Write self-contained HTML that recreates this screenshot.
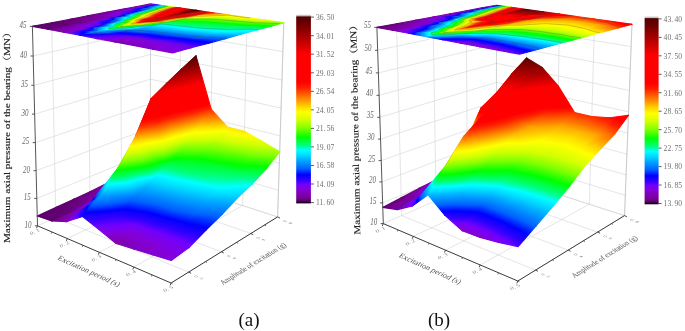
<!DOCTYPE html>
<html><head><meta charset="utf-8"><style>
html,body{margin:0;padding:0;background:#fff;}
svg{display:block;}
.t{stroke-width:1.1px;stroke-linejoin:round}
.zt{font:italic 10px "Liberation Serif",serif;fill:#666;text-anchor:end;}
.cb{font:7.6px "Liberation Serif",serif;fill:#707070;}
.cap{font:19px "Liberation Serif",serif;fill:#111;}
.ttl{font:9px "Liberation Serif","Noto Serif CJK SC",serif;fill:#222;stroke:#222;stroke-width:0.15px;}
.tl{font:6.3px "Liberation Serif",serif;fill:#808080;text-anchor:middle;}
.axt{font:7.5px "Liberation Serif",serif;fill:#505050;}
</style></head><body>
<svg width="685" height="331" viewBox="0 0 685 331">
<defs><linearGradient id="g1" gradientUnits="userSpaceOnUse" x1="136.2" y1="169.9" x2="127.7" y2="151"><stop offset="0" stop-color="#7a009d"/><stop offset="0.056" stop-color="#8000b4"/><stop offset="0.152" stop-color="#8400dc"/><stop offset="0.234" stop-color="#7000ff"/><stop offset="0.316" stop-color="#3000ff"/><stop offset="0.419" stop-color="#0000ff"/><stop offset="0.529" stop-color="#0060ff"/><stop offset="0.69" stop-color="#00a8ff"/><stop offset="0.786" stop-color="#00d8ff"/><stop offset="0.882" stop-color="#00ffff"/><stop offset="0.974" stop-color="#00ff80"/><stop offset="1" stop-color="#00ff6b"/></linearGradient>
<linearGradient id="g2" gradientUnits="userSpaceOnUse" x1="136.2" y1="169.9" x2="131.1" y2="164.2"><stop offset="0" stop-color="#7a009d"/><stop offset="0.056" stop-color="#8000b4"/><stop offset="0.152" stop-color="#8400dc"/><stop offset="0.234" stop-color="#7000ff"/><stop offset="0.316" stop-color="#3000ff"/><stop offset="0.419" stop-color="#0000ff"/><stop offset="0.529" stop-color="#0060ff"/><stop offset="0.69" stop-color="#00a8ff"/><stop offset="0.786" stop-color="#00d8ff"/><stop offset="0.882" stop-color="#00ffff"/><stop offset="0.974" stop-color="#00ff80"/><stop offset="1" stop-color="#00ff6b"/></linearGradient>
<linearGradient id="g3" gradientUnits="userSpaceOnUse" x1="121.4" y1="176.7" x2="116.3" y2="165"><stop offset="0" stop-color="#780097"/><stop offset="0.097" stop-color="#8000b4"/><stop offset="0.229" stop-color="#8400dc"/><stop offset="0.341" stop-color="#7000ff"/><stop offset="0.453" stop-color="#3000ff"/><stop offset="0.595" stop-color="#0000ff"/><stop offset="0.746" stop-color="#0060ff"/><stop offset="0.966" stop-color="#00a8ff"/><stop offset="1" stop-color="#00b4ff"/></linearGradient>
<linearGradient id="g4" gradientUnits="userSpaceOnUse" x1="121.4" y1="176.7" x2="131.2" y2="182.5"><stop offset="0" stop-color="#780097"/><stop offset="0.097" stop-color="#8000b4"/><stop offset="0.229" stop-color="#8400dc"/><stop offset="0.341" stop-color="#7000ff"/><stop offset="0.453" stop-color="#3000ff"/><stop offset="0.595" stop-color="#0000ff"/><stop offset="0.746" stop-color="#0060ff"/><stop offset="0.966" stop-color="#00a8ff"/><stop offset="1" stop-color="#00b4ff"/></linearGradient>
<linearGradient id="g5" gradientUnits="userSpaceOnUse" x1="106" y1="183.8" x2="104.4" y2="180.1"><stop offset="0" stop-color="#760091"/><stop offset="0.186" stop-color="#8000b4"/><stop offset="0.396" stop-color="#8400dc"/><stop offset="0.575" stop-color="#7000ff"/><stop offset="0.754" stop-color="#3000ff"/><stop offset="0.98" stop-color="#0000ff"/><stop offset="1" stop-color="#0008ff"/></linearGradient>
<linearGradient id="g6" gradientUnits="userSpaceOnUse" x1="106" y1="183.8" x2="137.1" y2="181.1"><stop offset="0" stop-color="#760091"/><stop offset="0.186" stop-color="#8000b4"/><stop offset="0.396" stop-color="#8400dc"/><stop offset="0.575" stop-color="#7000ff"/><stop offset="0.754" stop-color="#3000ff"/><stop offset="0.98" stop-color="#0000ff"/><stop offset="1" stop-color="#0008ff"/></linearGradient>
<linearGradient id="g7" gradientUnits="userSpaceOnUse" x1="90" y1="191.7" x2="92.4" y2="196.2"><stop offset="0" stop-color="#67007b"/><stop offset="0.109" stop-color="#760090"/><stop offset="0.468" stop-color="#8000b4"/><stop offset="0.863" stop-color="#8400dc"/><stop offset="1" stop-color="#7c00ea"/></linearGradient>
<linearGradient id="g8" gradientUnits="userSpaceOnUse" x1="90" y1="191.7" x2="120.7" y2="181.7"><stop offset="0" stop-color="#67007b"/><stop offset="0.109" stop-color="#760090"/><stop offset="0.468" stop-color="#8000b4"/><stop offset="0.863" stop-color="#8400dc"/><stop offset="1" stop-color="#7c00ea"/></linearGradient>
<linearGradient id="g9" gradientUnits="userSpaceOnUse" x1="73.2" y1="199.4" x2="77.7" y2="207.8"><stop offset="0" stop-color="#5f0070"/><stop offset="0.356" stop-color="#760090"/><stop offset="1" stop-color="#7e00ae"/></linearGradient>
<linearGradient id="g10" gradientUnits="userSpaceOnUse" x1="73.2" y1="199.4" x2="101.4" y2="186.6"><stop offset="0" stop-color="#5f0070"/><stop offset="0.356" stop-color="#760090"/><stop offset="1" stop-color="#7e00ae"/></linearGradient>
<linearGradient id="g11" gradientUnits="userSpaceOnUse" x1="55.6" y1="207.5" x2="61.9" y2="218.4"><stop offset="0" stop-color="#5b006a"/><stop offset="0.957" stop-color="#760090"/><stop offset="1" stop-color="#760091"/></linearGradient>
<linearGradient id="g12" gradientUnits="userSpaceOnUse" x1="55.6" y1="207.5" x2="87.8" y2="203.7"><stop offset="0" stop-color="#5b006a"/><stop offset="0.957" stop-color="#760090"/><stop offset="1" stop-color="#760091"/></linearGradient>
<linearGradient id="g13" gradientUnits="userSpaceOnUse" x1="37.2" y1="216" x2="41.6" y2="225.4"><stop offset="0" stop-color="#5b006a"/><stop offset="1" stop-color="#67007b"/></linearGradient>
<linearGradient id="g14" gradientUnits="userSpaceOnUse" x1="37.2" y1="216" x2="64.2" y2="201.2"><stop offset="0" stop-color="#5b006a"/><stop offset="1" stop-color="#67007b"/></linearGradient>
<linearGradient id="g15" gradientUnits="userSpaceOnUse" x1="150.6" y1="149.9" x2="128.4" y2="108.2"><stop offset="0" stop-color="#00b4ff"/><stop offset="0.037" stop-color="#00d8ff"/><stop offset="0.087" stop-color="#00ffff"/><stop offset="0.135" stop-color="#00ff80"/><stop offset="0.216" stop-color="#00ff00"/><stop offset="0.304" stop-color="#80ff00"/><stop offset="0.384" stop-color="#d0ff00"/><stop offset="0.463" stop-color="#ffff00"/><stop offset="0.504" stop-color="#ffe000"/><stop offset="0.553" stop-color="#ffb000"/><stop offset="0.603" stop-color="#ff8000"/><stop offset="0.653" stop-color="#ff5000"/><stop offset="0.703" stop-color="#ff2000"/><stop offset="0.762" stop-color="#ff0000"/><stop offset="1" stop-color="#ff0000"/></linearGradient>
<linearGradient id="g16" gradientUnits="userSpaceOnUse" x1="150.6" y1="149.9" x2="127.8" y2="112.2"><stop offset="0" stop-color="#00b4ff"/><stop offset="0.037" stop-color="#00d8ff"/><stop offset="0.087" stop-color="#00ffff"/><stop offset="0.135" stop-color="#00ff80"/><stop offset="0.216" stop-color="#00ff00"/><stop offset="0.304" stop-color="#80ff00"/><stop offset="0.384" stop-color="#d0ff00"/><stop offset="0.463" stop-color="#ffff00"/><stop offset="0.504" stop-color="#ffe000"/><stop offset="0.553" stop-color="#ffb000"/><stop offset="0.603" stop-color="#ff8000"/><stop offset="0.653" stop-color="#ff5000"/><stop offset="0.703" stop-color="#ff2000"/><stop offset="0.762" stop-color="#ff0000"/><stop offset="1" stop-color="#ff0000"/></linearGradient>
<linearGradient id="g17" gradientUnits="userSpaceOnUse" x1="135.8" y1="166" x2="115.1" y2="129.5"><stop offset="0" stop-color="#0008ff"/><stop offset="0.057" stop-color="#0060ff"/><stop offset="0.146" stop-color="#00a8ff"/><stop offset="0.2" stop-color="#00d8ff"/><stop offset="0.254" stop-color="#00ffff"/><stop offset="0.306" stop-color="#00ff80"/><stop offset="0.393" stop-color="#00ff00"/><stop offset="0.489" stop-color="#80ff00"/><stop offset="0.574" stop-color="#d0ff00"/><stop offset="0.66" stop-color="#ffff00"/><stop offset="0.704" stop-color="#ffe000"/><stop offset="0.758" stop-color="#ffb000"/><stop offset="0.811" stop-color="#ff8000"/><stop offset="0.865" stop-color="#ff5000"/><stop offset="0.919" stop-color="#ff2000"/><stop offset="0.983" stop-color="#ff0000"/><stop offset="1" stop-color="#ff0000"/></linearGradient>
<linearGradient id="g18" gradientUnits="userSpaceOnUse" x1="135.8" y1="166" x2="114.9" y2="134.8"><stop offset="0" stop-color="#0008ff"/><stop offset="0.057" stop-color="#0060ff"/><stop offset="0.146" stop-color="#00a8ff"/><stop offset="0.2" stop-color="#00d8ff"/><stop offset="0.254" stop-color="#00ffff"/><stop offset="0.306" stop-color="#00ff80"/><stop offset="0.393" stop-color="#00ff00"/><stop offset="0.489" stop-color="#80ff00"/><stop offset="0.574" stop-color="#d0ff00"/><stop offset="0.66" stop-color="#ffff00"/><stop offset="0.704" stop-color="#ffe000"/><stop offset="0.758" stop-color="#ffb000"/><stop offset="0.811" stop-color="#ff8000"/><stop offset="0.865" stop-color="#ff5000"/><stop offset="0.919" stop-color="#ff2000"/><stop offset="0.983" stop-color="#ff0000"/><stop offset="1" stop-color="#ff0000"/></linearGradient>
<linearGradient id="g19" gradientUnits="userSpaceOnUse" x1="120.5" y1="181.2" x2="102.3" y2="149.4"><stop offset="0" stop-color="#7c00ea"/><stop offset="0.03" stop-color="#7000ff"/><stop offset="0.081" stop-color="#3000ff"/><stop offset="0.146" stop-color="#0000ff"/><stop offset="0.215" stop-color="#0060ff"/><stop offset="0.315" stop-color="#00a8ff"/><stop offset="0.375" stop-color="#00d8ff"/><stop offset="0.435" stop-color="#00ffff"/><stop offset="0.493" stop-color="#00ff80"/><stop offset="0.591" stop-color="#00ff00"/><stop offset="0.697" stop-color="#80ff00"/><stop offset="0.793" stop-color="#d0ff00"/><stop offset="0.888" stop-color="#ffff00"/><stop offset="0.937" stop-color="#ffe000"/><stop offset="0.997" stop-color="#ffb000"/><stop offset="1" stop-color="#ffae00"/></linearGradient>
<linearGradient id="g20" gradientUnits="userSpaceOnUse" x1="120.5" y1="181.2" x2="109.5" y2="172.2"><stop offset="0" stop-color="#7c00ea"/><stop offset="0.03" stop-color="#7000ff"/><stop offset="0.081" stop-color="#3000ff"/><stop offset="0.146" stop-color="#0000ff"/><stop offset="0.215" stop-color="#0060ff"/><stop offset="0.315" stop-color="#00a8ff"/><stop offset="0.375" stop-color="#00d8ff"/><stop offset="0.435" stop-color="#00ffff"/><stop offset="0.493" stop-color="#00ff80"/><stop offset="0.591" stop-color="#00ff00"/><stop offset="0.697" stop-color="#80ff00"/><stop offset="0.793" stop-color="#d0ff00"/><stop offset="0.888" stop-color="#ffff00"/><stop offset="0.937" stop-color="#ffe000"/><stop offset="0.997" stop-color="#ffb000"/><stop offset="1" stop-color="#ffae00"/></linearGradient>
<linearGradient id="g21" gradientUnits="userSpaceOnUse" x1="104.5" y1="193.3" x2="92.7" y2="171.9"><stop offset="0" stop-color="#7e00ae"/><stop offset="0.012" stop-color="#8000b4"/><stop offset="0.094" stop-color="#8400dc"/><stop offset="0.163" stop-color="#7000ff"/><stop offset="0.233" stop-color="#3000ff"/><stop offset="0.321" stop-color="#0000ff"/><stop offset="0.415" stop-color="#0060ff"/><stop offset="0.552" stop-color="#00a8ff"/><stop offset="0.634" stop-color="#00d8ff"/><stop offset="0.716" stop-color="#00ffff"/><stop offset="0.795" stop-color="#00ff80"/><stop offset="0.929" stop-color="#00ff00"/><stop offset="1" stop-color="#3fff00"/></linearGradient>
<linearGradient id="g22" gradientUnits="userSpaceOnUse" x1="104.5" y1="193.3" x2="128.1" y2="196.9"><stop offset="0" stop-color="#7e00ae"/><stop offset="0.012" stop-color="#8000b4"/><stop offset="0.094" stop-color="#8400dc"/><stop offset="0.163" stop-color="#7000ff"/><stop offset="0.233" stop-color="#3000ff"/><stop offset="0.321" stop-color="#0000ff"/><stop offset="0.415" stop-color="#0060ff"/><stop offset="0.552" stop-color="#00a8ff"/><stop offset="0.634" stop-color="#00d8ff"/><stop offset="0.716" stop-color="#00ffff"/><stop offset="0.795" stop-color="#00ff80"/><stop offset="0.929" stop-color="#00ff00"/><stop offset="1" stop-color="#3fff00"/></linearGradient>
<linearGradient id="g23" gradientUnits="userSpaceOnUse" x1="87.8" y1="203.4" x2="83.6" y2="195.6"><stop offset="0" stop-color="#760091"/><stop offset="0.127" stop-color="#8000b4"/><stop offset="0.27" stop-color="#8400dc"/><stop offset="0.391" stop-color="#7000ff"/><stop offset="0.513" stop-color="#3000ff"/><stop offset="0.667" stop-color="#0000ff"/><stop offset="0.831" stop-color="#0060ff"/><stop offset="1" stop-color="#0093ff"/></linearGradient>
<linearGradient id="g24" gradientUnits="userSpaceOnUse" x1="87.8" y1="203.4" x2="109.9" y2="209.7"><stop offset="0" stop-color="#760091"/><stop offset="0.127" stop-color="#8000b4"/><stop offset="0.27" stop-color="#8400dc"/><stop offset="0.391" stop-color="#7000ff"/><stop offset="0.513" stop-color="#3000ff"/><stop offset="0.667" stop-color="#0000ff"/><stop offset="0.831" stop-color="#0060ff"/><stop offset="1" stop-color="#0093ff"/></linearGradient>
<linearGradient id="g25" gradientUnits="userSpaceOnUse" x1="70.2" y1="212.2" x2="70.1" y2="212"><stop offset="0" stop-color="#67007b"/><stop offset="0.068" stop-color="#760090"/><stop offset="0.294" stop-color="#8000b4"/><stop offset="0.543" stop-color="#8400dc"/><stop offset="0.755" stop-color="#7000ff"/><stop offset="0.968" stop-color="#3000ff"/><stop offset="1" stop-color="#2a00ff"/></linearGradient>
<linearGradient id="g26" gradientUnits="userSpaceOnUse" x1="70.2" y1="212.2" x2="91.6" y2="221.4"><stop offset="0" stop-color="#67007b"/><stop offset="0.068" stop-color="#760090"/><stop offset="0.294" stop-color="#8000b4"/><stop offset="0.543" stop-color="#8400dc"/><stop offset="0.755" stop-color="#7000ff"/><stop offset="0.968" stop-color="#3000ff"/><stop offset="1" stop-color="#2a00ff"/></linearGradient>
<linearGradient id="g27" gradientUnits="userSpaceOnUse" x1="51.8" y1="221" x2="54" y2="225.4"><stop offset="0" stop-color="#5f0070"/><stop offset="0.178" stop-color="#760090"/><stop offset="0.559" stop-color="#8000b4"/><stop offset="0.979" stop-color="#8400dc"/><stop offset="1" stop-color="#8300de"/></linearGradient>
<linearGradient id="g28" gradientUnits="userSpaceOnUse" x1="51.8" y1="221" x2="67.6" y2="233"><stop offset="0" stop-color="#5f0070"/><stop offset="0.178" stop-color="#760090"/><stop offset="0.559" stop-color="#8000b4"/><stop offset="0.979" stop-color="#8400dc"/><stop offset="1" stop-color="#8300de"/></linearGradient>
<linearGradient id="g29" gradientUnits="userSpaceOnUse" x1="165.7" y1="100.7" x2="160.6" y2="96.2"><stop offset="0" stop-color="#ff0000"/><stop offset="0.419" stop-color="#ff0000"/><stop offset="0.567" stop-color="#d00000"/><stop offset="0.724" stop-color="#a00000"/><stop offset="0.884" stop-color="#700000"/><stop offset="1" stop-color="#530000"/></linearGradient>
<linearGradient id="g30" gradientUnits="userSpaceOnUse" x1="165.7" y1="100.7" x2="153.9" y2="76.8"><stop offset="0" stop-color="#ff0000"/><stop offset="0.419" stop-color="#ff0000"/><stop offset="0.567" stop-color="#d00000"/><stop offset="0.724" stop-color="#a00000"/><stop offset="0.884" stop-color="#700000"/><stop offset="1" stop-color="#530000"/></linearGradient>
<linearGradient id="g31" gradientUnits="userSpaceOnUse" x1="150.9" y1="121.6" x2="137.9" y2="106.4"><stop offset="0" stop-color="#ffae00"/><stop offset="0.066" stop-color="#ff8000"/><stop offset="0.136" stop-color="#ff5000"/><stop offset="0.205" stop-color="#ff2000"/><stop offset="0.287" stop-color="#ff0000"/><stop offset="0.672" stop-color="#ff0000"/><stop offset="0.801" stop-color="#d00000"/><stop offset="0.937" stop-color="#a00000"/><stop offset="1" stop-color="#8a0000"/></linearGradient>
<linearGradient id="g32" gradientUnits="userSpaceOnUse" x1="150.9" y1="121.6" x2="136.1" y2="91.3"><stop offset="0" stop-color="#ffae00"/><stop offset="0.066" stop-color="#ff8000"/><stop offset="0.136" stop-color="#ff5000"/><stop offset="0.205" stop-color="#ff2000"/><stop offset="0.287" stop-color="#ff0000"/><stop offset="0.672" stop-color="#ff0000"/><stop offset="0.801" stop-color="#d00000"/><stop offset="0.937" stop-color="#a00000"/><stop offset="1" stop-color="#8a0000"/></linearGradient>
<linearGradient id="g33" gradientUnits="userSpaceOnUse" x1="135.4" y1="148.5" x2="118.7" y2="132.1"><stop offset="0" stop-color="#3fff00"/><stop offset="0.051" stop-color="#80ff00"/><stop offset="0.141" stop-color="#d0ff00"/><stop offset="0.231" stop-color="#ffff00"/><stop offset="0.277" stop-color="#ffe000"/><stop offset="0.334" stop-color="#ffb000"/><stop offset="0.39" stop-color="#ff8000"/><stop offset="0.447" stop-color="#ff5000"/><stop offset="0.503" stop-color="#ff2000"/><stop offset="0.57" stop-color="#ff0000"/><stop offset="0.884" stop-color="#ff0000"/><stop offset="0.989" stop-color="#d00000"/><stop offset="1" stop-color="#cb0000"/></linearGradient>
<linearGradient id="g34" gradientUnits="userSpaceOnUse" x1="135.4" y1="148.5" x2="115.9" y2="107.3"><stop offset="0" stop-color="#3fff00"/><stop offset="0.051" stop-color="#80ff00"/><stop offset="0.141" stop-color="#d0ff00"/><stop offset="0.231" stop-color="#ffff00"/><stop offset="0.277" stop-color="#ffe000"/><stop offset="0.334" stop-color="#ffb000"/><stop offset="0.39" stop-color="#ff8000"/><stop offset="0.447" stop-color="#ff5000"/><stop offset="0.503" stop-color="#ff2000"/><stop offset="0.57" stop-color="#ff0000"/><stop offset="0.884" stop-color="#ff0000"/><stop offset="0.989" stop-color="#d00000"/><stop offset="1" stop-color="#cb0000"/></linearGradient>
<linearGradient id="g35" gradientUnits="userSpaceOnUse" x1="119.4" y1="176.4" x2="94.1" y2="145.6"><stop offset="0" stop-color="#0093ff"/><stop offset="0.023" stop-color="#00a8ff"/><stop offset="0.071" stop-color="#00d8ff"/><stop offset="0.119" stop-color="#00ffff"/><stop offset="0.166" stop-color="#00ff80"/><stop offset="0.244" stop-color="#00ff00"/><stop offset="0.329" stop-color="#80ff00"/><stop offset="0.406" stop-color="#d0ff00"/><stop offset="0.482" stop-color="#ffff00"/><stop offset="0.521" stop-color="#ffe000"/><stop offset="0.569" stop-color="#ffb000"/><stop offset="0.617" stop-color="#ff8000"/><stop offset="0.665" stop-color="#ff5000"/><stop offset="0.713" stop-color="#ff2000"/><stop offset="0.77" stop-color="#ff0000"/><stop offset="1" stop-color="#ff0000"/></linearGradient>
<linearGradient id="g36" gradientUnits="userSpaceOnUse" x1="119.4" y1="176.4" x2="116.5" y2="175"><stop offset="0" stop-color="#0093ff"/><stop offset="0.023" stop-color="#00a8ff"/><stop offset="0.071" stop-color="#00d8ff"/><stop offset="0.119" stop-color="#00ffff"/><stop offset="0.166" stop-color="#00ff80"/><stop offset="0.244" stop-color="#00ff00"/><stop offset="0.329" stop-color="#80ff00"/><stop offset="0.406" stop-color="#d0ff00"/><stop offset="0.482" stop-color="#ffff00"/><stop offset="0.521" stop-color="#ffe000"/><stop offset="0.569" stop-color="#ffb000"/><stop offset="0.617" stop-color="#ff8000"/><stop offset="0.665" stop-color="#ff5000"/><stop offset="0.713" stop-color="#ff2000"/><stop offset="0.77" stop-color="#ff0000"/><stop offset="1" stop-color="#ff0000"/></linearGradient>
<linearGradient id="g37" gradientUnits="userSpaceOnUse" x1="102.7" y1="195.5" x2="86.1" y2="171.2"><stop offset="0" stop-color="#2a00ff"/><stop offset="0.062" stop-color="#0000ff"/><stop offset="0.138" stop-color="#0060ff"/><stop offset="0.248" stop-color="#00a8ff"/><stop offset="0.314" stop-color="#00d8ff"/><stop offset="0.38" stop-color="#00ffff"/><stop offset="0.443" stop-color="#00ff80"/><stop offset="0.55" stop-color="#00ff00"/><stop offset="0.668" stop-color="#80ff00"/><stop offset="0.773" stop-color="#d0ff00"/><stop offset="0.878" stop-color="#ffff00"/><stop offset="0.931" stop-color="#ffe000"/><stop offset="0.997" stop-color="#ffb000"/><stop offset="1" stop-color="#ffae00"/></linearGradient>
<linearGradient id="g38" gradientUnits="userSpaceOnUse" x1="102.7" y1="195.5" x2="103" y2="195.6"><stop offset="0" stop-color="#2a00ff"/><stop offset="0.062" stop-color="#0000ff"/><stop offset="0.138" stop-color="#0060ff"/><stop offset="0.248" stop-color="#00a8ff"/><stop offset="0.314" stop-color="#00d8ff"/><stop offset="0.38" stop-color="#00ffff"/><stop offset="0.443" stop-color="#00ff80"/><stop offset="0.55" stop-color="#00ff00"/><stop offset="0.668" stop-color="#80ff00"/><stop offset="0.773" stop-color="#d0ff00"/><stop offset="0.878" stop-color="#ffff00"/><stop offset="0.931" stop-color="#ffe000"/><stop offset="0.997" stop-color="#ffb000"/><stop offset="1" stop-color="#ffae00"/></linearGradient>
<linearGradient id="g39" gradientUnits="userSpaceOnUse" x1="85.3" y1="209.9" x2="75.5" y2="194.1"><stop offset="0" stop-color="#8300de"/><stop offset="0.075" stop-color="#7000ff"/><stop offset="0.155" stop-color="#3000ff"/><stop offset="0.255" stop-color="#0000ff"/><stop offset="0.362" stop-color="#0060ff"/><stop offset="0.518" stop-color="#00a8ff"/><stop offset="0.611" stop-color="#00d8ff"/><stop offset="0.704" stop-color="#00ffff"/><stop offset="0.794" stop-color="#00ff80"/><stop offset="0.946" stop-color="#00ff00"/><stop offset="1" stop-color="#29ff00"/></linearGradient>
<linearGradient id="g40" gradientUnits="userSpaceOnUse" x1="85.3" y1="209.9" x2="111.8" y2="213.7"><stop offset="0" stop-color="#8300de"/><stop offset="0.075" stop-color="#7000ff"/><stop offset="0.155" stop-color="#3000ff"/><stop offset="0.255" stop-color="#0000ff"/><stop offset="0.362" stop-color="#0060ff"/><stop offset="0.518" stop-color="#00a8ff"/><stop offset="0.611" stop-color="#00d8ff"/><stop offset="0.704" stop-color="#00ffff"/><stop offset="0.794" stop-color="#00ff80"/><stop offset="0.946" stop-color="#00ff00"/><stop offset="1" stop-color="#29ff00"/></linearGradient>
<linearGradient id="g41" gradientUnits="userSpaceOnUse" x1="66.9" y1="221.6" x2="64.3" y2="217.2"><stop offset="0" stop-color="#8100ba"/><stop offset="0.135" stop-color="#8400dc"/><stop offset="0.271" stop-color="#7000ff"/><stop offset="0.408" stop-color="#3000ff"/><stop offset="0.58" stop-color="#0000ff"/><stop offset="0.763" stop-color="#0060ff"/><stop offset="1" stop-color="#00a0ff"/></linearGradient>
<linearGradient id="g42" gradientUnits="userSpaceOnUse" x1="66.9" y1="221.6" x2="98.8" y2="223.9"><stop offset="0" stop-color="#8100ba"/><stop offset="0.135" stop-color="#8400dc"/><stop offset="0.271" stop-color="#7000ff"/><stop offset="0.408" stop-color="#3000ff"/><stop offset="0.58" stop-color="#0000ff"/><stop offset="0.763" stop-color="#0060ff"/><stop offset="1" stop-color="#00a0ff"/></linearGradient>
<linearGradient id="g43" gradientUnits="userSpaceOnUse" x1="191.3" y1="113.7" x2="179.6" y2="59.4"><stop offset="0" stop-color="#ff2d00"/><stop offset="0.02" stop-color="#ff2000"/><stop offset="0.103" stop-color="#ff0000"/><stop offset="0.492" stop-color="#ff0000"/><stop offset="0.621" stop-color="#d00000"/><stop offset="0.759" stop-color="#a00000"/><stop offset="0.899" stop-color="#700000"/><stop offset="1" stop-color="#530000"/></linearGradient>
<linearGradient id="g44" gradientUnits="userSpaceOnUse" x1="196.3" y1="127.1" x2="181.6" y2="69.1"><stop offset="0" stop-color="#ffd200"/><stop offset="0.046" stop-color="#ffb000"/><stop offset="0.112" stop-color="#ff8000"/><stop offset="0.178" stop-color="#ff5000"/><stop offset="0.244" stop-color="#ff2000"/><stop offset="0.322" stop-color="#ff0000"/><stop offset="0.688" stop-color="#ff0000"/><stop offset="0.81" stop-color="#d00000"/><stop offset="0.94" stop-color="#a00000"/><stop offset="1" stop-color="#8a0000"/></linearGradient>
<linearGradient id="g45" gradientUnits="userSpaceOnUse" x1="177.7" y1="131.4" x2="164.4" y2="73"><stop offset="0" stop-color="#ffd200"/><stop offset="0.046" stop-color="#ffb000"/><stop offset="0.112" stop-color="#ff8000"/><stop offset="0.178" stop-color="#ff5000"/><stop offset="0.244" stop-color="#ff2000"/><stop offset="0.322" stop-color="#ff0000"/><stop offset="0.688" stop-color="#ff0000"/><stop offset="0.81" stop-color="#d00000"/><stop offset="0.94" stop-color="#a00000"/><stop offset="1" stop-color="#8a0000"/></linearGradient>
<linearGradient id="g46" gradientUnits="userSpaceOnUse" x1="183" y1="148.7" x2="166.7" y2="83.3"><stop offset="0" stop-color="#74ff00"/><stop offset="0.01" stop-color="#80ff00"/><stop offset="0.104" stop-color="#d0ff00"/><stop offset="0.197" stop-color="#ffff00"/><stop offset="0.246" stop-color="#ffe000"/><stop offset="0.304" stop-color="#ffb000"/><stop offset="0.363" stop-color="#ff8000"/><stop offset="0.422" stop-color="#ff5000"/><stop offset="0.481" stop-color="#ff2000"/><stop offset="0.551" stop-color="#ff0000"/><stop offset="0.879" stop-color="#ff0000"/><stop offset="0.988" stop-color="#d00000"/><stop offset="1" stop-color="#cb0000"/></linearGradient>
<linearGradient id="g47" gradientUnits="userSpaceOnUse" x1="164.6" y1="153.2" x2="148.5" y2="87.8"><stop offset="0" stop-color="#74ff00"/><stop offset="0.01" stop-color="#80ff00"/><stop offset="0.104" stop-color="#d0ff00"/><stop offset="0.197" stop-color="#ffff00"/><stop offset="0.246" stop-color="#ffe000"/><stop offset="0.304" stop-color="#ffb000"/><stop offset="0.363" stop-color="#ff8000"/><stop offset="0.422" stop-color="#ff5000"/><stop offset="0.481" stop-color="#ff2000"/><stop offset="0.551" stop-color="#ff0000"/><stop offset="0.879" stop-color="#ff0000"/><stop offset="0.988" stop-color="#d00000"/><stop offset="1" stop-color="#cb0000"/></linearGradient>
<linearGradient id="g48" gradientUnits="userSpaceOnUse" x1="171.9" y1="163.6" x2="151.2" y2="98.7"><stop offset="0" stop-color="#00ff53"/><stop offset="0.063" stop-color="#00ff00"/><stop offset="0.169" stop-color="#80ff00"/><stop offset="0.264" stop-color="#d0ff00"/><stop offset="0.359" stop-color="#ffff00"/><stop offset="0.407" stop-color="#ffe000"/><stop offset="0.466" stop-color="#ffb000"/><stop offset="0.526" stop-color="#ff8000"/><stop offset="0.585" stop-color="#ff5000"/><stop offset="0.645" stop-color="#ff2000"/><stop offset="0.715" stop-color="#ff0000"/><stop offset="1" stop-color="#ff0000"/></linearGradient>
<linearGradient id="g49" gradientUnits="userSpaceOnUse" x1="139.7" y1="169.2" x2="129.6" y2="101.9"><stop offset="0" stop-color="#00ff53"/><stop offset="0.063" stop-color="#00ff00"/><stop offset="0.169" stop-color="#80ff00"/><stop offset="0.264" stop-color="#d0ff00"/><stop offset="0.359" stop-color="#ffff00"/><stop offset="0.407" stop-color="#ffe000"/><stop offset="0.466" stop-color="#ffb000"/><stop offset="0.526" stop-color="#ff8000"/><stop offset="0.585" stop-color="#ff5000"/><stop offset="0.645" stop-color="#ff2000"/><stop offset="0.715" stop-color="#ff0000"/><stop offset="1" stop-color="#ff0000"/></linearGradient>
<linearGradient id="g50" gradientUnits="userSpaceOnUse" x1="148" y1="182.5" x2="135" y2="137.7"><stop offset="0" stop-color="#00d8ff"/><stop offset="0.096" stop-color="#00ffff"/><stop offset="0.188" stop-color="#00ff80"/><stop offset="0.345" stop-color="#00ff00"/><stop offset="0.516" stop-color="#80ff00"/><stop offset="0.669" stop-color="#d0ff00"/><stop offset="0.822" stop-color="#ffff00"/><stop offset="0.9" stop-color="#ffe000"/><stop offset="0.996" stop-color="#ffb000"/><stop offset="1" stop-color="#ffae00"/></linearGradient>
<linearGradient id="g51" gradientUnits="userSpaceOnUse" x1="120.8" y1="185.9" x2="114.3" y2="140.6"><stop offset="0" stop-color="#00d8ff"/><stop offset="0.096" stop-color="#00ffff"/><stop offset="0.188" stop-color="#00ff80"/><stop offset="0.345" stop-color="#00ff00"/><stop offset="0.516" stop-color="#80ff00"/><stop offset="0.669" stop-color="#d0ff00"/><stop offset="0.822" stop-color="#ffff00"/><stop offset="0.9" stop-color="#ffe000"/><stop offset="0.996" stop-color="#ffb000"/><stop offset="1" stop-color="#ffae00"/></linearGradient>
<linearGradient id="g52" gradientUnits="userSpaceOnUse" x1="126.3" y1="199.7" x2="118.2" y2="167.8"><stop offset="0" stop-color="#0073ff"/><stop offset="0.192" stop-color="#00a8ff"/><stop offset="0.349" stop-color="#00d8ff"/><stop offset="0.505" stop-color="#00ffff"/><stop offset="0.656" stop-color="#00ff80"/><stop offset="0.91" stop-color="#00ff00"/><stop offset="1" stop-color="#29ff00"/></linearGradient>
<linearGradient id="g53" gradientUnits="userSpaceOnUse" x1="101.3" y1="200.7" x2="98.4" y2="169.7"><stop offset="0" stop-color="#0073ff"/><stop offset="0.192" stop-color="#00a8ff"/><stop offset="0.349" stop-color="#00d8ff"/><stop offset="0.505" stop-color="#00ffff"/><stop offset="0.656" stop-color="#00ff80"/><stop offset="0.91" stop-color="#00ff00"/><stop offset="1" stop-color="#29ff00"/></linearGradient>
<linearGradient id="g54" gradientUnits="userSpaceOnUse" x1="103.7" y1="217.3" x2="100.8" y2="195.6"><stop offset="0" stop-color="#2a00ff"/><stop offset="0.264" stop-color="#0000ff"/><stop offset="0.586" stop-color="#0060ff"/><stop offset="1" stop-color="#00a0ff"/></linearGradient>
<linearGradient id="g55" gradientUnits="userSpaceOnUse" x1="82.7" y1="218.3" x2="81" y2="197.3"><stop offset="0" stop-color="#2a00ff"/><stop offset="0.264" stop-color="#0000ff"/><stop offset="0.586" stop-color="#0060ff"/><stop offset="1" stop-color="#00a0ff"/></linearGradient>
<linearGradient id="g56" gradientUnits="userSpaceOnUse" x1="84.1" y1="231.1" x2="82.6" y2="216.5"><stop offset="0" stop-color="#7800f0"/><stop offset="0.218" stop-color="#7000ff"/><stop offset="0.739" stop-color="#3000ff"/><stop offset="1" stop-color="#1d00ff"/></linearGradient>
<linearGradient id="g57" gradientUnits="userSpaceOnUse" x1="197.3" y1="129.1" x2="196.1" y2="110.4"><stop offset="0" stop-color="#ffe600"/><stop offset="0.038" stop-color="#ffe000"/><stop offset="0.297" stop-color="#ffb000"/><stop offset="0.555" stop-color="#ff8000"/><stop offset="0.814" stop-color="#ff5000"/><stop offset="1" stop-color="#ff2d00"/></linearGradient>
<linearGradient id="g58" gradientUnits="userSpaceOnUse" x1="198.5" y1="145.6" x2="197.2" y2="126.9"><stop offset="0" stop-color="#9dff00"/><stop offset="0.272" stop-color="#d0ff00"/><stop offset="0.7" stop-color="#ffff00"/><stop offset="0.92" stop-color="#ffe000"/><stop offset="1" stop-color="#ffd200"/></linearGradient>
<linearGradient id="g59" gradientUnits="userSpaceOnUse" x1="182.4" y1="148.8" x2="182" y2="127.2"><stop offset="0" stop-color="#74ff00"/><stop offset="0.037" stop-color="#80ff00"/><stop offset="0.393" stop-color="#d0ff00"/><stop offset="0.75" stop-color="#ffff00"/><stop offset="0.933" stop-color="#ffe000"/><stop offset="1" stop-color="#ffd200"/></linearGradient>
<linearGradient id="g60" gradientUnits="userSpaceOnUse" x1="182.3" y1="159.9" x2="182.5" y2="144.2"><stop offset="0" stop-color="#00ff0d"/><stop offset="0.067" stop-color="#00ff00"/><stop offset="0.77" stop-color="#80ff00"/><stop offset="1" stop-color="#9dff00"/></linearGradient>
<linearGradient id="g61" gradientUnits="userSpaceOnUse" x1="167.2" y1="165.1" x2="167.4" y2="148.6"><stop offset="0" stop-color="#00ff53"/><stop offset="0.397" stop-color="#00ff00"/><stop offset="1" stop-color="#74ff00"/></linearGradient>
<linearGradient id="g62" gradientUnits="userSpaceOnUse" x1="166.6" y1="169.6" x2="168.4" y2="156.1"><stop offset="0" stop-color="#00ff77"/><stop offset="1" stop-color="#00ff0d"/></linearGradient>
<linearGradient id="g63" gradientUnits="userSpaceOnUse" x1="151.3" y1="181.5" x2="155" y2="162.7"><stop offset="0" stop-color="#00d8ff"/><stop offset="0.395" stop-color="#00ffff"/><stop offset="0.776" stop-color="#00ff80"/><stop offset="1" stop-color="#00ff53"/></linearGradient>
<linearGradient id="g64" gradientUnits="userSpaceOnUse" x1="150.7" y1="183.9" x2="155.4" y2="164.9"><stop offset="0" stop-color="#00caff"/><stop offset="0.125" stop-color="#00d8ff"/><stop offset="0.545" stop-color="#00ffff"/><stop offset="0.949" stop-color="#00ff80"/><stop offset="1" stop-color="#00ff77"/></linearGradient>
<linearGradient id="g65" gradientUnits="userSpaceOnUse" x1="134.7" y1="197.5" x2="139.2" y2="178.6"><stop offset="0" stop-color="#0073ff"/><stop offset="0.551" stop-color="#00a8ff"/><stop offset="1" stop-color="#00d8ff"/><stop offset="1" stop-color="#00d8ff"/></linearGradient>
<linearGradient id="g66" gradientUnits="userSpaceOnUse" x1="133.7" y1="203.2" x2="137.3" y2="182.8"><stop offset="0" stop-color="#0046ff"/><stop offset="0.115" stop-color="#0060ff"/><stop offset="0.737" stop-color="#00a8ff"/><stop offset="1" stop-color="#00caff"/></linearGradient>
<linearGradient id="g67" gradientUnits="userSpaceOnUse" x1="117.3" y1="215.5" x2="120.5" y2="195.3"><stop offset="0" stop-color="#2a00ff"/><stop offset="0.373" stop-color="#0000ff"/><stop offset="0.827" stop-color="#0060ff"/><stop offset="1" stop-color="#0073ff"/></linearGradient>
<linearGradient id="g68" gradientUnits="userSpaceOnUse" x1="116.2" y1="224.3" x2="118.9" y2="202.2"><stop offset="0" stop-color="#7500f6"/><stop offset="0.07" stop-color="#7000ff"/><stop offset="0.356" stop-color="#3000ff"/><stop offset="0.717" stop-color="#0000ff"/><stop offset="1" stop-color="#0046ff"/></linearGradient>
<linearGradient id="g69" gradientUnits="userSpaceOnUse" x1="99" y1="229.5" x2="98.5" y2="216.2"><stop offset="0" stop-color="#7800f0"/><stop offset="0.266" stop-color="#7000ff"/><stop offset="0.903" stop-color="#3000ff"/><stop offset="1" stop-color="#2a00ff"/></linearGradient>
<linearGradient id="g70" gradientUnits="userSpaceOnUse" x1="99.7" y1="244.3" x2="99" y2="228.3"><stop offset="0" stop-color="#7d00a9"/><stop offset="0.15" stop-color="#8000b4"/><stop offset="0.667" stop-color="#8400dc"/><stop offset="1" stop-color="#7500f6"/></linearGradient>
<linearGradient id="g71" gradientUnits="userSpaceOnUse" x1="213.5" y1="144.6" x2="218.5" y2="124.8"><stop offset="0" stop-color="#9dff00"/><stop offset="0.309" stop-color="#d0ff00"/><stop offset="0.796" stop-color="#ffff00"/><stop offset="1" stop-color="#ffe600"/></linearGradient>
<linearGradient id="g72" gradientUnits="userSpaceOnUse" x1="212.7" y1="148.7" x2="216.8" y2="126.3"><stop offset="0" stop-color="#74ff00"/><stop offset="0.041" stop-color="#80ff00"/><stop offset="0.437" stop-color="#d0ff00"/><stop offset="0.834" stop-color="#ffff00"/><stop offset="1" stop-color="#ffe600"/></linearGradient>
<linearGradient id="g73" gradientUnits="userSpaceOnUse" x1="199" y1="160.1" x2="201.2" y2="143"><stop offset="0" stop-color="#00ff0d"/><stop offset="0.067" stop-color="#00ff00"/><stop offset="0.77" stop-color="#80ff00"/><stop offset="1" stop-color="#9dff00"/></linearGradient>
<linearGradient id="g74" gradientUnits="userSpaceOnUse" x1="198.3" y1="164.4" x2="201.1" y2="147.1"><stop offset="0" stop-color="#00ff3c"/><stop offset="0.322" stop-color="#00ff00"/><stop offset="1" stop-color="#74ff00"/></linearGradient>
<linearGradient id="g75" gradientUnits="userSpaceOnUse" x1="183.9" y1="171.9" x2="185" y2="158.9"><stop offset="0" stop-color="#00ff77"/><stop offset="1" stop-color="#00ff0d"/></linearGradient>
<linearGradient id="g76" gradientUnits="userSpaceOnUse" x1="183.3" y1="176.8" x2="184.8" y2="163.7"><stop offset="0" stop-color="#00ffab"/><stop offset="0.274" stop-color="#00ff80"/><stop offset="1" stop-color="#00ff3c"/></linearGradient>
<linearGradient id="g77" gradientUnits="userSpaceOnUse" x1="168.1" y1="188.2" x2="171.7" y2="169.5"><stop offset="0" stop-color="#00caff"/><stop offset="0.125" stop-color="#00d8ff"/><stop offset="0.545" stop-color="#00ffff"/><stop offset="0.949" stop-color="#00ff80"/><stop offset="1" stop-color="#00ff77"/></linearGradient>
<linearGradient id="g78" gradientUnits="userSpaceOnUse" x1="167.3" y1="191.8" x2="171.4" y2="172.6"><stop offset="0" stop-color="#00b4ff"/><stop offset="0.312" stop-color="#00d8ff"/><stop offset="0.732" stop-color="#00ffff"/><stop offset="1" stop-color="#00ffab"/></linearGradient>
<linearGradient id="g79" gradientUnits="userSpaceOnUse" x1="151.5" y1="206.4" x2="156.1" y2="185.6"><stop offset="0" stop-color="#0046ff"/><stop offset="0.115" stop-color="#0060ff"/><stop offset="0.737" stop-color="#00a8ff"/><stop offset="1" stop-color="#00caff"/></linearGradient>
<linearGradient id="g80" gradientUnits="userSpaceOnUse" x1="150.9" y1="208.8" x2="156.6" y2="187.8"><stop offset="0" stop-color="#002dff"/><stop offset="0.239" stop-color="#0060ff"/><stop offset="0.898" stop-color="#00a8ff"/><stop offset="1" stop-color="#00b4ff"/></linearGradient>
<linearGradient id="g81" gradientUnits="userSpaceOnUse" x1="134.2" y1="226.6" x2="140.7" y2="203.4"><stop offset="0" stop-color="#7500f6"/><stop offset="0.07" stop-color="#7000ff"/><stop offset="0.356" stop-color="#3000ff"/><stop offset="0.717" stop-color="#0000ff"/><stop offset="1" stop-color="#0046ff"/></linearGradient>
<linearGradient id="g82" gradientUnits="userSpaceOnUse" x1="133.8" y1="227.8" x2="141.7" y2="204.5"><stop offset="0" stop-color="#7800f0"/><stop offset="0.126" stop-color="#7000ff"/><stop offset="0.428" stop-color="#3000ff"/><stop offset="0.808" stop-color="#0000ff"/><stop offset="1" stop-color="#002dff"/></linearGradient>
<linearGradient id="g83" gradientUnits="userSpaceOnUse" x1="116.1" y1="243.5" x2="122.7" y2="222.9"><stop offset="0" stop-color="#7d00a9"/><stop offset="0.15" stop-color="#8000b4"/><stop offset="0.667" stop-color="#8400dc"/><stop offset="1" stop-color="#7500f6"/></linearGradient>
<linearGradient id="g84" gradientUnits="userSpaceOnUse" x1="116.1" y1="243.5" x2="136.8" y2="220.5"><stop offset="0" stop-color="#7d00a9"/><stop offset="0.162" stop-color="#8000b4"/><stop offset="0.723" stop-color="#8400dc"/><stop offset="1" stop-color="#7800f0"/></linearGradient>
<linearGradient id="g85" gradientUnits="userSpaceOnUse" x1="230.5" y1="151.9" x2="232.6" y2="130.1"><stop offset="0" stop-color="#74ff00"/><stop offset="0.041" stop-color="#80ff00"/><stop offset="0.437" stop-color="#d0ff00"/><stop offset="0.834" stop-color="#ffff00"/><stop offset="1" stop-color="#ffe600"/></linearGradient>
<linearGradient id="g86" gradientUnits="userSpaceOnUse" x1="229.7" y1="156.5" x2="233" y2="136.4"><stop offset="0" stop-color="#3fff00"/><stop offset="0.277" stop-color="#80ff00"/><stop offset="0.764" stop-color="#d0ff00"/><stop offset="1" stop-color="#e7ff00"/></linearGradient>
<linearGradient id="g87" gradientUnits="userSpaceOnUse" x1="216.1" y1="167.3" x2="218.2" y2="150.4"><stop offset="0" stop-color="#00ff3c"/><stop offset="0.322" stop-color="#00ff00"/><stop offset="1" stop-color="#74ff00"/></linearGradient>
<linearGradient id="g88" gradientUnits="userSpaceOnUse" x1="215.4" y1="171.9" x2="218.1" y2="154.8"><stop offset="0" stop-color="#00ff6b"/><stop offset="0.61" stop-color="#00ff00"/><stop offset="1" stop-color="#3fff00"/></linearGradient>
<linearGradient id="g89" gradientUnits="userSpaceOnUse" x1="201.2" y1="178.9" x2="202" y2="166.4"><stop offset="0" stop-color="#00ffab"/><stop offset="0.274" stop-color="#00ff80"/><stop offset="1" stop-color="#00ff3c"/></linearGradient>
<linearGradient id="g90" gradientUnits="userSpaceOnUse" x1="200.7" y1="185.4" x2="201.6" y2="172.4"><stop offset="0" stop-color="#00fff9"/><stop offset="0.774" stop-color="#00ff80"/><stop offset="1" stop-color="#00ff6b"/></linearGradient>
<linearGradient id="g91" gradientUnits="userSpaceOnUse" x1="185.4" y1="195.7" x2="188.6" y2="176.8"><stop offset="0" stop-color="#00b4ff"/><stop offset="0.312" stop-color="#00d8ff"/><stop offset="0.732" stop-color="#00ffff"/><stop offset="1" stop-color="#00ffab"/></linearGradient>
<linearGradient id="g92" gradientUnits="userSpaceOnUse" x1="184.6" y1="200.5" x2="188.1" y2="181.1"><stop offset="0" stop-color="#0099ff"/><stop offset="0.142" stop-color="#00a8ff"/><stop offset="0.562" stop-color="#00d8ff"/><stop offset="0.982" stop-color="#00ffff"/><stop offset="1" stop-color="#00fff9"/></linearGradient>
<linearGradient id="g93" gradientUnits="userSpaceOnUse" x1="169" y1="213.8" x2="172.8" y2="193.3"><stop offset="0" stop-color="#002dff"/><stop offset="0.239" stop-color="#0060ff"/><stop offset="0.898" stop-color="#00a8ff"/><stop offset="1" stop-color="#00b4ff"/></linearGradient>
<linearGradient id="g94" gradientUnits="userSpaceOnUse" x1="168.1" y1="217.7" x2="172.9" y2="197"><stop offset="0" stop-color="#0008ff"/><stop offset="0.442" stop-color="#0060ff"/><stop offset="1" stop-color="#0099ff"/></linearGradient>
<linearGradient id="g95" gradientUnits="userSpaceOnUse" x1="151.8" y1="233.9" x2="157.4" y2="210.9"><stop offset="0" stop-color="#7800f0"/><stop offset="0.126" stop-color="#7000ff"/><stop offset="0.428" stop-color="#3000ff"/><stop offset="0.808" stop-color="#0000ff"/><stop offset="1" stop-color="#002dff"/></linearGradient>
<linearGradient id="g96" gradientUnits="userSpaceOnUse" x1="151.8" y1="233.9" x2="160.3" y2="211.7"><stop offset="0" stop-color="#7800f0"/><stop offset="0.15" stop-color="#7000ff"/><stop offset="0.508" stop-color="#3000ff"/><stop offset="0.959" stop-color="#0000ff"/><stop offset="1" stop-color="#0008ff"/></linearGradient>
<linearGradient id="g97" gradientUnits="userSpaceOnUse" x1="133.7" y1="249" x2="141.1" y2="229.8"><stop offset="0" stop-color="#8100ba"/><stop offset="0.63" stop-color="#8400dc"/><stop offset="1" stop-color="#7800f0"/></linearGradient>
<linearGradient id="g98" gradientUnits="userSpaceOnUse" x1="133.7" y1="249" x2="160.8" y2="228.6"><stop offset="0" stop-color="#8100ba"/><stop offset="0.63" stop-color="#8400dc"/><stop offset="1" stop-color="#7800f0"/></linearGradient>
<linearGradient id="g99" gradientUnits="userSpaceOnUse" x1="248" y1="159.5" x2="249.2" y2="140.4"><stop offset="0" stop-color="#3fff00"/><stop offset="0.277" stop-color="#80ff00"/><stop offset="0.764" stop-color="#d0ff00"/><stop offset="1" stop-color="#e7ff00"/></linearGradient>
<linearGradient id="g100" gradientUnits="userSpaceOnUse" x1="247.3" y1="167.3" x2="249" y2="148.9"><stop offset="0" stop-color="#00ff19"/><stop offset="0.113" stop-color="#00ff00"/><stop offset="0.742" stop-color="#80ff00"/><stop offset="1" stop-color="#a5ff00"/></linearGradient>
<linearGradient id="g101" gradientUnits="userSpaceOnUse" x1="233.8" y1="174.8" x2="234.7" y2="158.8"><stop offset="0" stop-color="#00ff6b"/><stop offset="0.61" stop-color="#00ff00"/><stop offset="1" stop-color="#3fff00"/></linearGradient>
<linearGradient id="g102" gradientUnits="userSpaceOnUse" x1="233.2" y1="182.9" x2="234.4" y2="166.7"><stop offset="0" stop-color="#00ffe6"/><stop offset="0.371" stop-color="#00ff80"/><stop offset="1" stop-color="#00ff19"/></linearGradient>
<linearGradient id="g103" gradientUnits="userSpaceOnUse" x1="219" y1="186.8" x2="218.6" y2="175.3"><stop offset="0" stop-color="#00fff9"/><stop offset="0.774" stop-color="#00ff80"/><stop offset="1" stop-color="#00ff6b"/></linearGradient>
<linearGradient id="g104" gradientUnits="userSpaceOnUse" x1="219.5" y1="198.5" x2="219" y2="185.5"><stop offset="0" stop-color="#00caff"/><stop offset="0.199" stop-color="#00d8ff"/><stop offset="0.872" stop-color="#00ffff"/><stop offset="1" stop-color="#00ffe6"/></linearGradient>
<linearGradient id="g105" gradientUnits="userSpaceOnUse" x1="203.4" y1="204" x2="204.3" y2="186.1"><stop offset="0" stop-color="#0099ff"/><stop offset="0.142" stop-color="#00a8ff"/><stop offset="0.562" stop-color="#00d8ff"/><stop offset="0.982" stop-color="#00ffff"/><stop offset="1" stop-color="#00fff9"/></linearGradient>
<linearGradient id="g106" gradientUnits="userSpaceOnUse" x1="202.7" y1="212.9" x2="204.2" y2="195.1"><stop offset="0" stop-color="#006cff"/><stop offset="0.662" stop-color="#00a8ff"/><stop offset="1" stop-color="#00caff"/></linearGradient>
<linearGradient id="g107" gradientUnits="userSpaceOnUse" x1="187.1" y1="222" x2="189" y2="202.6"><stop offset="0" stop-color="#0008ff"/><stop offset="0.442" stop-color="#0060ff"/><stop offset="1" stop-color="#0099ff"/></linearGradient>
<linearGradient id="g108" gradientUnits="userSpaceOnUse" x1="186.3" y1="225.4" x2="190.7" y2="207"><stop offset="0" stop-color="#0900ff"/><stop offset="0.122" stop-color="#0000ff"/><stop offset="0.824" stop-color="#0060ff"/><stop offset="1" stop-color="#006cff"/></linearGradient>
<linearGradient id="g109" gradientUnits="userSpaceOnUse" x1="170" y1="240.9" x2="175.9" y2="219"><stop offset="0" stop-color="#7800f0"/><stop offset="0.15" stop-color="#7000ff"/><stop offset="0.508" stop-color="#3000ff"/><stop offset="0.959" stop-color="#0000ff"/><stop offset="1" stop-color="#0008ff"/></linearGradient>
<linearGradient id="g110" gradientUnits="userSpaceOnUse" x1="170" y1="240.9" x2="180.3" y2="218.3"><stop offset="0" stop-color="#7800f0"/><stop offset="0.171" stop-color="#7000ff"/><stop offset="0.58" stop-color="#3000ff"/><stop offset="1" stop-color="#0900ff"/></linearGradient>
<linearGradient id="g111" gradientUnits="userSpaceOnUse" x1="152.1" y1="254.6" x2="163.9" y2="233.6"><stop offset="0" stop-color="#8200cc"/><stop offset="0.382" stop-color="#8400dc"/><stop offset="1" stop-color="#7500f6"/></linearGradient>
<linearGradient id="g112" gradientUnits="userSpaceOnUse" x1="152.1" y1="254.6" x2="186.8" y2="241.7"><stop offset="0" stop-color="#8200cc"/><stop offset="0.382" stop-color="#8400dc"/><stop offset="1" stop-color="#7500f6"/></linearGradient>
<linearGradient id="g113" gradientUnits="userSpaceOnUse" x1="135.9" y1="6.7" x2="136.9" y2="11.7"><stop offset="0" stop-color="#7a009d"/><stop offset="0.056" stop-color="#8000b4"/><stop offset="0.152" stop-color="#8400dc"/><stop offset="0.234" stop-color="#7000ff"/><stop offset="0.316" stop-color="#3000ff"/><stop offset="0.419" stop-color="#0000ff"/><stop offset="0.529" stop-color="#0060ff"/><stop offset="0.69" stop-color="#00a8ff"/><stop offset="0.786" stop-color="#00d8ff"/><stop offset="0.882" stop-color="#00ffff"/><stop offset="0.974" stop-color="#00ff80"/><stop offset="1" stop-color="#00ff6b"/></linearGradient>
<linearGradient id="g114" gradientUnits="userSpaceOnUse" x1="135.9" y1="6.7" x2="140.4" y2="16.9"><stop offset="0" stop-color="#7a009d"/><stop offset="0.056" stop-color="#8000b4"/><stop offset="0.152" stop-color="#8400dc"/><stop offset="0.234" stop-color="#7000ff"/><stop offset="0.316" stop-color="#3000ff"/><stop offset="0.419" stop-color="#0000ff"/><stop offset="0.529" stop-color="#0060ff"/><stop offset="0.69" stop-color="#00a8ff"/><stop offset="0.786" stop-color="#00d8ff"/><stop offset="0.882" stop-color="#00ffff"/><stop offset="0.974" stop-color="#00ff80"/><stop offset="1" stop-color="#00ff6b"/></linearGradient>
<linearGradient id="g115" gradientUnits="userSpaceOnUse" x1="120.6" y1="9.6" x2="121.6" y2="14.6"><stop offset="0" stop-color="#780097"/><stop offset="0.097" stop-color="#8000b4"/><stop offset="0.229" stop-color="#8400dc"/><stop offset="0.341" stop-color="#7000ff"/><stop offset="0.453" stop-color="#3000ff"/><stop offset="0.595" stop-color="#0000ff"/><stop offset="0.746" stop-color="#0060ff"/><stop offset="0.966" stop-color="#00a8ff"/><stop offset="1" stop-color="#00b4ff"/></linearGradient>
<linearGradient id="g116" gradientUnits="userSpaceOnUse" x1="120.6" y1="9.6" x2="132.1" y2="23.9"><stop offset="0" stop-color="#780097"/><stop offset="0.097" stop-color="#8000b4"/><stop offset="0.229" stop-color="#8400dc"/><stop offset="0.341" stop-color="#7000ff"/><stop offset="0.453" stop-color="#3000ff"/><stop offset="0.595" stop-color="#0000ff"/><stop offset="0.746" stop-color="#0060ff"/><stop offset="0.966" stop-color="#00a8ff"/><stop offset="1" stop-color="#00b4ff"/></linearGradient>
<linearGradient id="g117" gradientUnits="userSpaceOnUse" x1="104.5" y1="12.6" x2="105.6" y2="17.9"><stop offset="0" stop-color="#760091"/><stop offset="0.186" stop-color="#8000b4"/><stop offset="0.396" stop-color="#8400dc"/><stop offset="0.575" stop-color="#7000ff"/><stop offset="0.754" stop-color="#3000ff"/><stop offset="0.98" stop-color="#0000ff"/><stop offset="1" stop-color="#0008ff"/></linearGradient>
<linearGradient id="g118" gradientUnits="userSpaceOnUse" x1="104.5" y1="12.6" x2="134.6" y2="6.9"><stop offset="0" stop-color="#760091"/><stop offset="0.186" stop-color="#8000b4"/><stop offset="0.396" stop-color="#8400dc"/><stop offset="0.575" stop-color="#7000ff"/><stop offset="0.754" stop-color="#3000ff"/><stop offset="0.98" stop-color="#0000ff"/><stop offset="1" stop-color="#0008ff"/></linearGradient>
<linearGradient id="g119" gradientUnits="userSpaceOnUse" x1="87.7" y1="15.8" x2="89.3" y2="22.2"><stop offset="0" stop-color="#67007b"/><stop offset="0.109" stop-color="#760090"/><stop offset="0.468" stop-color="#8000b4"/><stop offset="0.863" stop-color="#8400dc"/><stop offset="1" stop-color="#7c00ea"/></linearGradient>
<linearGradient id="g120" gradientUnits="userSpaceOnUse" x1="87.7" y1="15.8" x2="109.3" y2="0.5"><stop offset="0" stop-color="#67007b"/><stop offset="0.109" stop-color="#760090"/><stop offset="0.468" stop-color="#8000b4"/><stop offset="0.863" stop-color="#8400dc"/><stop offset="1" stop-color="#7c00ea"/></linearGradient>
<linearGradient id="g121" gradientUnits="userSpaceOnUse" x1="70.2" y1="19.2" x2="71.8" y2="25.8"><stop offset="0" stop-color="#5f0070"/><stop offset="0.356" stop-color="#760090"/><stop offset="1" stop-color="#7e00ae"/></linearGradient>
<linearGradient id="g122" gradientUnits="userSpaceOnUse" x1="70.2" y1="19.2" x2="87" y2="2.4"><stop offset="0" stop-color="#5f0070"/><stop offset="0.356" stop-color="#760090"/><stop offset="1" stop-color="#7e00ae"/></linearGradient>
<linearGradient id="g123" gradientUnits="userSpaceOnUse" x1="51.7" y1="22.7" x2="53.5" y2="29.8"><stop offset="0" stop-color="#5b006a"/><stop offset="0.957" stop-color="#760090"/><stop offset="1" stop-color="#760091"/></linearGradient>
<linearGradient id="g124" gradientUnits="userSpaceOnUse" x1="51.7" y1="22.7" x2="83.8" y2="15.1"><stop offset="0" stop-color="#5b006a"/><stop offset="0.957" stop-color="#760090"/><stop offset="1" stop-color="#760091"/></linearGradient>
<linearGradient id="g125" gradientUnits="userSpaceOnUse" x1="32.4" y1="26.4" x2="33.4" y2="31.8"><stop offset="0" stop-color="#5b006a"/><stop offset="1" stop-color="#67007b"/></linearGradient>
<linearGradient id="g126" gradientUnits="userSpaceOnUse" x1="32.4" y1="26.4" x2="48.5" y2="8.6"><stop offset="0" stop-color="#5b006a"/><stop offset="1" stop-color="#67007b"/></linearGradient>
<linearGradient id="g127" gradientUnits="userSpaceOnUse" x1="150.8" y1="8.8" x2="152.7" y2="15.8"><stop offset="0" stop-color="#00b4ff"/><stop offset="0.037" stop-color="#00d8ff"/><stop offset="0.087" stop-color="#00ffff"/><stop offset="0.135" stop-color="#00ff80"/><stop offset="0.216" stop-color="#00ff00"/><stop offset="0.304" stop-color="#80ff00"/><stop offset="0.384" stop-color="#d0ff00"/><stop offset="0.463" stop-color="#ffff00"/><stop offset="0.504" stop-color="#ffe000"/><stop offset="0.553" stop-color="#ffb000"/><stop offset="0.603" stop-color="#ff8000"/><stop offset="0.653" stop-color="#ff5000"/><stop offset="0.703" stop-color="#ff2000"/><stop offset="0.762" stop-color="#ff0000"/><stop offset="1" stop-color="#ff0000"/></linearGradient>
<linearGradient id="g128" gradientUnits="userSpaceOnUse" x1="150.8" y1="8.8" x2="154" y2="17.7"><stop offset="0" stop-color="#00b4ff"/><stop offset="0.037" stop-color="#00d8ff"/><stop offset="0.087" stop-color="#00ffff"/><stop offset="0.135" stop-color="#00ff80"/><stop offset="0.216" stop-color="#00ff00"/><stop offset="0.304" stop-color="#80ff00"/><stop offset="0.384" stop-color="#d0ff00"/><stop offset="0.463" stop-color="#ffff00"/><stop offset="0.504" stop-color="#ffe000"/><stop offset="0.553" stop-color="#ffb000"/><stop offset="0.603" stop-color="#ff8000"/><stop offset="0.653" stop-color="#ff5000"/><stop offset="0.703" stop-color="#ff2000"/><stop offset="0.762" stop-color="#ff0000"/><stop offset="1" stop-color="#ff0000"/></linearGradient>
<linearGradient id="g129" gradientUnits="userSpaceOnUse" x1="135.6" y1="11.9" x2="137.6" y2="19.1"><stop offset="0" stop-color="#0008ff"/><stop offset="0.057" stop-color="#0060ff"/><stop offset="0.146" stop-color="#00a8ff"/><stop offset="0.2" stop-color="#00d8ff"/><stop offset="0.254" stop-color="#00ffff"/><stop offset="0.306" stop-color="#00ff80"/><stop offset="0.393" stop-color="#00ff00"/><stop offset="0.489" stop-color="#80ff00"/><stop offset="0.574" stop-color="#d0ff00"/><stop offset="0.66" stop-color="#ffff00"/><stop offset="0.704" stop-color="#ffe000"/><stop offset="0.758" stop-color="#ffb000"/><stop offset="0.811" stop-color="#ff8000"/><stop offset="0.865" stop-color="#ff5000"/><stop offset="0.919" stop-color="#ff2000"/><stop offset="0.983" stop-color="#ff0000"/><stop offset="1" stop-color="#ff0000"/></linearGradient>
<linearGradient id="g130" gradientUnits="userSpaceOnUse" x1="135.6" y1="11.9" x2="139.1" y2="21.3"><stop offset="0" stop-color="#0008ff"/><stop offset="0.057" stop-color="#0060ff"/><stop offset="0.146" stop-color="#00a8ff"/><stop offset="0.2" stop-color="#00d8ff"/><stop offset="0.254" stop-color="#00ffff"/><stop offset="0.306" stop-color="#00ff80"/><stop offset="0.393" stop-color="#00ff00"/><stop offset="0.489" stop-color="#80ff00"/><stop offset="0.574" stop-color="#d0ff00"/><stop offset="0.66" stop-color="#ffff00"/><stop offset="0.704" stop-color="#ffe000"/><stop offset="0.758" stop-color="#ffb000"/><stop offset="0.811" stop-color="#ff8000"/><stop offset="0.865" stop-color="#ff5000"/><stop offset="0.919" stop-color="#ff2000"/><stop offset="0.983" stop-color="#ff0000"/><stop offset="1" stop-color="#ff0000"/></linearGradient>
<linearGradient id="g131" gradientUnits="userSpaceOnUse" x1="119.6" y1="15" x2="121.6" y2="22.2"><stop offset="0" stop-color="#7c00ea"/><stop offset="0.03" stop-color="#7000ff"/><stop offset="0.081" stop-color="#3000ff"/><stop offset="0.146" stop-color="#0000ff"/><stop offset="0.215" stop-color="#0060ff"/><stop offset="0.315" stop-color="#00a8ff"/><stop offset="0.375" stop-color="#00d8ff"/><stop offset="0.435" stop-color="#00ffff"/><stop offset="0.493" stop-color="#00ff80"/><stop offset="0.591" stop-color="#00ff00"/><stop offset="0.697" stop-color="#80ff00"/><stop offset="0.793" stop-color="#d0ff00"/><stop offset="0.888" stop-color="#ffff00"/><stop offset="0.937" stop-color="#ffe000"/><stop offset="0.997" stop-color="#ffb000"/><stop offset="1" stop-color="#ffae00"/></linearGradient>
<linearGradient id="g132" gradientUnits="userSpaceOnUse" x1="119.6" y1="15" x2="128.4" y2="28.8"><stop offset="0" stop-color="#7c00ea"/><stop offset="0.03" stop-color="#7000ff"/><stop offset="0.081" stop-color="#3000ff"/><stop offset="0.146" stop-color="#0000ff"/><stop offset="0.215" stop-color="#0060ff"/><stop offset="0.315" stop-color="#00a8ff"/><stop offset="0.375" stop-color="#00d8ff"/><stop offset="0.435" stop-color="#00ffff"/><stop offset="0.493" stop-color="#00ff80"/><stop offset="0.591" stop-color="#00ff00"/><stop offset="0.697" stop-color="#80ff00"/><stop offset="0.793" stop-color="#d0ff00"/><stop offset="0.888" stop-color="#ffff00"/><stop offset="0.937" stop-color="#ffe000"/><stop offset="0.997" stop-color="#ffb000"/><stop offset="1" stop-color="#ffae00"/></linearGradient>
<linearGradient id="g133" gradientUnits="userSpaceOnUse" x1="102.9" y1="18.3" x2="104.6" y2="25.2"><stop offset="0" stop-color="#7e00ae"/><stop offset="0.012" stop-color="#8000b4"/><stop offset="0.094" stop-color="#8400dc"/><stop offset="0.163" stop-color="#7000ff"/><stop offset="0.233" stop-color="#3000ff"/><stop offset="0.321" stop-color="#0000ff"/><stop offset="0.415" stop-color="#0060ff"/><stop offset="0.552" stop-color="#00a8ff"/><stop offset="0.634" stop-color="#00d8ff"/><stop offset="0.716" stop-color="#00ffff"/><stop offset="0.795" stop-color="#00ff80"/><stop offset="0.929" stop-color="#00ff00"/><stop offset="1" stop-color="#3fff00"/></linearGradient>
<linearGradient id="g134" gradientUnits="userSpaceOnUse" x1="102.9" y1="18.3" x2="132.4" y2="27"><stop offset="0" stop-color="#7e00ae"/><stop offset="0.012" stop-color="#8000b4"/><stop offset="0.094" stop-color="#8400dc"/><stop offset="0.163" stop-color="#7000ff"/><stop offset="0.233" stop-color="#3000ff"/><stop offset="0.321" stop-color="#0000ff"/><stop offset="0.415" stop-color="#0060ff"/><stop offset="0.552" stop-color="#00a8ff"/><stop offset="0.634" stop-color="#00d8ff"/><stop offset="0.716" stop-color="#00ffff"/><stop offset="0.795" stop-color="#00ff80"/><stop offset="0.929" stop-color="#00ff00"/><stop offset="1" stop-color="#3fff00"/></linearGradient>
<linearGradient id="g135" gradientUnits="userSpaceOnUse" x1="85.4" y1="21.8" x2="87" y2="28.5"><stop offset="0" stop-color="#760091"/><stop offset="0.127" stop-color="#8000b4"/><stop offset="0.27" stop-color="#8400dc"/><stop offset="0.391" stop-color="#7000ff"/><stop offset="0.513" stop-color="#3000ff"/><stop offset="0.667" stop-color="#0000ff"/><stop offset="0.831" stop-color="#0060ff"/><stop offset="1" stop-color="#0093ff"/></linearGradient>
<linearGradient id="g136" gradientUnits="userSpaceOnUse" x1="85.4" y1="21.8" x2="109.3" y2="36.2"><stop offset="0" stop-color="#760091"/><stop offset="0.127" stop-color="#8000b4"/><stop offset="0.27" stop-color="#8400dc"/><stop offset="0.391" stop-color="#7000ff"/><stop offset="0.513" stop-color="#3000ff"/><stop offset="0.667" stop-color="#0000ff"/><stop offset="0.831" stop-color="#0060ff"/><stop offset="1" stop-color="#0093ff"/></linearGradient>
<linearGradient id="g137" gradientUnits="userSpaceOnUse" x1="67" y1="25.4" x2="68.4" y2="31.9"><stop offset="0" stop-color="#67007b"/><stop offset="0.068" stop-color="#760090"/><stop offset="0.294" stop-color="#8000b4"/><stop offset="0.543" stop-color="#8400dc"/><stop offset="0.755" stop-color="#7000ff"/><stop offset="0.968" stop-color="#3000ff"/><stop offset="1" stop-color="#2a00ff"/></linearGradient>
<linearGradient id="g138" gradientUnits="userSpaceOnUse" x1="67" y1="25.4" x2="84.6" y2="42"><stop offset="0" stop-color="#67007b"/><stop offset="0.068" stop-color="#760090"/><stop offset="0.294" stop-color="#8000b4"/><stop offset="0.543" stop-color="#8400dc"/><stop offset="0.755" stop-color="#7000ff"/><stop offset="0.968" stop-color="#3000ff"/><stop offset="1" stop-color="#2a00ff"/></linearGradient>
<linearGradient id="g139" gradientUnits="userSpaceOnUse" x1="47.6" y1="29.2" x2="49" y2="35.7"><stop offset="0" stop-color="#5f0070"/><stop offset="0.178" stop-color="#760090"/><stop offset="0.559" stop-color="#8000b4"/><stop offset="0.979" stop-color="#8400dc"/><stop offset="1" stop-color="#8300de"/></linearGradient>
<linearGradient id="g140" gradientUnits="userSpaceOnUse" x1="47.6" y1="29.2" x2="56.3" y2="43.9"><stop offset="0" stop-color="#5f0070"/><stop offset="0.178" stop-color="#760090"/><stop offset="0.559" stop-color="#8000b4"/><stop offset="0.979" stop-color="#8400dc"/><stop offset="1" stop-color="#8300de"/></linearGradient>
<linearGradient id="g141" gradientUnits="userSpaceOnUse" x1="166.2" y1="11.1" x2="176.5" y2="25.1"><stop offset="0" stop-color="#ff0000"/><stop offset="0.419" stop-color="#ff0000"/><stop offset="0.567" stop-color="#d00000"/><stop offset="0.724" stop-color="#a00000"/><stop offset="0.884" stop-color="#700000"/><stop offset="1" stop-color="#530000"/></linearGradient>
<linearGradient id="g142" gradientUnits="userSpaceOnUse" x1="166.2" y1="11.1" x2="169.4" y2="20"><stop offset="0" stop-color="#ff0000"/><stop offset="0.419" stop-color="#ff0000"/><stop offset="0.567" stop-color="#d00000"/><stop offset="0.724" stop-color="#a00000"/><stop offset="0.884" stop-color="#700000"/><stop offset="1" stop-color="#530000"/></linearGradient>
<linearGradient id="g143" gradientUnits="userSpaceOnUse" x1="151.1" y1="14.2" x2="157.3" y2="26.3"><stop offset="0" stop-color="#ffae00"/><stop offset="0.066" stop-color="#ff8000"/><stop offset="0.136" stop-color="#ff5000"/><stop offset="0.205" stop-color="#ff2000"/><stop offset="0.287" stop-color="#ff0000"/><stop offset="0.672" stop-color="#ff0000"/><stop offset="0.801" stop-color="#d00000"/><stop offset="0.937" stop-color="#a00000"/><stop offset="1" stop-color="#8a0000"/></linearGradient>
<linearGradient id="g144" gradientUnits="userSpaceOnUse" x1="151.1" y1="14.2" x2="153.9" y2="22.8"><stop offset="0" stop-color="#ffae00"/><stop offset="0.066" stop-color="#ff8000"/><stop offset="0.136" stop-color="#ff5000"/><stop offset="0.205" stop-color="#ff2000"/><stop offset="0.287" stop-color="#ff0000"/><stop offset="0.672" stop-color="#ff0000"/><stop offset="0.801" stop-color="#d00000"/><stop offset="0.937" stop-color="#a00000"/><stop offset="1" stop-color="#8a0000"/></linearGradient>
<linearGradient id="g145" gradientUnits="userSpaceOnUse" x1="135.2" y1="17.5" x2="142.8" y2="30.7"><stop offset="0" stop-color="#3fff00"/><stop offset="0.051" stop-color="#80ff00"/><stop offset="0.141" stop-color="#d0ff00"/><stop offset="0.231" stop-color="#ffff00"/><stop offset="0.277" stop-color="#ffe000"/><stop offset="0.334" stop-color="#ffb000"/><stop offset="0.39" stop-color="#ff8000"/><stop offset="0.447" stop-color="#ff5000"/><stop offset="0.503" stop-color="#ff2000"/><stop offset="0.57" stop-color="#ff0000"/><stop offset="0.884" stop-color="#ff0000"/><stop offset="0.989" stop-color="#d00000"/><stop offset="1" stop-color="#cb0000"/></linearGradient>
<linearGradient id="g146" gradientUnits="userSpaceOnUse" x1="135.2" y1="17.5" x2="137.6" y2="25.6"><stop offset="0" stop-color="#3fff00"/><stop offset="0.051" stop-color="#80ff00"/><stop offset="0.141" stop-color="#d0ff00"/><stop offset="0.231" stop-color="#ffff00"/><stop offset="0.277" stop-color="#ffe000"/><stop offset="0.334" stop-color="#ffb000"/><stop offset="0.39" stop-color="#ff8000"/><stop offset="0.447" stop-color="#ff5000"/><stop offset="0.503" stop-color="#ff2000"/><stop offset="0.57" stop-color="#ff0000"/><stop offset="0.884" stop-color="#ff0000"/><stop offset="0.989" stop-color="#d00000"/><stop offset="1" stop-color="#cb0000"/></linearGradient>
<linearGradient id="g147" gradientUnits="userSpaceOnUse" x1="118.5" y1="20.9" x2="123.5" y2="32.2"><stop offset="0" stop-color="#0093ff"/><stop offset="0.023" stop-color="#00a8ff"/><stop offset="0.071" stop-color="#00d8ff"/><stop offset="0.119" stop-color="#00ffff"/><stop offset="0.166" stop-color="#00ff80"/><stop offset="0.244" stop-color="#00ff00"/><stop offset="0.329" stop-color="#80ff00"/><stop offset="0.406" stop-color="#d0ff00"/><stop offset="0.482" stop-color="#ffff00"/><stop offset="0.521" stop-color="#ffe000"/><stop offset="0.569" stop-color="#ffb000"/><stop offset="0.617" stop-color="#ff8000"/><stop offset="0.665" stop-color="#ff5000"/><stop offset="0.713" stop-color="#ff2000"/><stop offset="0.77" stop-color="#ff0000"/><stop offset="1" stop-color="#ff0000"/></linearGradient>
<linearGradient id="g148" gradientUnits="userSpaceOnUse" x1="118.5" y1="20.9" x2="138.3" y2="36.5"><stop offset="0" stop-color="#0093ff"/><stop offset="0.023" stop-color="#00a8ff"/><stop offset="0.071" stop-color="#00d8ff"/><stop offset="0.119" stop-color="#00ffff"/><stop offset="0.166" stop-color="#00ff80"/><stop offset="0.244" stop-color="#00ff00"/><stop offset="0.329" stop-color="#80ff00"/><stop offset="0.406" stop-color="#d0ff00"/><stop offset="0.482" stop-color="#ffff00"/><stop offset="0.521" stop-color="#ffe000"/><stop offset="0.569" stop-color="#ffb000"/><stop offset="0.617" stop-color="#ff8000"/><stop offset="0.665" stop-color="#ff5000"/><stop offset="0.713" stop-color="#ff2000"/><stop offset="0.77" stop-color="#ff0000"/><stop offset="1" stop-color="#ff0000"/></linearGradient>
<linearGradient id="g149" gradientUnits="userSpaceOnUse" x1="101.1" y1="24.5" x2="104.2" y2="33.8"><stop offset="0" stop-color="#2a00ff"/><stop offset="0.062" stop-color="#0000ff"/><stop offset="0.138" stop-color="#0060ff"/><stop offset="0.248" stop-color="#00a8ff"/><stop offset="0.314" stop-color="#00d8ff"/><stop offset="0.38" stop-color="#00ffff"/><stop offset="0.443" stop-color="#00ff80"/><stop offset="0.55" stop-color="#00ff00"/><stop offset="0.668" stop-color="#80ff00"/><stop offset="0.773" stop-color="#d0ff00"/><stop offset="0.878" stop-color="#ffff00"/><stop offset="0.931" stop-color="#ffe000"/><stop offset="0.997" stop-color="#ffb000"/><stop offset="1" stop-color="#ffae00"/></linearGradient>
<linearGradient id="g150" gradientUnits="userSpaceOnUse" x1="101.1" y1="24.5" x2="116.7" y2="40.8"><stop offset="0" stop-color="#2a00ff"/><stop offset="0.062" stop-color="#0000ff"/><stop offset="0.138" stop-color="#0060ff"/><stop offset="0.248" stop-color="#00a8ff"/><stop offset="0.314" stop-color="#00d8ff"/><stop offset="0.38" stop-color="#00ffff"/><stop offset="0.443" stop-color="#00ff80"/><stop offset="0.55" stop-color="#00ff00"/><stop offset="0.668" stop-color="#80ff00"/><stop offset="0.773" stop-color="#d0ff00"/><stop offset="0.878" stop-color="#ffff00"/><stop offset="0.931" stop-color="#ffe000"/><stop offset="0.997" stop-color="#ffb000"/><stop offset="1" stop-color="#ffae00"/></linearGradient>
<linearGradient id="g151" gradientUnits="userSpaceOnUse" x1="82.8" y1="28.3" x2="85.1" y2="36.6"><stop offset="0" stop-color="#8300de"/><stop offset="0.075" stop-color="#7000ff"/><stop offset="0.155" stop-color="#3000ff"/><stop offset="0.255" stop-color="#0000ff"/><stop offset="0.362" stop-color="#0060ff"/><stop offset="0.518" stop-color="#00a8ff"/><stop offset="0.611" stop-color="#00d8ff"/><stop offset="0.704" stop-color="#00ffff"/><stop offset="0.794" stop-color="#00ff80"/><stop offset="0.946" stop-color="#00ff00"/><stop offset="1" stop-color="#29ff00"/></linearGradient>
<linearGradient id="g152" gradientUnits="userSpaceOnUse" x1="82.8" y1="28.3" x2="114.7" y2="37"><stop offset="0" stop-color="#8300de"/><stop offset="0.075" stop-color="#7000ff"/><stop offset="0.155" stop-color="#3000ff"/><stop offset="0.255" stop-color="#0000ff"/><stop offset="0.362" stop-color="#0060ff"/><stop offset="0.518" stop-color="#00a8ff"/><stop offset="0.611" stop-color="#00d8ff"/><stop offset="0.704" stop-color="#00ffff"/><stop offset="0.794" stop-color="#00ff80"/><stop offset="0.946" stop-color="#00ff00"/><stop offset="1" stop-color="#29ff00"/></linearGradient>
<linearGradient id="g153" gradientUnits="userSpaceOnUse" x1="63.5" y1="32.2" x2="65.6" y2="40.3"><stop offset="0" stop-color="#8100ba"/><stop offset="0.135" stop-color="#8400dc"/><stop offset="0.271" stop-color="#7000ff"/><stop offset="0.408" stop-color="#3000ff"/><stop offset="0.58" stop-color="#0000ff"/><stop offset="0.763" stop-color="#0060ff"/><stop offset="1" stop-color="#00a0ff"/></linearGradient>
<linearGradient id="g154" gradientUnits="userSpaceOnUse" x1="63.5" y1="32.2" x2="98.2" y2="37.5"><stop offset="0" stop-color="#8100ba"/><stop offset="0.135" stop-color="#8400dc"/><stop offset="0.271" stop-color="#7000ff"/><stop offset="0.408" stop-color="#3000ff"/><stop offset="0.58" stop-color="#0000ff"/><stop offset="0.763" stop-color="#0060ff"/><stop offset="1" stop-color="#00a0ff"/></linearGradient>
<linearGradient id="g155" gradientUnits="userSpaceOnUse" x1="182.7" y1="17.3" x2="182" y2="12.6"><stop offset="0" stop-color="#ff2d00"/><stop offset="0.02" stop-color="#ff2000"/><stop offset="0.103" stop-color="#ff0000"/><stop offset="0.492" stop-color="#ff0000"/><stop offset="0.621" stop-color="#d00000"/><stop offset="0.759" stop-color="#a00000"/><stop offset="0.899" stop-color="#700000"/><stop offset="1" stop-color="#530000"/></linearGradient>
<linearGradient id="g156" gradientUnits="userSpaceOnUse" x1="182.8" y1="18.2" x2="182.1" y2="13.4"><stop offset="0" stop-color="#ffd200"/><stop offset="0.046" stop-color="#ffb000"/><stop offset="0.112" stop-color="#ff8000"/><stop offset="0.178" stop-color="#ff5000"/><stop offset="0.244" stop-color="#ff2000"/><stop offset="0.322" stop-color="#ff0000"/><stop offset="0.688" stop-color="#ff0000"/><stop offset="0.81" stop-color="#d00000"/><stop offset="0.94" stop-color="#a00000"/><stop offset="1" stop-color="#8a0000"/></linearGradient>
<linearGradient id="g157" gradientUnits="userSpaceOnUse" x1="167.7" y1="20.7" x2="166.9" y2="15.8"><stop offset="0" stop-color="#ffd200"/><stop offset="0.046" stop-color="#ffb000"/><stop offset="0.112" stop-color="#ff8000"/><stop offset="0.178" stop-color="#ff5000"/><stop offset="0.244" stop-color="#ff2000"/><stop offset="0.322" stop-color="#ff0000"/><stop offset="0.688" stop-color="#ff0000"/><stop offset="0.81" stop-color="#d00000"/><stop offset="0.94" stop-color="#a00000"/><stop offset="1" stop-color="#8a0000"/></linearGradient>
<linearGradient id="g158" gradientUnits="userSpaceOnUse" x1="167.7" y1="21.4" x2="167.1" y2="16.7"><stop offset="0" stop-color="#74ff00"/><stop offset="0.01" stop-color="#80ff00"/><stop offset="0.104" stop-color="#d0ff00"/><stop offset="0.197" stop-color="#ffff00"/><stop offset="0.246" stop-color="#ffe000"/><stop offset="0.304" stop-color="#ffb000"/><stop offset="0.363" stop-color="#ff8000"/><stop offset="0.422" stop-color="#ff5000"/><stop offset="0.481" stop-color="#ff2000"/><stop offset="0.551" stop-color="#ff0000"/><stop offset="0.879" stop-color="#ff0000"/><stop offset="0.988" stop-color="#d00000"/><stop offset="1" stop-color="#cb0000"/></linearGradient>
<linearGradient id="g159" gradientUnits="userSpaceOnUse" x1="152" y1="24.2" x2="151.2" y2="19.2"><stop offset="0" stop-color="#74ff00"/><stop offset="0.01" stop-color="#80ff00"/><stop offset="0.104" stop-color="#d0ff00"/><stop offset="0.197" stop-color="#ffff00"/><stop offset="0.246" stop-color="#ffe000"/><stop offset="0.304" stop-color="#ffb000"/><stop offset="0.363" stop-color="#ff8000"/><stop offset="0.422" stop-color="#ff5000"/><stop offset="0.481" stop-color="#ff2000"/><stop offset="0.551" stop-color="#ff0000"/><stop offset="0.879" stop-color="#ff0000"/><stop offset="0.988" stop-color="#d00000"/><stop offset="1" stop-color="#cb0000"/></linearGradient>
<linearGradient id="g160" gradientUnits="userSpaceOnUse" x1="152.2" y1="25.4" x2="151.3" y2="20"><stop offset="0" stop-color="#00ff53"/><stop offset="0.063" stop-color="#00ff00"/><stop offset="0.169" stop-color="#80ff00"/><stop offset="0.264" stop-color="#d0ff00"/><stop offset="0.359" stop-color="#ffff00"/><stop offset="0.407" stop-color="#ffe000"/><stop offset="0.466" stop-color="#ffb000"/><stop offset="0.526" stop-color="#ff8000"/><stop offset="0.585" stop-color="#ff5000"/><stop offset="0.645" stop-color="#ff2000"/><stop offset="0.715" stop-color="#ff0000"/><stop offset="1" stop-color="#ff0000"/></linearGradient>
<linearGradient id="g161" gradientUnits="userSpaceOnUse" x1="134.9" y1="25.5" x2="134.6" y2="21.5"><stop offset="0" stop-color="#00ff53"/><stop offset="0.063" stop-color="#00ff00"/><stop offset="0.169" stop-color="#80ff00"/><stop offset="0.264" stop-color="#d0ff00"/><stop offset="0.359" stop-color="#ffff00"/><stop offset="0.407" stop-color="#ffe000"/><stop offset="0.466" stop-color="#ffb000"/><stop offset="0.526" stop-color="#ff8000"/><stop offset="0.585" stop-color="#ff5000"/><stop offset="0.645" stop-color="#ff2000"/><stop offset="0.715" stop-color="#ff0000"/><stop offset="1" stop-color="#ff0000"/></linearGradient>
<linearGradient id="g162" gradientUnits="userSpaceOnUse" x1="135.5" y1="28.7" x2="134.8" y2="23.6"><stop offset="0" stop-color="#00d8ff"/><stop offset="0.096" stop-color="#00ffff"/><stop offset="0.188" stop-color="#00ff80"/><stop offset="0.345" stop-color="#00ff00"/><stop offset="0.516" stop-color="#80ff00"/><stop offset="0.669" stop-color="#d0ff00"/><stop offset="0.822" stop-color="#ffff00"/><stop offset="0.9" stop-color="#ffe000"/><stop offset="0.996" stop-color="#ffb000"/><stop offset="1" stop-color="#ffae00"/></linearGradient>
<linearGradient id="g163" gradientUnits="userSpaceOnUse" x1="117.5" y1="28.9" x2="117.2" y2="24.9"><stop offset="0" stop-color="#00d8ff"/><stop offset="0.096" stop-color="#00ffff"/><stop offset="0.188" stop-color="#00ff80"/><stop offset="0.345" stop-color="#00ff00"/><stop offset="0.516" stop-color="#80ff00"/><stop offset="0.669" stop-color="#d0ff00"/><stop offset="0.822" stop-color="#ffff00"/><stop offset="0.9" stop-color="#ffe000"/><stop offset="0.996" stop-color="#ffb000"/><stop offset="1" stop-color="#ffae00"/></linearGradient>
<linearGradient id="g164" gradientUnits="userSpaceOnUse" x1="118" y1="32.2" x2="117.4" y2="27.3"><stop offset="0" stop-color="#0073ff"/><stop offset="0.192" stop-color="#00a8ff"/><stop offset="0.349" stop-color="#00d8ff"/><stop offset="0.505" stop-color="#00ffff"/><stop offset="0.656" stop-color="#00ff80"/><stop offset="0.91" stop-color="#00ff00"/><stop offset="1" stop-color="#29ff00"/></linearGradient>
<linearGradient id="g165" gradientUnits="userSpaceOnUse" x1="99.2" y1="31.8" x2="99" y2="28.2"><stop offset="0" stop-color="#0073ff"/><stop offset="0.192" stop-color="#00a8ff"/><stop offset="0.349" stop-color="#00d8ff"/><stop offset="0.505" stop-color="#00ffff"/><stop offset="0.656" stop-color="#00ff80"/><stop offset="0.91" stop-color="#00ff00"/><stop offset="1" stop-color="#29ff00"/></linearGradient>
<linearGradient id="g166" gradientUnits="userSpaceOnUse" x1="99.4" y1="35.3" x2="99.1" y2="31.2"><stop offset="0" stop-color="#2a00ff"/><stop offset="0.264" stop-color="#0000ff"/><stop offset="0.586" stop-color="#0060ff"/><stop offset="1" stop-color="#00a0ff"/></linearGradient>
<linearGradient id="g167" gradientUnits="userSpaceOnUse" x1="79.9" y1="35.7" x2="79.8" y2="32"><stop offset="0" stop-color="#2a00ff"/><stop offset="0.264" stop-color="#0000ff"/><stop offset="0.586" stop-color="#0060ff"/><stop offset="1" stop-color="#00a0ff"/></linearGradient>
<linearGradient id="g168" gradientUnits="userSpaceOnUse" x1="80.1" y1="39.4" x2="79.9" y2="35.3"><stop offset="0" stop-color="#7800f0"/><stop offset="0.218" stop-color="#7000ff"/><stop offset="0.739" stop-color="#3000ff"/><stop offset="1" stop-color="#1d00ff"/></linearGradient>
<linearGradient id="g169" gradientUnits="userSpaceOnUse" x1="198.6" y1="16.2" x2="198.5" y2="13.2"><stop offset="0" stop-color="#ffe600"/><stop offset="0.038" stop-color="#ffe000"/><stop offset="0.297" stop-color="#ffb000"/><stop offset="0.555" stop-color="#ff8000"/><stop offset="0.814" stop-color="#ff5000"/><stop offset="1" stop-color="#ff2d00"/></linearGradient>
<linearGradient id="g170" gradientUnits="userSpaceOnUse" x1="198.7" y1="19" x2="198.6" y2="15.9"><stop offset="0" stop-color="#9dff00"/><stop offset="0.272" stop-color="#d0ff00"/><stop offset="0.7" stop-color="#ffff00"/><stop offset="0.92" stop-color="#ffe000"/><stop offset="1" stop-color="#ffd200"/></linearGradient>
<linearGradient id="g171" gradientUnits="userSpaceOnUse" x1="183.6" y1="19.2" x2="183.6" y2="16"><stop offset="0" stop-color="#74ff00"/><stop offset="0.037" stop-color="#80ff00"/><stop offset="0.393" stop-color="#d0ff00"/><stop offset="0.75" stop-color="#ffff00"/><stop offset="0.933" stop-color="#ffe000"/><stop offset="1" stop-color="#ffd200"/></linearGradient>
<linearGradient id="g172" gradientUnits="userSpaceOnUse" x1="183.6" y1="21.7" x2="183.6" y2="18.1"><stop offset="0" stop-color="#00ff0d"/><stop offset="0.067" stop-color="#00ff00"/><stop offset="0.77" stop-color="#80ff00"/><stop offset="1" stop-color="#9dff00"/></linearGradient>
<linearGradient id="g173" gradientUnits="userSpaceOnUse" x1="168" y1="22.7" x2="168" y2="19"><stop offset="0" stop-color="#00ff53"/><stop offset="0.397" stop-color="#00ff00"/><stop offset="1" stop-color="#74ff00"/></linearGradient>
<linearGradient id="g174" gradientUnits="userSpaceOnUse" x1="167.9" y1="24.2" x2="168.2" y2="19.6"><stop offset="0" stop-color="#00ff77"/><stop offset="1" stop-color="#00ff0d"/></linearGradient>
<linearGradient id="g175" gradientUnits="userSpaceOnUse" x1="151.6" y1="26.4" x2="152.1" y2="21"><stop offset="0" stop-color="#00d8ff"/><stop offset="0.395" stop-color="#00ffff"/><stop offset="0.776" stop-color="#00ff80"/><stop offset="1" stop-color="#00ff53"/></linearGradient>
<linearGradient id="g176" gradientUnits="userSpaceOnUse" x1="151.5" y1="27.1" x2="152.2" y2="21.3"><stop offset="0" stop-color="#00caff"/><stop offset="0.125" stop-color="#00d8ff"/><stop offset="0.545" stop-color="#00ffff"/><stop offset="0.949" stop-color="#00ff80"/><stop offset="1" stop-color="#00ff77"/></linearGradient>
<linearGradient id="g177" gradientUnits="userSpaceOnUse" x1="134.3" y1="30.2" x2="135" y2="24.4"><stop offset="0" stop-color="#0073ff"/><stop offset="0.551" stop-color="#00a8ff"/><stop offset="1" stop-color="#00d8ff"/><stop offset="1" stop-color="#00d8ff"/></linearGradient>
<linearGradient id="g178" gradientUnits="userSpaceOnUse" x1="134.2" y1="31.7" x2="134.6" y2="26.3"><stop offset="0" stop-color="#0046ff"/><stop offset="0.115" stop-color="#0060ff"/><stop offset="0.737" stop-color="#00a8ff"/><stop offset="1" stop-color="#00caff"/></linearGradient>
<linearGradient id="g179" gradientUnits="userSpaceOnUse" x1="116.1" y1="34.3" x2="116.6" y2="28.8"><stop offset="0" stop-color="#2a00ff"/><stop offset="0.373" stop-color="#0000ff"/><stop offset="0.827" stop-color="#0060ff"/><stop offset="1" stop-color="#0073ff"/></linearGradient>
<linearGradient id="g180" gradientUnits="userSpaceOnUse" x1="116" y1="36.4" x2="116.3" y2="31.1"><stop offset="0" stop-color="#7500f6"/><stop offset="0.07" stop-color="#7000ff"/><stop offset="0.356" stop-color="#3000ff"/><stop offset="0.717" stop-color="#0000ff"/><stop offset="1" stop-color="#0046ff"/></linearGradient>
<linearGradient id="g181" gradientUnits="userSpaceOnUse" x1="97" y1="38.6" x2="96.9" y2="34.6"><stop offset="0" stop-color="#7800f0"/><stop offset="0.266" stop-color="#7000ff"/><stop offset="0.903" stop-color="#3000ff"/><stop offset="1" stop-color="#2a00ff"/></linearGradient>
<linearGradient id="g182" gradientUnits="userSpaceOnUse" x1="97.1" y1="42.3" x2="97" y2="38.3"><stop offset="0" stop-color="#7d00a9"/><stop offset="0.15" stop-color="#8000b4"/><stop offset="0.667" stop-color="#8400dc"/><stop offset="1" stop-color="#7500f6"/></linearGradient>
<linearGradient id="g183" gradientUnits="userSpaceOnUse" x1="215.6" y1="18.3" x2="216.3" y2="13.2"><stop offset="0" stop-color="#9dff00"/><stop offset="0.309" stop-color="#d0ff00"/><stop offset="0.796" stop-color="#ffff00"/><stop offset="1" stop-color="#ffe600"/></linearGradient>
<linearGradient id="g184" gradientUnits="userSpaceOnUse" x1="215.5" y1="19.2" x2="215.9" y2="14.5"><stop offset="0" stop-color="#74ff00"/><stop offset="0.041" stop-color="#80ff00"/><stop offset="0.437" stop-color="#d0ff00"/><stop offset="0.834" stop-color="#ffff00"/><stop offset="1" stop-color="#ffe600"/></linearGradient>
<linearGradient id="g185" gradientUnits="userSpaceOnUse" x1="200.8" y1="21.8" x2="201.1" y2="17.3"><stop offset="0" stop-color="#00ff0d"/><stop offset="0.067" stop-color="#00ff00"/><stop offset="0.77" stop-color="#80ff00"/><stop offset="1" stop-color="#9dff00"/></linearGradient>
<linearGradient id="g186" gradientUnits="userSpaceOnUse" x1="200.7" y1="23" x2="201.1" y2="18.2"><stop offset="0" stop-color="#00ff3c"/><stop offset="0.322" stop-color="#00ff00"/><stop offset="1" stop-color="#74ff00"/></linearGradient>
<linearGradient id="g187" gradientUnits="userSpaceOnUse" x1="185.3" y1="25.4" x2="185.5" y2="21.1"><stop offset="0" stop-color="#00ff77"/><stop offset="1" stop-color="#00ff0d"/></linearGradient>
<linearGradient id="g188" gradientUnits="userSpaceOnUse" x1="185.2" y1="27.2" x2="185.5" y2="22.5"><stop offset="0" stop-color="#00ffab"/><stop offset="0.274" stop-color="#00ff80"/><stop offset="1" stop-color="#00ff3c"/></linearGradient>
<linearGradient id="g189" gradientUnits="userSpaceOnUse" x1="169" y1="29.2" x2="169.5" y2="23.8"><stop offset="0" stop-color="#00caff"/><stop offset="0.125" stop-color="#00d8ff"/><stop offset="0.545" stop-color="#00ffff"/><stop offset="0.949" stop-color="#00ff80"/><stop offset="1" stop-color="#00ff77"/></linearGradient>
<linearGradient id="g190" gradientUnits="userSpaceOnUse" x1="168.9" y1="30.3" x2="169.5" y2="24.7"><stop offset="0" stop-color="#00b4ff"/><stop offset="0.312" stop-color="#00d8ff"/><stop offset="0.732" stop-color="#00ffff"/><stop offset="1" stop-color="#00ffab"/></linearGradient>
<linearGradient id="g191" gradientUnits="userSpaceOnUse" x1="151.9" y1="33.3" x2="152.5" y2="27.4"><stop offset="0" stop-color="#0046ff"/><stop offset="0.115" stop-color="#0060ff"/><stop offset="0.737" stop-color="#00a8ff"/><stop offset="1" stop-color="#00caff"/></linearGradient>
<linearGradient id="g192" gradientUnits="userSpaceOnUse" x1="151.8" y1="34" x2="152.6" y2="27.7"><stop offset="0" stop-color="#002dff"/><stop offset="0.239" stop-color="#0060ff"/><stop offset="0.898" stop-color="#00a8ff"/><stop offset="1" stop-color="#00b4ff"/></linearGradient>
<linearGradient id="g193" gradientUnits="userSpaceOnUse" x1="133.8" y1="37.5" x2="134.7" y2="30.9"><stop offset="0" stop-color="#7500f6"/><stop offset="0.07" stop-color="#7000ff"/><stop offset="0.356" stop-color="#3000ff"/><stop offset="0.717" stop-color="#0000ff"/><stop offset="1" stop-color="#0046ff"/></linearGradient>
<linearGradient id="g194" gradientUnits="userSpaceOnUse" x1="133.7" y1="37.9" x2="134.9" y2="30.8"><stop offset="0" stop-color="#7800f0"/><stop offset="0.126" stop-color="#7000ff"/><stop offset="0.428" stop-color="#3000ff"/><stop offset="0.808" stop-color="#0000ff"/><stop offset="1" stop-color="#002dff"/></linearGradient>
<linearGradient id="g195" gradientUnits="userSpaceOnUse" x1="114.8" y1="41.9" x2="115.8" y2="34.8"><stop offset="0" stop-color="#7d00a9"/><stop offset="0.15" stop-color="#8000b4"/><stop offset="0.667" stop-color="#8400dc"/><stop offset="1" stop-color="#7500f6"/></linearGradient>
<linearGradient id="g196" gradientUnits="userSpaceOnUse" x1="114.8" y1="41.9" x2="120.6" y2="27.7"><stop offset="0" stop-color="#7d00a9"/><stop offset="0.162" stop-color="#8000b4"/><stop offset="0.723" stop-color="#8400dc"/><stop offset="1" stop-color="#7800f0"/></linearGradient>
<linearGradient id="g197" gradientUnits="userSpaceOnUse" x1="233.2" y1="20.9" x2="233.4" y2="16.8"><stop offset="0" stop-color="#74ff00"/><stop offset="0.041" stop-color="#80ff00"/><stop offset="0.437" stop-color="#d0ff00"/><stop offset="0.834" stop-color="#ffff00"/><stop offset="1" stop-color="#ffe600"/></linearGradient>
<linearGradient id="g198" gradientUnits="userSpaceOnUse" x1="233.1" y1="22" x2="233.5" y2="17.3"><stop offset="0" stop-color="#3fff00"/><stop offset="0.277" stop-color="#80ff00"/><stop offset="0.764" stop-color="#d0ff00"/><stop offset="1" stop-color="#e7ff00"/></linearGradient>
<linearGradient id="g199" gradientUnits="userSpaceOnUse" x1="218.6" y1="24.5" x2="218.9" y2="20"><stop offset="0" stop-color="#00ff3c"/><stop offset="0.322" stop-color="#00ff00"/><stop offset="1" stop-color="#74ff00"/></linearGradient>
<linearGradient id="g200" gradientUnits="userSpaceOnUse" x1="218.5" y1="25.8" x2="218.9" y2="20.9"><stop offset="0" stop-color="#00ff6b"/><stop offset="0.61" stop-color="#00ff00"/><stop offset="1" stop-color="#3fff00"/></linearGradient>
<linearGradient id="g201" gradientUnits="userSpaceOnUse" x1="203.2" y1="28.3" x2="203.4" y2="24"><stop offset="0" stop-color="#00ffab"/><stop offset="0.274" stop-color="#00ff80"/><stop offset="1" stop-color="#00ff3c"/></linearGradient>
<linearGradient id="g202" gradientUnits="userSpaceOnUse" x1="203.1" y1="30.5" x2="203.3" y2="26"><stop offset="0" stop-color="#00fff9"/><stop offset="0.774" stop-color="#00ff80"/><stop offset="1" stop-color="#00ff6b"/></linearGradient>
<linearGradient id="g203" gradientUnits="userSpaceOnUse" x1="187.1" y1="32.2" x2="187.5" y2="26.9"><stop offset="0" stop-color="#00b4ff"/><stop offset="0.312" stop-color="#00d8ff"/><stop offset="0.732" stop-color="#00ffff"/><stop offset="1" stop-color="#00ffab"/></linearGradient>
<linearGradient id="g204" gradientUnits="userSpaceOnUse" x1="187" y1="33.6" x2="187.5" y2="28.1"><stop offset="0" stop-color="#0099ff"/><stop offset="0.142" stop-color="#00a8ff"/><stop offset="0.562" stop-color="#00d8ff"/><stop offset="0.982" stop-color="#00ffff"/><stop offset="1" stop-color="#00fff9"/></linearGradient>
<linearGradient id="g205" gradientUnits="userSpaceOnUse" x1="170.1" y1="36.4" x2="170.6" y2="30.7"><stop offset="0" stop-color="#002dff"/><stop offset="0.239" stop-color="#0060ff"/><stop offset="0.898" stop-color="#00a8ff"/><stop offset="1" stop-color="#00b4ff"/></linearGradient>
<linearGradient id="g206" gradientUnits="userSpaceOnUse" x1="170" y1="37.6" x2="170.6" y2="31.4"><stop offset="0" stop-color="#0008ff"/><stop offset="0.442" stop-color="#0060ff"/><stop offset="1" stop-color="#0099ff"/></linearGradient>
<linearGradient id="g207" gradientUnits="userSpaceOnUse" x1="152.2" y1="40.8" x2="152.9" y2="34.4"><stop offset="0" stop-color="#7800f0"/><stop offset="0.126" stop-color="#7000ff"/><stop offset="0.428" stop-color="#3000ff"/><stop offset="0.808" stop-color="#0000ff"/><stop offset="1" stop-color="#002dff"/></linearGradient>
<linearGradient id="g208" gradientUnits="userSpaceOnUse" x1="152.2" y1="40.8" x2="153.5" y2="33.3"><stop offset="0" stop-color="#7800f0"/><stop offset="0.15" stop-color="#7000ff"/><stop offset="0.508" stop-color="#3000ff"/><stop offset="0.959" stop-color="#0000ff"/><stop offset="1" stop-color="#0008ff"/></linearGradient>
<linearGradient id="g209" gradientUnits="userSpaceOnUse" x1="133.3" y1="45.4" x2="134.7" y2="37.6"><stop offset="0" stop-color="#8100ba"/><stop offset="0.63" stop-color="#8400dc"/><stop offset="1" stop-color="#7800f0"/></linearGradient>
<linearGradient id="g210" gradientUnits="userSpaceOnUse" x1="133.3" y1="45.4" x2="144.2" y2="27.6"><stop offset="0" stop-color="#8100ba"/><stop offset="0.63" stop-color="#8400dc"/><stop offset="1" stop-color="#7800f0"/></linearGradient>
<linearGradient id="g211" gradientUnits="userSpaceOnUse" x1="251.4" y1="23.6" x2="251.5" y2="19.6"><stop offset="0" stop-color="#3fff00"/><stop offset="0.277" stop-color="#80ff00"/><stop offset="0.764" stop-color="#d0ff00"/><stop offset="1" stop-color="#e7ff00"/></linearGradient>
<linearGradient id="g212" gradientUnits="userSpaceOnUse" x1="251.3" y1="25.4" x2="251.5" y2="21.1"><stop offset="0" stop-color="#00ff19"/><stop offset="0.113" stop-color="#00ff00"/><stop offset="0.742" stop-color="#80ff00"/><stop offset="1" stop-color="#a5ff00"/></linearGradient>
<linearGradient id="g213" gradientUnits="userSpaceOnUse" x1="237" y1="27.3" x2="237.1" y2="23.2"><stop offset="0" stop-color="#00ff6b"/><stop offset="0.61" stop-color="#00ff00"/><stop offset="1" stop-color="#3fff00"/></linearGradient>
<linearGradient id="g214" gradientUnits="userSpaceOnUse" x1="236.9" y1="29.5" x2="237.1" y2="25.1"><stop offset="0" stop-color="#00ffe6"/><stop offset="0.371" stop-color="#00ff80"/><stop offset="1" stop-color="#00ff19"/></linearGradient>
<linearGradient id="g215" gradientUnits="userSpaceOnUse" x1="221.8" y1="31.2" x2="221.8" y2="27.6"><stop offset="0" stop-color="#00fff9"/><stop offset="0.774" stop-color="#00ff80"/><stop offset="1" stop-color="#00ff6b"/></linearGradient>
<linearGradient id="g216" gradientUnits="userSpaceOnUse" x1="221.9" y1="34.6" x2="221.8" y2="30.8"><stop offset="0" stop-color="#00caff"/><stop offset="0.199" stop-color="#00d8ff"/><stop offset="0.872" stop-color="#00ffff"/><stop offset="1" stop-color="#00ffe6"/></linearGradient>
<linearGradient id="g217" gradientUnits="userSpaceOnUse" x1="205.9" y1="35.3" x2="206" y2="30.8"><stop offset="0" stop-color="#0099ff"/><stop offset="0.142" stop-color="#00a8ff"/><stop offset="0.562" stop-color="#00d8ff"/><stop offset="0.982" stop-color="#00ffff"/><stop offset="1" stop-color="#00fff9"/></linearGradient>
<linearGradient id="g218" gradientUnits="userSpaceOnUse" x1="205.8" y1="37.8" x2="206" y2="32.9"><stop offset="0" stop-color="#006cff"/><stop offset="0.662" stop-color="#00a8ff"/><stop offset="1" stop-color="#00caff"/></linearGradient>
<linearGradient id="g219" gradientUnits="userSpaceOnUse" x1="189" y1="39.7" x2="189.3" y2="34.5"><stop offset="0" stop-color="#0008ff"/><stop offset="0.442" stop-color="#0060ff"/><stop offset="1" stop-color="#0099ff"/></linearGradient>
<linearGradient id="g220" gradientUnits="userSpaceOnUse" x1="188.9" y1="40.8" x2="189.6" y2="34.5"><stop offset="0" stop-color="#0900ff"/><stop offset="0.122" stop-color="#0000ff"/><stop offset="0.824" stop-color="#0060ff"/><stop offset="1" stop-color="#006cff"/></linearGradient>
<linearGradient id="g221" gradientUnits="userSpaceOnUse" x1="171.3" y1="44.2" x2="172.2" y2="37.5"><stop offset="0" stop-color="#7800f0"/><stop offset="0.15" stop-color="#7000ff"/><stop offset="0.508" stop-color="#3000ff"/><stop offset="0.959" stop-color="#0000ff"/><stop offset="1" stop-color="#0008ff"/></linearGradient>
<linearGradient id="g222" gradientUnits="userSpaceOnUse" x1="171.3" y1="44.2" x2="173.2" y2="35.5"><stop offset="0" stop-color="#7800f0"/><stop offset="0.171" stop-color="#7000ff"/><stop offset="0.58" stop-color="#3000ff"/><stop offset="1" stop-color="#0900ff"/></linearGradient>
<linearGradient id="g223" gradientUnits="userSpaceOnUse" x1="152.5" y1="49.1" x2="155.3" y2="38.4"><stop offset="0" stop-color="#8200cc"/><stop offset="0.382" stop-color="#8400dc"/><stop offset="1" stop-color="#7500f6"/></linearGradient>
<linearGradient id="g224" gradientUnits="userSpaceOnUse" x1="152.5" y1="49.1" x2="176.5" y2="29.7"><stop offset="0" stop-color="#8200cc"/><stop offset="0.382" stop-color="#8400dc"/><stop offset="1" stop-color="#7500f6"/></linearGradient>
<linearGradient id="g225" gradientUnits="userSpaceOnUse" x1="482.2" y1="157.7" x2="465" y2="116.2"><stop offset="0" stop-color="#8400da"/><stop offset="0.002" stop-color="#8400dc"/><stop offset="0.045" stop-color="#7000ff"/><stop offset="0.088" stop-color="#3000ff"/><stop offset="0.142" stop-color="#0000ff"/><stop offset="0.2" stop-color="#0060ff"/><stop offset="0.284" stop-color="#00a8ff"/><stop offset="0.334" stop-color="#00d8ff"/><stop offset="0.385" stop-color="#00ffff"/><stop offset="0.433" stop-color="#00ff80"/><stop offset="0.515" stop-color="#00ff00"/><stop offset="0.605" stop-color="#80ff00"/><stop offset="0.685" stop-color="#d0ff00"/><stop offset="0.766" stop-color="#ffff00"/><stop offset="0.807" stop-color="#ffe000"/><stop offset="0.857" stop-color="#ffb000"/><stop offset="0.907" stop-color="#ff8000"/><stop offset="0.958" stop-color="#ff5000"/><stop offset="1" stop-color="#ff2800"/></linearGradient>
<linearGradient id="g226" gradientUnits="userSpaceOnUse" x1="482.2" y1="157.7" x2="463.1" y2="126.3"><stop offset="0" stop-color="#8400da"/><stop offset="0.002" stop-color="#8400dc"/><stop offset="0.045" stop-color="#7000ff"/><stop offset="0.088" stop-color="#3000ff"/><stop offset="0.142" stop-color="#0000ff"/><stop offset="0.2" stop-color="#0060ff"/><stop offset="0.284" stop-color="#00a8ff"/><stop offset="0.334" stop-color="#00d8ff"/><stop offset="0.385" stop-color="#00ffff"/><stop offset="0.433" stop-color="#00ff80"/><stop offset="0.515" stop-color="#00ff00"/><stop offset="0.605" stop-color="#80ff00"/><stop offset="0.685" stop-color="#d0ff00"/><stop offset="0.766" stop-color="#ffff00"/><stop offset="0.807" stop-color="#ffe000"/><stop offset="0.857" stop-color="#ffb000"/><stop offset="0.907" stop-color="#ff8000"/><stop offset="0.958" stop-color="#ff5000"/><stop offset="1" stop-color="#ff2800"/></linearGradient>
<linearGradient id="g227" gradientUnits="userSpaceOnUse" x1="467.3" y1="164.8" x2="454.1" y2="133.3"><stop offset="0" stop-color="#8200cb"/><stop offset="0.026" stop-color="#8400dc"/><stop offset="0.08" stop-color="#7000ff"/><stop offset="0.134" stop-color="#3000ff"/><stop offset="0.202" stop-color="#0000ff"/><stop offset="0.274" stop-color="#0060ff"/><stop offset="0.38" stop-color="#00a8ff"/><stop offset="0.443" stop-color="#00d8ff"/><stop offset="0.506" stop-color="#00ffff"/><stop offset="0.567" stop-color="#00ff80"/><stop offset="0.67" stop-color="#00ff00"/><stop offset="0.782" stop-color="#80ff00"/><stop offset="0.883" stop-color="#d0ff00"/><stop offset="0.984" stop-color="#ffff00"/><stop offset="1" stop-color="#fff500"/></linearGradient>
<linearGradient id="g228" gradientUnits="userSpaceOnUse" x1="467.3" y1="164.8" x2="454.4" y2="148"><stop offset="0" stop-color="#8200cb"/><stop offset="0.026" stop-color="#8400dc"/><stop offset="0.08" stop-color="#7000ff"/><stop offset="0.134" stop-color="#3000ff"/><stop offset="0.202" stop-color="#0000ff"/><stop offset="0.274" stop-color="#0060ff"/><stop offset="0.38" stop-color="#00a8ff"/><stop offset="0.443" stop-color="#00d8ff"/><stop offset="0.506" stop-color="#00ffff"/><stop offset="0.567" stop-color="#00ff80"/><stop offset="0.67" stop-color="#00ff00"/><stop offset="0.782" stop-color="#80ff00"/><stop offset="0.883" stop-color="#d0ff00"/><stop offset="0.984" stop-color="#ffff00"/><stop offset="1" stop-color="#fff500"/></linearGradient>
<linearGradient id="g229" gradientUnits="userSpaceOnUse" x1="451.9" y1="172.2" x2="442.8" y2="151"><stop offset="0" stop-color="#8100bc"/><stop offset="0.067" stop-color="#8400dc"/><stop offset="0.139" stop-color="#7000ff"/><stop offset="0.211" stop-color="#3000ff"/><stop offset="0.302" stop-color="#0000ff"/><stop offset="0.4" stop-color="#0060ff"/><stop offset="0.541" stop-color="#00a8ff"/><stop offset="0.626" stop-color="#00d8ff"/><stop offset="0.71" stop-color="#00ffff"/><stop offset="0.792" stop-color="#00ff80"/><stop offset="0.93" stop-color="#00ff00"/><stop offset="1" stop-color="#3bff00"/></linearGradient>
<linearGradient id="g230" gradientUnits="userSpaceOnUse" x1="451.9" y1="172.2" x2="460.7" y2="176.6"><stop offset="0" stop-color="#8100bc"/><stop offset="0.067" stop-color="#8400dc"/><stop offset="0.139" stop-color="#7000ff"/><stop offset="0.211" stop-color="#3000ff"/><stop offset="0.302" stop-color="#0000ff"/><stop offset="0.4" stop-color="#0060ff"/><stop offset="0.541" stop-color="#00a8ff"/><stop offset="0.626" stop-color="#00d8ff"/><stop offset="0.71" stop-color="#00ffff"/><stop offset="0.792" stop-color="#00ff80"/><stop offset="0.93" stop-color="#00ff00"/><stop offset="1" stop-color="#3bff00"/></linearGradient>
<linearGradient id="g231" gradientUnits="userSpaceOnUse" x1="435.7" y1="180" x2="431.9" y2="171.3"><stop offset="0" stop-color="#7e00ad"/><stop offset="0.024" stop-color="#8000b4"/><stop offset="0.163" stop-color="#8400dc"/><stop offset="0.282" stop-color="#7000ff"/><stop offset="0.401" stop-color="#3000ff"/><stop offset="0.551" stop-color="#0000ff"/><stop offset="0.712" stop-color="#0060ff"/><stop offset="0.945" stop-color="#00a8ff"/><stop offset="1" stop-color="#00bbff"/></linearGradient>
<linearGradient id="g232" gradientUnits="userSpaceOnUse" x1="435.7" y1="180" x2="466.5" y2="179.7"><stop offset="0" stop-color="#7e00ad"/><stop offset="0.024" stop-color="#8000b4"/><stop offset="0.163" stop-color="#8400dc"/><stop offset="0.282" stop-color="#7000ff"/><stop offset="0.401" stop-color="#3000ff"/><stop offset="0.551" stop-color="#0000ff"/><stop offset="0.712" stop-color="#0060ff"/><stop offset="0.945" stop-color="#00a8ff"/><stop offset="1" stop-color="#00bbff"/></linearGradient>
<linearGradient id="g233" gradientUnits="userSpaceOnUse" x1="418.8" y1="188.4" x2="419.8" y2="190.2"><stop offset="0" stop-color="#790099"/><stop offset="0.172" stop-color="#8000b4"/><stop offset="0.429" stop-color="#8400dc"/><stop offset="0.648" stop-color="#7000ff"/><stop offset="0.867" stop-color="#3000ff"/><stop offset="1" stop-color="#1900ff"/></linearGradient>
<linearGradient id="g234" gradientUnits="userSpaceOnUse" x1="418.8" y1="188.4" x2="444.8" y2="195.2"><stop offset="0" stop-color="#790099"/><stop offset="0.172" stop-color="#8000b4"/><stop offset="0.429" stop-color="#8400dc"/><stop offset="0.648" stop-color="#7000ff"/><stop offset="0.867" stop-color="#3000ff"/><stop offset="1" stop-color="#1900ff"/></linearGradient>
<linearGradient id="g235" gradientUnits="userSpaceOnUse" x1="401.2" y1="197.7" x2="406.7" y2="205.7"><stop offset="0" stop-color="#610073"/><stop offset="0.148" stop-color="#760090"/><stop offset="0.492" stop-color="#8000b4"/><stop offset="0.872" stop-color="#8400dc"/><stop offset="1" stop-color="#7c00ea"/></linearGradient>
<linearGradient id="g236" gradientUnits="userSpaceOnUse" x1="401.2" y1="197.7" x2="426.9" y2="206.5"><stop offset="0" stop-color="#610073"/><stop offset="0.148" stop-color="#760090"/><stop offset="0.492" stop-color="#8000b4"/><stop offset="0.872" stop-color="#8400dc"/><stop offset="1" stop-color="#7c00ea"/></linearGradient>
<linearGradient id="g237" gradientUnits="userSpaceOnUse" x1="382.7" y1="207.4" x2="387.1" y2="215.2"><stop offset="0" stop-color="#5b006a"/><stop offset="0.336" stop-color="#760090"/><stop offset="0.944" stop-color="#8000b4"/><stop offset="1" stop-color="#8000b7"/></linearGradient>
<linearGradient id="g238" gradientUnits="userSpaceOnUse" x1="382.7" y1="207.4" x2="416.3" y2="201.1"><stop offset="0" stop-color="#5b006a"/><stop offset="0.336" stop-color="#760090"/><stop offset="0.944" stop-color="#8000b4"/><stop offset="1" stop-color="#8000b7"/></linearGradient>
<linearGradient id="g239" gradientUnits="userSpaceOnUse" x1="496.7" y1="115.4" x2="479.3" y2="86.8"><stop offset="0" stop-color="#fff500"/><stop offset="0.031" stop-color="#ffe000"/><stop offset="0.086" stop-color="#ffb000"/><stop offset="0.142" stop-color="#ff8000"/><stop offset="0.197" stop-color="#ff5000"/><stop offset="0.252" stop-color="#ff2000"/><stop offset="0.318" stop-color="#ff0000"/><stop offset="0.625" stop-color="#ff0000"/><stop offset="0.727" stop-color="#d00000"/><stop offset="0.836" stop-color="#a00000"/><stop offset="0.947" stop-color="#700000"/><stop offset="1" stop-color="#5d0000"/></linearGradient>
<linearGradient id="g240" gradientUnits="userSpaceOnUse" x1="496.7" y1="115.4" x2="479.9" y2="80.8"><stop offset="0" stop-color="#fff500"/><stop offset="0.031" stop-color="#ffe000"/><stop offset="0.086" stop-color="#ffb000"/><stop offset="0.142" stop-color="#ff8000"/><stop offset="0.197" stop-color="#ff5000"/><stop offset="0.252" stop-color="#ff2000"/><stop offset="0.318" stop-color="#ff0000"/><stop offset="0.625" stop-color="#ff0000"/><stop offset="0.727" stop-color="#d00000"/><stop offset="0.836" stop-color="#a00000"/><stop offset="0.947" stop-color="#700000"/><stop offset="1" stop-color="#5d0000"/></linearGradient>
<linearGradient id="g241" gradientUnits="userSpaceOnUse" x1="481.8" y1="134.3" x2="463.1" y2="103.7"><stop offset="0" stop-color="#3bff00"/><stop offset="0.051" stop-color="#80ff00"/><stop offset="0.135" stop-color="#d0ff00"/><stop offset="0.22" stop-color="#ffff00"/><stop offset="0.263" stop-color="#ffe000"/><stop offset="0.316" stop-color="#ffb000"/><stop offset="0.369" stop-color="#ff8000"/><stop offset="0.422" stop-color="#ff5000"/><stop offset="0.475" stop-color="#ff2000"/><stop offset="0.538" stop-color="#ff0000"/><stop offset="0.833" stop-color="#ff0000"/><stop offset="0.932" stop-color="#d00000"/><stop offset="1" stop-color="#b10000"/></linearGradient>
<linearGradient id="g242" gradientUnits="userSpaceOnUse" x1="481.8" y1="134.3" x2="463.1" y2="101.8"><stop offset="0" stop-color="#3bff00"/><stop offset="0.051" stop-color="#80ff00"/><stop offset="0.135" stop-color="#d0ff00"/><stop offset="0.22" stop-color="#ffff00"/><stop offset="0.263" stop-color="#ffe000"/><stop offset="0.316" stop-color="#ffb000"/><stop offset="0.369" stop-color="#ff8000"/><stop offset="0.422" stop-color="#ff5000"/><stop offset="0.475" stop-color="#ff2000"/><stop offset="0.538" stop-color="#ff0000"/><stop offset="0.833" stop-color="#ff0000"/><stop offset="0.932" stop-color="#d00000"/><stop offset="1" stop-color="#b10000"/></linearGradient>
<linearGradient id="g243" gradientUnits="userSpaceOnUse" x1="466.3" y1="155.9" x2="446.6" y2="127.4"><stop offset="0" stop-color="#00bbff"/><stop offset="0.031" stop-color="#00d8ff"/><stop offset="0.082" stop-color="#00ffff"/><stop offset="0.132" stop-color="#00ff80"/><stop offset="0.216" stop-color="#00ff00"/><stop offset="0.307" stop-color="#80ff00"/><stop offset="0.389" stop-color="#d0ff00"/><stop offset="0.471" stop-color="#ffff00"/><stop offset="0.513" stop-color="#ffe000"/><stop offset="0.564" stop-color="#ffb000"/><stop offset="0.615" stop-color="#ff8000"/><stop offset="0.667" stop-color="#ff5000"/><stop offset="0.718" stop-color="#ff2000"/><stop offset="0.779" stop-color="#ff0000"/><stop offset="1" stop-color="#ff0000"/></linearGradient>
<linearGradient id="g244" gradientUnits="userSpaceOnUse" x1="466.3" y1="155.9" x2="447.4" y2="115.9"><stop offset="0" stop-color="#00bbff"/><stop offset="0.031" stop-color="#00d8ff"/><stop offset="0.082" stop-color="#00ffff"/><stop offset="0.132" stop-color="#00ff80"/><stop offset="0.216" stop-color="#00ff00"/><stop offset="0.307" stop-color="#80ff00"/><stop offset="0.389" stop-color="#d0ff00"/><stop offset="0.471" stop-color="#ffff00"/><stop offset="0.513" stop-color="#ffe000"/><stop offset="0.564" stop-color="#ffb000"/><stop offset="0.615" stop-color="#ff8000"/><stop offset="0.667" stop-color="#ff5000"/><stop offset="0.718" stop-color="#ff2000"/><stop offset="0.779" stop-color="#ff0000"/><stop offset="1" stop-color="#ff0000"/></linearGradient>
<linearGradient id="g245" gradientUnits="userSpaceOnUse" x1="450.3" y1="174.3" x2="429.2" y2="137.9"><stop offset="0" stop-color="#1900ff"/><stop offset="0.028" stop-color="#0000ff"/><stop offset="0.085" stop-color="#0060ff"/><stop offset="0.168" stop-color="#00a8ff"/><stop offset="0.218" stop-color="#00d8ff"/><stop offset="0.267" stop-color="#00ffff"/><stop offset="0.315" stop-color="#00ff80"/><stop offset="0.396" stop-color="#00ff00"/><stop offset="0.485" stop-color="#80ff00"/><stop offset="0.564" stop-color="#d0ff00"/><stop offset="0.643" stop-color="#ffff00"/><stop offset="0.684" stop-color="#ffe000"/><stop offset="0.734" stop-color="#ffb000"/><stop offset="0.784" stop-color="#ff8000"/><stop offset="0.833" stop-color="#ff5000"/><stop offset="0.883" stop-color="#ff2000"/><stop offset="0.942" stop-color="#ff0000"/><stop offset="1" stop-color="#ff0000"/></linearGradient>
<linearGradient id="g246" gradientUnits="userSpaceOnUse" x1="450.3" y1="174.3" x2="461.8" y2="177.6"><stop offset="0" stop-color="#1900ff"/><stop offset="0.028" stop-color="#0000ff"/><stop offset="0.085" stop-color="#0060ff"/><stop offset="0.168" stop-color="#00a8ff"/><stop offset="0.218" stop-color="#00d8ff"/><stop offset="0.267" stop-color="#00ffff"/><stop offset="0.315" stop-color="#00ff80"/><stop offset="0.396" stop-color="#00ff00"/><stop offset="0.485" stop-color="#80ff00"/><stop offset="0.564" stop-color="#d0ff00"/><stop offset="0.643" stop-color="#ffff00"/><stop offset="0.684" stop-color="#ffe000"/><stop offset="0.734" stop-color="#ffb000"/><stop offset="0.784" stop-color="#ff8000"/><stop offset="0.833" stop-color="#ff5000"/><stop offset="0.883" stop-color="#ff2000"/><stop offset="0.942" stop-color="#ff0000"/><stop offset="1" stop-color="#ff0000"/></linearGradient>
<linearGradient id="g247" gradientUnits="userSpaceOnUse" x1="433.5" y1="187.3" x2="422.8" y2="167.8"><stop offset="0" stop-color="#7c00ea"/><stop offset="0.041" stop-color="#7000ff"/><stop offset="0.109" stop-color="#3000ff"/><stop offset="0.194" stop-color="#0000ff"/><stop offset="0.286" stop-color="#0060ff"/><stop offset="0.419" stop-color="#00a8ff"/><stop offset="0.498" stop-color="#00d8ff"/><stop offset="0.578" stop-color="#00ffff"/><stop offset="0.655" stop-color="#00ff80"/><stop offset="0.784" stop-color="#00ff00"/><stop offset="0.926" stop-color="#80ff00"/><stop offset="1" stop-color="#afff00"/></linearGradient>
<linearGradient id="g248" gradientUnits="userSpaceOnUse" x1="433.5" y1="187.3" x2="445.7" y2="192.3"><stop offset="0" stop-color="#7c00ea"/><stop offset="0.041" stop-color="#7000ff"/><stop offset="0.109" stop-color="#3000ff"/><stop offset="0.194" stop-color="#0000ff"/><stop offset="0.286" stop-color="#0060ff"/><stop offset="0.419" stop-color="#00a8ff"/><stop offset="0.498" stop-color="#00d8ff"/><stop offset="0.578" stop-color="#00ffff"/><stop offset="0.655" stop-color="#00ff80"/><stop offset="0.784" stop-color="#00ff00"/><stop offset="0.926" stop-color="#80ff00"/><stop offset="1" stop-color="#afff00"/></linearGradient>
<linearGradient id="g249" gradientUnits="userSpaceOnUse" x1="415.9" y1="198.9" x2="411.3" y2="190.8"><stop offset="0" stop-color="#8000b7"/><stop offset="0.112" stop-color="#8400dc"/><stop offset="0.217" stop-color="#7000ff"/><stop offset="0.321" stop-color="#3000ff"/><stop offset="0.453" stop-color="#0000ff"/><stop offset="0.593" stop-color="#0060ff"/><stop offset="0.798" stop-color="#00a8ff"/><stop offset="0.92" stop-color="#00d8ff"/><stop offset="1" stop-color="#00f1ff"/></linearGradient>
<linearGradient id="g250" gradientUnits="userSpaceOnUse" x1="415.9" y1="198.9" x2="434.7" y2="206"><stop offset="0" stop-color="#8000b7"/><stop offset="0.112" stop-color="#8400dc"/><stop offset="0.217" stop-color="#7000ff"/><stop offset="0.321" stop-color="#3000ff"/><stop offset="0.453" stop-color="#0000ff"/><stop offset="0.593" stop-color="#0060ff"/><stop offset="0.798" stop-color="#00a8ff"/><stop offset="0.92" stop-color="#00d8ff"/><stop offset="1" stop-color="#00f1ff"/></linearGradient>
<linearGradient id="g251" gradientUnits="userSpaceOnUse" x1="397.4" y1="209.6" x2="397.3" y2="209.4"><stop offset="0" stop-color="#770094"/><stop offset="0.151" stop-color="#8000b4"/><stop offset="0.341" stop-color="#8400dc"/><stop offset="0.502" stop-color="#7000ff"/><stop offset="0.664" stop-color="#3000ff"/><stop offset="0.867" stop-color="#0000ff"/><stop offset="1" stop-color="#003aff"/></linearGradient>
<linearGradient id="g252" gradientUnits="userSpaceOnUse" x1="397.4" y1="209.6" x2="417.6" y2="218.9"><stop offset="0" stop-color="#770094"/><stop offset="0.151" stop-color="#8000b4"/><stop offset="0.341" stop-color="#8400dc"/><stop offset="0.502" stop-color="#7000ff"/><stop offset="0.664" stop-color="#3000ff"/><stop offset="0.867" stop-color="#0000ff"/><stop offset="1" stop-color="#003aff"/></linearGradient>
<linearGradient id="g253" gradientUnits="userSpaceOnUse" x1="512.1" y1="73.7" x2="512.6" y2="57.6"><stop offset="0" stop-color="#b10000"/><stop offset="0.186" stop-color="#a00000"/><stop offset="0.735" stop-color="#700000"/><stop offset="1" stop-color="#5d0000"/></linearGradient>
<linearGradient id="g254" gradientUnits="userSpaceOnUse" x1="511.7" y1="77.3" x2="513.1" y2="64.3"><stop offset="0" stop-color="#c00000"/><stop offset="0.577" stop-color="#a00000"/><stop offset="1" stop-color="#890000"/></linearGradient>
<linearGradient id="g255" gradientUnits="userSpaceOnUse" x1="497" y1="92.4" x2="500.1" y2="71.9"><stop offset="0" stop-color="#ff0000"/><stop offset="0.286" stop-color="#ff0000"/><stop offset="0.707" stop-color="#d00000"/><stop offset="1" stop-color="#b10000"/></linearGradient>
<linearGradient id="g256" gradientUnits="userSpaceOnUse" x1="497" y1="92.4" x2="513.8" y2="69"><stop offset="0" stop-color="#ff0000"/><stop offset="0.333" stop-color="#ff0000"/><stop offset="0.825" stop-color="#d00000"/><stop offset="1" stop-color="#c00000"/></linearGradient>
<linearGradient id="g257" gradientUnits="userSpaceOnUse" x1="481.3" y1="107.8" x2="496.4" y2="82.3"><stop offset="0" stop-color="#ff0000"/><stop offset="1" stop-color="#ff0000"/></linearGradient>
<linearGradient id="g258" gradientUnits="userSpaceOnUse" x1="481.3" y1="107.8" x2="512.4" y2="91"><stop offset="0" stop-color="#ff0000"/><stop offset="1" stop-color="#ff0000"/></linearGradient>
<linearGradient id="g259" gradientUnits="userSpaceOnUse" x1="465.2" y1="144.6" x2="483.2" y2="99.8"><stop offset="0" stop-color="#afff00"/><stop offset="0.059" stop-color="#d0ff00"/><stop offset="0.2" stop-color="#ffff00"/><stop offset="0.272" stop-color="#ffe000"/><stop offset="0.36" stop-color="#ffb000"/><stop offset="0.449" stop-color="#ff8000"/><stop offset="0.537" stop-color="#ff5000"/><stop offset="0.626" stop-color="#ff2000"/><stop offset="0.731" stop-color="#ff0000"/><stop offset="1" stop-color="#ff0000"/></linearGradient>
<linearGradient id="g260" gradientUnits="userSpaceOnUse" x1="465.2" y1="144.6" x2="456" y2="125.9"><stop offset="0" stop-color="#afff00"/><stop offset="0.059" stop-color="#d0ff00"/><stop offset="0.2" stop-color="#ffff00"/><stop offset="0.272" stop-color="#ffe000"/><stop offset="0.36" stop-color="#ffb000"/><stop offset="0.449" stop-color="#ff8000"/><stop offset="0.537" stop-color="#ff5000"/><stop offset="0.626" stop-color="#ff2000"/><stop offset="0.731" stop-color="#ff0000"/><stop offset="1" stop-color="#ff0000"/></linearGradient>
<linearGradient id="g261" gradientUnits="userSpaceOnUse" x1="448.4" y1="169.9" x2="442.5" y2="165.2"><stop offset="0" stop-color="#00f1ff"/><stop offset="0.023" stop-color="#00ffff"/><stop offset="0.087" stop-color="#00ff80"/><stop offset="0.195" stop-color="#00ff00"/><stop offset="0.313" stop-color="#80ff00"/><stop offset="0.419" stop-color="#d0ff00"/><stop offset="0.525" stop-color="#ffff00"/><stop offset="0.579" stop-color="#ffe000"/><stop offset="0.645" stop-color="#ffb000"/><stop offset="0.711" stop-color="#ff8000"/><stop offset="0.778" stop-color="#ff5000"/><stop offset="0.844" stop-color="#ff2000"/><stop offset="0.923" stop-color="#ff0000"/><stop offset="1" stop-color="#ff0000"/></linearGradient>
<linearGradient id="g262" gradientUnits="userSpaceOnUse" x1="448.4" y1="169.9" x2="434.2" y2="148.5"><stop offset="0" stop-color="#00f1ff"/><stop offset="0.023" stop-color="#00ffff"/><stop offset="0.087" stop-color="#00ff80"/><stop offset="0.195" stop-color="#00ff00"/><stop offset="0.313" stop-color="#80ff00"/><stop offset="0.419" stop-color="#d0ff00"/><stop offset="0.525" stop-color="#ffff00"/><stop offset="0.579" stop-color="#ffe000"/><stop offset="0.645" stop-color="#ffb000"/><stop offset="0.711" stop-color="#ff8000"/><stop offset="0.778" stop-color="#ff5000"/><stop offset="0.844" stop-color="#ff2000"/><stop offset="0.923" stop-color="#ff0000"/><stop offset="1" stop-color="#ff0000"/></linearGradient>
<linearGradient id="g263" gradientUnits="userSpaceOnUse" x1="430.9" y1="189.9" x2="416.8" y2="170"><stop offset="0" stop-color="#003aff"/><stop offset="0.03" stop-color="#0060ff"/><stop offset="0.14" stop-color="#00a8ff"/><stop offset="0.207" stop-color="#00d8ff"/><stop offset="0.273" stop-color="#00ffff"/><stop offset="0.337" stop-color="#00ff80"/><stop offset="0.445" stop-color="#00ff00"/><stop offset="0.563" stop-color="#80ff00"/><stop offset="0.669" stop-color="#d0ff00"/><stop offset="0.775" stop-color="#ffff00"/><stop offset="0.829" stop-color="#ffe000"/><stop offset="0.895" stop-color="#ffb000"/><stop offset="0.961" stop-color="#ff8000"/><stop offset="1" stop-color="#ff6400"/></linearGradient>
<linearGradient id="g264" gradientUnits="userSpaceOnUse" x1="430.9" y1="189.9" x2="431.9" y2="190.4"><stop offset="0" stop-color="#003aff"/><stop offset="0.03" stop-color="#0060ff"/><stop offset="0.14" stop-color="#00a8ff"/><stop offset="0.207" stop-color="#00d8ff"/><stop offset="0.273" stop-color="#00ffff"/><stop offset="0.337" stop-color="#00ff80"/><stop offset="0.445" stop-color="#00ff00"/><stop offset="0.563" stop-color="#80ff00"/><stop offset="0.669" stop-color="#d0ff00"/><stop offset="0.775" stop-color="#ffff00"/><stop offset="0.829" stop-color="#ffe000"/><stop offset="0.895" stop-color="#ffb000"/><stop offset="0.961" stop-color="#ff8000"/><stop offset="1" stop-color="#ff6400"/></linearGradient>
<linearGradient id="g265" gradientUnits="userSpaceOnUse" x1="412.5" y1="205.9" x2="404" y2="192.9"><stop offset="0" stop-color="#5e00ff"/><stop offset="0.055" stop-color="#3000ff"/><stop offset="0.151" stop-color="#0000ff"/><stop offset="0.254" stop-color="#0060ff"/><stop offset="0.403" stop-color="#00a8ff"/><stop offset="0.492" stop-color="#00d8ff"/><stop offset="0.582" stop-color="#00ffff"/><stop offset="0.668" stop-color="#00ff80"/><stop offset="0.814" stop-color="#00ff00"/><stop offset="0.973" stop-color="#80ff00"/><stop offset="1" stop-color="#8fff00"/></linearGradient>
<linearGradient id="g266" gradientUnits="userSpaceOnUse" x1="412.5" y1="205.9" x2="450.5" y2="201.6"><stop offset="0" stop-color="#5e00ff"/><stop offset="0.055" stop-color="#3000ff"/><stop offset="0.151" stop-color="#0000ff"/><stop offset="0.254" stop-color="#0060ff"/><stop offset="0.403" stop-color="#00a8ff"/><stop offset="0.492" stop-color="#00d8ff"/><stop offset="0.582" stop-color="#00ffff"/><stop offset="0.668" stop-color="#00ff80"/><stop offset="0.814" stop-color="#00ff00"/><stop offset="0.973" stop-color="#80ff00"/><stop offset="1" stop-color="#8fff00"/></linearGradient>
<linearGradient id="g267" gradientUnits="userSpaceOnUse" x1="529.3" y1="89.8" x2="526.7" y2="69.5"><stop offset="0" stop-color="#ff0000"/><stop offset="0.388" stop-color="#d00000"/><stop offset="0.8" stop-color="#a00000"/><stop offset="1" stop-color="#890000"/></linearGradient>
<linearGradient id="g268" gradientUnits="userSpaceOnUse" x1="530.8" y1="114.4" x2="527.9" y2="79.1"><stop offset="0" stop-color="#ff2800"/><stop offset="0.017" stop-color="#ff2000"/><stop offset="0.143" stop-color="#ff0000"/><stop offset="0.733" stop-color="#ff0000"/><stop offset="0.93" stop-color="#d00000"/><stop offset="1" stop-color="#c00000"/></linearGradient>
<linearGradient id="g269" gradientUnits="userSpaceOnUse" x1="518.2" y1="118.4" x2="511.1" y2="82.4"><stop offset="0" stop-color="#ff2800"/><stop offset="0.017" stop-color="#ff2000"/><stop offset="0.143" stop-color="#ff0000"/><stop offset="0.733" stop-color="#ff0000"/><stop offset="0.93" stop-color="#d00000"/><stop offset="1" stop-color="#c00000"/></linearGradient>
<linearGradient id="g270" gradientUnits="userSpaceOnUse" x1="521.4" y1="128.9" x2="512.9" y2="92"><stop offset="0" stop-color="#ffa000"/><stop offset="0.072" stop-color="#ff8000"/><stop offset="0.178" stop-color="#ff5000"/><stop offset="0.284" stop-color="#ff2000"/><stop offset="0.41" stop-color="#ff0000"/><stop offset="1" stop-color="#ff0000"/></linearGradient>
<linearGradient id="g271" gradientUnits="userSpaceOnUse" x1="502.9" y1="132.5" x2="495.3" y2="95.7"><stop offset="0" stop-color="#ffa000"/><stop offset="0.072" stop-color="#ff8000"/><stop offset="0.178" stop-color="#ff5000"/><stop offset="0.284" stop-color="#ff2000"/><stop offset="0.41" stop-color="#ff0000"/><stop offset="1" stop-color="#ff0000"/></linearGradient>
<linearGradient id="g272" gradientUnits="userSpaceOnUse" x1="507.8" y1="137.1" x2="497.3" y2="105.5"><stop offset="0" stop-color="#ffbf00"/><stop offset="0.04" stop-color="#ffb000"/><stop offset="0.173" stop-color="#ff8000"/><stop offset="0.306" stop-color="#ff5000"/><stop offset="0.439" stop-color="#ff2000"/><stop offset="0.596" stop-color="#ff0000"/><stop offset="1" stop-color="#ff0000"/></linearGradient>
<linearGradient id="g273" gradientUnits="userSpaceOnUse" x1="486.3" y1="141.2" x2="479.3" y2="109.5"><stop offset="0" stop-color="#ffbf00"/><stop offset="0.04" stop-color="#ffb000"/><stop offset="0.173" stop-color="#ff8000"/><stop offset="0.306" stop-color="#ff5000"/><stop offset="0.439" stop-color="#ff2000"/><stop offset="0.596" stop-color="#ff0000"/><stop offset="1" stop-color="#ff0000"/></linearGradient>
<linearGradient id="g274" gradientUnits="userSpaceOnUse" x1="488.6" y1="154" x2="481" y2="117.4"><stop offset="0" stop-color="#ceff00"/><stop offset="0.004" stop-color="#d0ff00"/><stop offset="0.185" stop-color="#ffff00"/><stop offset="0.278" stop-color="#ffe000"/><stop offset="0.392" stop-color="#ffb000"/><stop offset="0.505" stop-color="#ff8000"/><stop offset="0.619" stop-color="#ff5000"/><stop offset="0.733" stop-color="#ff2000"/><stop offset="0.868" stop-color="#ff0000"/><stop offset="1" stop-color="#ff0000"/></linearGradient>
<linearGradient id="g275" gradientUnits="userSpaceOnUse" x1="467.6" y1="157.3" x2="461.3" y2="120.8"><stop offset="0" stop-color="#ceff00"/><stop offset="0.004" stop-color="#d0ff00"/><stop offset="0.185" stop-color="#ffff00"/><stop offset="0.278" stop-color="#ffe000"/><stop offset="0.392" stop-color="#ffb000"/><stop offset="0.505" stop-color="#ff8000"/><stop offset="0.619" stop-color="#ff5000"/><stop offset="0.733" stop-color="#ff2000"/><stop offset="0.868" stop-color="#ff0000"/><stop offset="1" stop-color="#ff0000"/></linearGradient>
<linearGradient id="g276" gradientUnits="userSpaceOnUse" x1="471.4" y1="171.9" x2="464" y2="136.4"><stop offset="0" stop-color="#0eff00"/><stop offset="0.194" stop-color="#80ff00"/><stop offset="0.389" stop-color="#d0ff00"/><stop offset="0.584" stop-color="#ffff00"/><stop offset="0.684" stop-color="#ffe000"/><stop offset="0.806" stop-color="#ffb000"/><stop offset="0.929" stop-color="#ff8000"/><stop offset="1" stop-color="#ff6400"/></linearGradient>
<linearGradient id="g277" gradientUnits="userSpaceOnUse" x1="447.2" y1="173.1" x2="443.8" y2="138.4"><stop offset="0" stop-color="#0eff00"/><stop offset="0.194" stop-color="#80ff00"/><stop offset="0.389" stop-color="#d0ff00"/><stop offset="0.584" stop-color="#ffff00"/><stop offset="0.684" stop-color="#ffe000"/><stop offset="0.806" stop-color="#ffb000"/><stop offset="0.929" stop-color="#ff8000"/><stop offset="1" stop-color="#ff6400"/></linearGradient>
<linearGradient id="g278" gradientUnits="userSpaceOnUse" x1="449.9" y1="194.5" x2="446.4" y2="165.1"><stop offset="0" stop-color="#00bbff"/><stop offset="0.096" stop-color="#00d8ff"/><stop offset="0.256" stop-color="#00ffff"/><stop offset="0.409" stop-color="#00ff80"/><stop offset="0.669" stop-color="#00ff00"/><stop offset="0.952" stop-color="#80ff00"/><stop offset="1" stop-color="#8fff00"/></linearGradient>
<linearGradient id="g279" gradientUnits="userSpaceOnUse" x1="428.1" y1="194.8" x2="426.5" y2="166.2"><stop offset="0" stop-color="#00bbff"/><stop offset="0.096" stop-color="#00d8ff"/><stop offset="0.256" stop-color="#00ffff"/><stop offset="0.409" stop-color="#00ff80"/><stop offset="0.669" stop-color="#00ff00"/><stop offset="0.952" stop-color="#80ff00"/><stop offset="1" stop-color="#8fff00"/></linearGradient>
<linearGradient id="g280" gradientUnits="userSpaceOnUse" x1="429.3" y1="216.3" x2="428.1" y2="194.8"><stop offset="0" stop-color="#2400ff"/><stop offset="0.201" stop-color="#0000ff"/><stop offset="0.487" stop-color="#0060ff"/><stop offset="0.902" stop-color="#00a8ff"/><stop offset="1" stop-color="#00bbff"/></linearGradient>
<linearGradient id="g281" gradientUnits="userSpaceOnUse" x1="543.9" y1="113.8" x2="542.7" y2="86.8"><stop offset="0" stop-color="#ff2e00"/><stop offset="0.041" stop-color="#ff2000"/><stop offset="0.21" stop-color="#ff0000"/><stop offset="1" stop-color="#ff0000"/></linearGradient>
<linearGradient id="g282" gradientUnits="userSpaceOnUse" x1="544.6" y1="126.9" x2="543.9" y2="113.4"><stop offset="0" stop-color="#ffa600"/><stop offset="0.304" stop-color="#ff8000"/><stop offset="0.683" stop-color="#ff5000"/><stop offset="1" stop-color="#ff2800"/></linearGradient>
<linearGradient id="g283" gradientUnits="userSpaceOnUse" x1="529.1" y1="127.8" x2="528.4" y2="114.2"><stop offset="0" stop-color="#ffa600"/><stop offset="0.304" stop-color="#ff8000"/><stop offset="0.683" stop-color="#ff5000"/><stop offset="1" stop-color="#ff2800"/></linearGradient>
<linearGradient id="g284" gradientUnits="userSpaceOnUse" x1="529.7" y1="137.6" x2="529.1" y2="127.1"><stop offset="0" stop-color="#ffe700"/><stop offset="0.121" stop-color="#ffe000"/><stop offset="0.785" stop-color="#ffb000"/><stop offset="1" stop-color="#ffa000"/></linearGradient>
<linearGradient id="g285" gradientUnits="userSpaceOnUse" x1="515" y1="142.2" x2="512.8" y2="130.1"><stop offset="0" stop-color="#ffe700"/><stop offset="0.121" stop-color="#ffe000"/><stop offset="0.785" stop-color="#ffb000"/><stop offset="1" stop-color="#ffa000"/></linearGradient>
<linearGradient id="g286" gradientUnits="userSpaceOnUse" x1="515.6" y1="150.2" x2="513.7" y2="135.1"><stop offset="0" stop-color="#e2ff00"/><stop offset="0.398" stop-color="#ffff00"/><stop offset="0.723" stop-color="#ffe000"/><stop offset="1" stop-color="#ffbf00"/></linearGradient>
<linearGradient id="g287" gradientUnits="userSpaceOnUse" x1="497.6" y1="152.1" x2="497.4" y2="135.3"><stop offset="0" stop-color="#ceff00"/><stop offset="0.011" stop-color="#d0ff00"/><stop offset="0.518" stop-color="#ffff00"/><stop offset="0.778" stop-color="#ffe000"/><stop offset="1" stop-color="#ffbf00"/></linearGradient>
<linearGradient id="g288" gradientUnits="userSpaceOnUse" x1="497.7" y1="166.1" x2="497.6" y2="148.7"><stop offset="0" stop-color="#3bff00"/><stop offset="0.304" stop-color="#80ff00"/><stop offset="0.811" stop-color="#d0ff00"/><stop offset="1" stop-color="#e2ff00"/></linearGradient>
<linearGradient id="g289" gradientUnits="userSpaceOnUse" x1="480.8" y1="169.9" x2="480.6" y2="152.4"><stop offset="0" stop-color="#0eff00"/><stop offset="0.504" stop-color="#80ff00"/><stop offset="1" stop-color="#ceff00"/></linearGradient>
<linearGradient id="g290" gradientUnits="userSpaceOnUse" x1="480.9" y1="184.4" x2="480.7" y2="166.3"><stop offset="0" stop-color="#00ffda"/><stop offset="0.218" stop-color="#00ff80"/><stop offset="0.737" stop-color="#00ff00"/><stop offset="1" stop-color="#3bff00"/></linearGradient>
<linearGradient id="g291" gradientUnits="userSpaceOnUse" x1="463.3" y1="192.9" x2="464.4" y2="169.1"><stop offset="0" stop-color="#00bbff"/><stop offset="0.138" stop-color="#00d8ff"/><stop offset="0.365" stop-color="#00ffff"/><stop offset="0.584" stop-color="#00ff80"/><stop offset="0.955" stop-color="#00ff00"/><stop offset="1" stop-color="#0eff00"/></linearGradient>
<linearGradient id="g292" gradientUnits="userSpaceOnUse" x1="462.4" y1="206.9" x2="463.9" y2="182.3"><stop offset="0" stop-color="#003aff"/><stop offset="0.102" stop-color="#0060ff"/><stop offset="0.481" stop-color="#00a8ff"/><stop offset="0.709" stop-color="#00d8ff"/><stop offset="0.937" stop-color="#00ffff"/><stop offset="1" stop-color="#00ffda"/></linearGradient>
<linearGradient id="g293" gradientUnits="userSpaceOnUse" x1="445" y1="215.4" x2="445.7" y2="192.3"><stop offset="0" stop-color="#2400ff"/><stop offset="0.201" stop-color="#0000ff"/><stop offset="0.487" stop-color="#0060ff"/><stop offset="0.902" stop-color="#00a8ff"/><stop offset="1" stop-color="#00bbff"/></linearGradient>
<linearGradient id="g294" gradientUnits="userSpaceOnUse" x1="444.3" y1="229.9" x2="445.4" y2="206.3"><stop offset="0" stop-color="#8200cb"/><stop offset="0.107" stop-color="#8400dc"/><stop offset="0.325" stop-color="#7000ff"/><stop offset="0.544" stop-color="#3000ff"/><stop offset="0.82" stop-color="#0000ff"/><stop offset="1" stop-color="#003aff"/></linearGradient>
<linearGradient id="g295" gradientUnits="userSpaceOnUse" x1="560.5" y1="126.1" x2="564.3" y2="110.1"><stop offset="0" stop-color="#ffa600"/><stop offset="0.319" stop-color="#ff8000"/><stop offset="0.717" stop-color="#ff5000"/><stop offset="1" stop-color="#ff2e00"/></linearGradient>
<linearGradient id="g296" gradientUnits="userSpaceOnUse" x1="560.1" y1="128.4" x2="563.4" y2="111.1"><stop offset="0" stop-color="#ffb900"/><stop offset="0.062" stop-color="#ffb000"/><stop offset="0.408" stop-color="#ff8000"/><stop offset="0.754" stop-color="#ff5000"/><stop offset="1" stop-color="#ff2e00"/></linearGradient>
<linearGradient id="g297" gradientUnits="userSpaceOnUse" x1="545.9" y1="136.6" x2="547.5" y2="124.4"><stop offset="0" stop-color="#ffe700"/><stop offset="0.132" stop-color="#ffe000"/><stop offset="0.856" stop-color="#ffb000"/><stop offset="1" stop-color="#ffa600"/></linearGradient>
<linearGradient id="g298" gradientUnits="userSpaceOnUse" x1="545.4" y1="140.8" x2="546.9" y2="128.1"><stop offset="0" stop-color="#fffa00"/><stop offset="0.454" stop-color="#ffe000"/><stop offset="1" stop-color="#ffb900"/></linearGradient>
<linearGradient id="g299" gradientUnits="userSpaceOnUse" x1="530.7" y1="148.4" x2="532.3" y2="134.9"><stop offset="0" stop-color="#e2ff00"/><stop offset="0.612" stop-color="#ffff00"/><stop offset="1" stop-color="#ffe700"/></linearGradient>
<linearGradient id="g300" gradientUnits="userSpaceOnUse" x1="530.1" y1="153.4" x2="531.7" y2="139.3"><stop offset="0" stop-color="#ceff00"/><stop offset="0.02" stop-color="#d0ff00"/><stop offset="0.926" stop-color="#ffff00"/><stop offset="1" stop-color="#fffa00"/></linearGradient>
<linearGradient id="g301" gradientUnits="userSpaceOnUse" x1="514.6" y1="165.9" x2="518.1" y2="146.2"><stop offset="0" stop-color="#3bff00"/><stop offset="0.304" stop-color="#80ff00"/><stop offset="0.811" stop-color="#d0ff00"/><stop offset="1" stop-color="#e2ff00"/></linearGradient>
<linearGradient id="g302" gradientUnits="userSpaceOnUse" x1="513.9" y1="170" x2="517.8" y2="149.7"><stop offset="0" stop-color="#0eff00"/><stop offset="0.504" stop-color="#80ff00"/><stop offset="1" stop-color="#ceff00"/></linearGradient>
<linearGradient id="g303" gradientUnits="userSpaceOnUse" x1="497.9" y1="184.3" x2="501.9" y2="163.5"><stop offset="0" stop-color="#00ffda"/><stop offset="0.218" stop-color="#00ff80"/><stop offset="0.737" stop-color="#00ff00"/><stop offset="1" stop-color="#3bff00"/></linearGradient>
<linearGradient id="g304" gradientUnits="userSpaceOnUse" x1="497" y1="188.6" x2="501.5" y2="167.2"><stop offset="0" stop-color="#00f1ff"/><stop offset="0.111" stop-color="#00ffff"/><stop offset="0.418" stop-color="#00ff80"/><stop offset="0.937" stop-color="#00ff00"/><stop offset="1" stop-color="#0eff00"/></linearGradient>
<linearGradient id="g305" gradientUnits="userSpaceOnUse" x1="480.5" y1="207.9" x2="486.7" y2="181.6"><stop offset="0" stop-color="#003aff"/><stop offset="0.102" stop-color="#0060ff"/><stop offset="0.481" stop-color="#00a8ff"/><stop offset="0.709" stop-color="#00d8ff"/><stop offset="0.937" stop-color="#00ffff"/><stop offset="1" stop-color="#00ffda"/></linearGradient>
<linearGradient id="g306" gradientUnits="userSpaceOnUse" x1="480.5" y1="207.9" x2="489.6" y2="182.9"><stop offset="0" stop-color="#003aff"/><stop offset="0.119" stop-color="#0060ff"/><stop offset="0.562" stop-color="#00a8ff"/><stop offset="0.827" stop-color="#00d8ff"/><stop offset="1" stop-color="#00f1ff"/></linearGradient>
<linearGradient id="g307" gradientUnits="userSpaceOnUse" x1="462.3" y1="230.8" x2="471.7" y2="204.7"><stop offset="0" stop-color="#8200cb"/><stop offset="0.107" stop-color="#8400dc"/><stop offset="0.325" stop-color="#7000ff"/><stop offset="0.544" stop-color="#3000ff"/><stop offset="0.82" stop-color="#0000ff"/><stop offset="1" stop-color="#003aff"/></linearGradient>
<linearGradient id="g308" gradientUnits="userSpaceOnUse" x1="462.3" y1="230.8" x2="473.8" y2="203.9"><stop offset="0" stop-color="#8200cb"/><stop offset="0.107" stop-color="#8400dc"/><stop offset="0.325" stop-color="#7000ff"/><stop offset="0.544" stop-color="#3000ff"/><stop offset="0.82" stop-color="#0000ff"/><stop offset="1" stop-color="#003aff"/></linearGradient>
<linearGradient id="g309" gradientUnits="userSpaceOnUse" x1="577.8" y1="131.8" x2="587.9" y2="108.4"><stop offset="0" stop-color="#ffb900"/><stop offset="0.047" stop-color="#ffb000"/><stop offset="0.313" stop-color="#ff8000"/><stop offset="0.578" stop-color="#ff5000"/><stop offset="0.844" stop-color="#ff2000"/><stop offset="1" stop-color="#ff1000"/></linearGradient>
<linearGradient id="g310" gradientUnits="userSpaceOnUse" x1="577.8" y1="131.8" x2="584.7" y2="109.9"><stop offset="0" stop-color="#ffb900"/><stop offset="0.047" stop-color="#ffb000"/><stop offset="0.313" stop-color="#ff8000"/><stop offset="0.578" stop-color="#ff5000"/><stop offset="0.844" stop-color="#ff2000"/><stop offset="1" stop-color="#ff1000"/></linearGradient>
<linearGradient id="g311" gradientUnits="userSpaceOnUse" x1="563.4" y1="143" x2="571.1" y2="124.6"><stop offset="0" stop-color="#fffa00"/><stop offset="0.363" stop-color="#ffe000"/><stop offset="0.894" stop-color="#ffb000"/><stop offset="1" stop-color="#ffa600"/></linearGradient>
<linearGradient id="g312" gradientUnits="userSpaceOnUse" x1="563.4" y1="143" x2="569.8" y2="125.5"><stop offset="0" stop-color="#fffa00"/><stop offset="0.363" stop-color="#ffe000"/><stop offset="0.894" stop-color="#ffb000"/><stop offset="1" stop-color="#ffa600"/></linearGradient>
<linearGradient id="g313" gradientUnits="userSpaceOnUse" x1="548.2" y1="155.5" x2="554.9" y2="137.3"><stop offset="0" stop-color="#ceff00"/><stop offset="0.017" stop-color="#d0ff00"/><stop offset="0.81" stop-color="#ffff00"/><stop offset="1" stop-color="#fff000"/></linearGradient>
<linearGradient id="g314" gradientUnits="userSpaceOnUse" x1="548.2" y1="155.5" x2="553" y2="138.8"><stop offset="0" stop-color="#ceff00"/><stop offset="0.017" stop-color="#d0ff00"/><stop offset="0.81" stop-color="#ffff00"/><stop offset="1" stop-color="#fff000"/></linearGradient>
<linearGradient id="g315" gradientUnits="userSpaceOnUse" x1="532.3" y1="173.6" x2="538.3" y2="152.7"><stop offset="0" stop-color="#0eff00"/><stop offset="0.504" stop-color="#80ff00"/><stop offset="1" stop-color="#ceff00"/></linearGradient>
<linearGradient id="g316" gradientUnits="userSpaceOnUse" x1="531.9" y1="175.2" x2="537.7" y2="153.2"><stop offset="0" stop-color="#00ff04"/><stop offset="0.016" stop-color="#00ff00"/><stop offset="0.54" stop-color="#80ff00"/><stop offset="1" stop-color="#ceff00"/></linearGradient>
<linearGradient id="g317" gradientUnits="userSpaceOnUse" x1="515.7" y1="192.4" x2="521.3" y2="170.7"><stop offset="0" stop-color="#00f1ff"/><stop offset="0.111" stop-color="#00ffff"/><stop offset="0.418" stop-color="#00ff80"/><stop offset="0.937" stop-color="#00ff00"/><stop offset="1" stop-color="#0eff00"/></linearGradient>
<linearGradient id="g318" gradientUnits="userSpaceOnUse" x1="515.2" y1="194.2" x2="521.4" y2="172"><stop offset="0" stop-color="#00e8ff"/><stop offset="0.191" stop-color="#00ffff"/><stop offset="0.498" stop-color="#00ff80"/><stop offset="1" stop-color="#00ff04"/></linearGradient>
<linearGradient id="g319" gradientUnits="userSpaceOnUse" x1="498.3" y1="214.4" x2="505.4" y2="189.5"><stop offset="0" stop-color="#003aff"/><stop offset="0.119" stop-color="#0060ff"/><stop offset="0.562" stop-color="#00a8ff"/><stop offset="0.827" stop-color="#00d8ff"/><stop offset="1" stop-color="#00f1ff"/></linearGradient>
<linearGradient id="g320" gradientUnits="userSpaceOnUse" x1="498.3" y1="214.4" x2="509.3" y2="188.8"><stop offset="0" stop-color="#003aff"/><stop offset="0.128" stop-color="#0060ff"/><stop offset="0.602" stop-color="#00a8ff"/><stop offset="0.886" stop-color="#00d8ff"/><stop offset="1" stop-color="#00e8ff"/></linearGradient>
<linearGradient id="g321" gradientUnits="userSpaceOnUse" x1="480.1" y1="237.4" x2="491.9" y2="209.6"><stop offset="0" stop-color="#8300d0"/><stop offset="0.072" stop-color="#8400dc"/><stop offset="0.284" stop-color="#7000ff"/><stop offset="0.496" stop-color="#3000ff"/><stop offset="0.763" stop-color="#0000ff"/><stop offset="1" stop-color="#004fff"/></linearGradient>
<linearGradient id="g322" gradientUnits="userSpaceOnUse" x1="480.1" y1="237.4" x2="497.4" y2="208.6"><stop offset="0" stop-color="#8300d0"/><stop offset="0.072" stop-color="#8400dc"/><stop offset="0.284" stop-color="#7000ff"/><stop offset="0.496" stop-color="#3000ff"/><stop offset="0.763" stop-color="#0000ff"/><stop offset="1" stop-color="#004fff"/></linearGradient>
<linearGradient id="g323" gradientUnits="userSpaceOnUse" x1="595.8" y1="135.1" x2="616.6" y2="106.7"><stop offset="0" stop-color="#ffa600"/><stop offset="0.148" stop-color="#ff8000"/><stop offset="0.334" stop-color="#ff5000"/><stop offset="0.519" stop-color="#ff2000"/><stop offset="0.738" stop-color="#ff0000"/><stop offset="1" stop-color="#ff0000"/></linearGradient>
<linearGradient id="g324" gradientUnits="userSpaceOnUse" x1="595.8" y1="135.1" x2="612.2" y2="106.1"><stop offset="0" stop-color="#ffa600"/><stop offset="0.148" stop-color="#ff8000"/><stop offset="0.334" stop-color="#ff5000"/><stop offset="0.519" stop-color="#ff2000"/><stop offset="0.738" stop-color="#ff0000"/><stop offset="1" stop-color="#ff0000"/></linearGradient>
<linearGradient id="g325" gradientUnits="userSpaceOnUse" x1="581.5" y1="147" x2="614.4" y2="133.6"><stop offset="0" stop-color="#fff000"/><stop offset="0.133" stop-color="#ffe000"/><stop offset="0.439" stop-color="#ffb000"/><stop offset="0.745" stop-color="#ff8000"/><stop offset="1" stop-color="#ff5800"/></linearGradient>
<linearGradient id="g326" gradientUnits="userSpaceOnUse" x1="581.5" y1="147" x2="592.6" y2="123.6"><stop offset="0" stop-color="#fff000"/><stop offset="0.133" stop-color="#ffe000"/><stop offset="0.439" stop-color="#ffb000"/><stop offset="0.745" stop-color="#ff8000"/><stop offset="1" stop-color="#ff5800"/></linearGradient>
<linearGradient id="g327" gradientUnits="userSpaceOnUse" x1="566.5" y1="160.8" x2="579.7" y2="137.6"><stop offset="0" stop-color="#ceff00"/><stop offset="0.013" stop-color="#d0ff00"/><stop offset="0.589" stop-color="#ffff00"/><stop offset="0.884" stop-color="#ffe000"/><stop offset="1" stop-color="#ffd100"/></linearGradient>
<linearGradient id="g328" gradientUnits="userSpaceOnUse" x1="566.5" y1="160.8" x2="573.7" y2="140"><stop offset="0" stop-color="#ceff00"/><stop offset="0.013" stop-color="#d0ff00"/><stop offset="0.589" stop-color="#ffff00"/><stop offset="0.884" stop-color="#ffe000"/><stop offset="1" stop-color="#ffd100"/></linearGradient>
<linearGradient id="g329" gradientUnits="userSpaceOnUse" x1="550.6" y1="180.2" x2="558.6" y2="156.3"><stop offset="0" stop-color="#00ff04"/><stop offset="0.015" stop-color="#00ff00"/><stop offset="0.503" stop-color="#80ff00"/><stop offset="0.941" stop-color="#d0ff00"/><stop offset="1" stop-color="#d6ff00"/></linearGradient>
<linearGradient id="g330" gradientUnits="userSpaceOnUse" x1="550.6" y1="180.2" x2="557.9" y2="156.7"><stop offset="0" stop-color="#00ff04"/><stop offset="0.015" stop-color="#00ff00"/><stop offset="0.503" stop-color="#80ff00"/><stop offset="0.941" stop-color="#d0ff00"/><stop offset="1" stop-color="#d6ff00"/></linearGradient>
<linearGradient id="g331" gradientUnits="userSpaceOnUse" x1="534.1" y1="199.5" x2="541" y2="177.2"><stop offset="0" stop-color="#00e8ff"/><stop offset="0.191" stop-color="#00ffff"/><stop offset="0.498" stop-color="#00ff80"/><stop offset="1" stop-color="#00ff04"/></linearGradient>
<linearGradient id="g332" gradientUnits="userSpaceOnUse" x1="534.1" y1="199.5" x2="541.8" y2="176.7"><stop offset="0" stop-color="#00e8ff"/><stop offset="0.191" stop-color="#00ffff"/><stop offset="0.498" stop-color="#00ff80"/><stop offset="1" stop-color="#00ff04"/></linearGradient>
<linearGradient id="g333" gradientUnits="userSpaceOnUse" x1="516.8" y1="220.2" x2="524.8" y2="196.4"><stop offset="0" stop-color="#004fff"/><stop offset="0.061" stop-color="#0060ff"/><stop offset="0.571" stop-color="#00a8ff"/><stop offset="0.878" stop-color="#00d8ff"/><stop offset="1" stop-color="#00e8ff"/></linearGradient>
<linearGradient id="g334" gradientUnits="userSpaceOnUse" x1="516.8" y1="220.2" x2="529.2" y2="194.4"><stop offset="0" stop-color="#004fff"/><stop offset="0.061" stop-color="#0060ff"/><stop offset="0.571" stop-color="#00a8ff"/><stop offset="0.878" stop-color="#00d8ff"/><stop offset="1" stop-color="#00e8ff"/></linearGradient>
<linearGradient id="g335" gradientUnits="userSpaceOnUse" x1="498.7" y1="242.4" x2="511.7" y2="214.4"><stop offset="0" stop-color="#7c00ea"/><stop offset="0.136" stop-color="#7000ff"/><stop offset="0.363" stop-color="#3000ff"/><stop offset="0.648" stop-color="#0000ff"/><stop offset="0.953" stop-color="#0060ff"/><stop offset="1" stop-color="#0068ff"/></linearGradient>
<linearGradient id="g336" gradientUnits="userSpaceOnUse" x1="498.7" y1="242.4" x2="520.5" y2="213.9"><stop offset="0" stop-color="#7c00ea"/><stop offset="0.136" stop-color="#7000ff"/><stop offset="0.363" stop-color="#3000ff"/><stop offset="0.648" stop-color="#0000ff"/><stop offset="0.953" stop-color="#0060ff"/><stop offset="1" stop-color="#0068ff"/></linearGradient>
<linearGradient id="g337" gradientUnits="userSpaceOnUse" x1="481.7" y1="7.9" x2="482.6" y2="12.8"><stop offset="0" stop-color="#8400da"/><stop offset="0.002" stop-color="#8400dc"/><stop offset="0.045" stop-color="#7000ff"/><stop offset="0.088" stop-color="#3000ff"/><stop offset="0.142" stop-color="#0000ff"/><stop offset="0.2" stop-color="#0060ff"/><stop offset="0.284" stop-color="#00a8ff"/><stop offset="0.334" stop-color="#00d8ff"/><stop offset="0.385" stop-color="#00ffff"/><stop offset="0.433" stop-color="#00ff80"/><stop offset="0.515" stop-color="#00ff00"/><stop offset="0.605" stop-color="#80ff00"/><stop offset="0.685" stop-color="#d0ff00"/><stop offset="0.766" stop-color="#ffff00"/><stop offset="0.807" stop-color="#ffe000"/><stop offset="0.857" stop-color="#ffb000"/><stop offset="0.907" stop-color="#ff8000"/><stop offset="0.958" stop-color="#ff5000"/><stop offset="1" stop-color="#ff2800"/></linearGradient>
<linearGradient id="g338" gradientUnits="userSpaceOnUse" x1="481.7" y1="7.9" x2="484.5" y2="16.3"><stop offset="0" stop-color="#8400da"/><stop offset="0.002" stop-color="#8400dc"/><stop offset="0.045" stop-color="#7000ff"/><stop offset="0.088" stop-color="#3000ff"/><stop offset="0.142" stop-color="#0000ff"/><stop offset="0.2" stop-color="#0060ff"/><stop offset="0.284" stop-color="#00a8ff"/><stop offset="0.334" stop-color="#00d8ff"/><stop offset="0.385" stop-color="#00ffff"/><stop offset="0.433" stop-color="#00ff80"/><stop offset="0.515" stop-color="#00ff00"/><stop offset="0.605" stop-color="#80ff00"/><stop offset="0.685" stop-color="#d0ff00"/><stop offset="0.766" stop-color="#ffff00"/><stop offset="0.807" stop-color="#ffe000"/><stop offset="0.857" stop-color="#ffb000"/><stop offset="0.907" stop-color="#ff8000"/><stop offset="0.958" stop-color="#ff5000"/><stop offset="1" stop-color="#ff2800"/></linearGradient>
<linearGradient id="g339" gradientUnits="userSpaceOnUse" x1="466.2" y1="10.8" x2="467.2" y2="15.9"><stop offset="0" stop-color="#8200cb"/><stop offset="0.026" stop-color="#8400dc"/><stop offset="0.08" stop-color="#7000ff"/><stop offset="0.134" stop-color="#3000ff"/><stop offset="0.202" stop-color="#0000ff"/><stop offset="0.274" stop-color="#0060ff"/><stop offset="0.38" stop-color="#00a8ff"/><stop offset="0.443" stop-color="#00d8ff"/><stop offset="0.506" stop-color="#00ffff"/><stop offset="0.567" stop-color="#00ff80"/><stop offset="0.67" stop-color="#00ff00"/><stop offset="0.782" stop-color="#80ff00"/><stop offset="0.883" stop-color="#d0ff00"/><stop offset="0.984" stop-color="#ffff00"/><stop offset="1" stop-color="#fff500"/></linearGradient>
<linearGradient id="g340" gradientUnits="userSpaceOnUse" x1="466.2" y1="10.8" x2="470.2" y2="20.8"><stop offset="0" stop-color="#8200cb"/><stop offset="0.026" stop-color="#8400dc"/><stop offset="0.08" stop-color="#7000ff"/><stop offset="0.134" stop-color="#3000ff"/><stop offset="0.202" stop-color="#0000ff"/><stop offset="0.274" stop-color="#0060ff"/><stop offset="0.38" stop-color="#00a8ff"/><stop offset="0.443" stop-color="#00d8ff"/><stop offset="0.506" stop-color="#00ffff"/><stop offset="0.567" stop-color="#00ff80"/><stop offset="0.67" stop-color="#00ff00"/><stop offset="0.782" stop-color="#80ff00"/><stop offset="0.883" stop-color="#d0ff00"/><stop offset="0.984" stop-color="#ffff00"/><stop offset="1" stop-color="#fff500"/></linearGradient>
<linearGradient id="g341" gradientUnits="userSpaceOnUse" x1="450" y1="13.8" x2="451" y2="19.1"><stop offset="0" stop-color="#8100bc"/><stop offset="0.067" stop-color="#8400dc"/><stop offset="0.139" stop-color="#7000ff"/><stop offset="0.211" stop-color="#3000ff"/><stop offset="0.302" stop-color="#0000ff"/><stop offset="0.4" stop-color="#0060ff"/><stop offset="0.541" stop-color="#00a8ff"/><stop offset="0.626" stop-color="#00d8ff"/><stop offset="0.71" stop-color="#00ffff"/><stop offset="0.792" stop-color="#00ff80"/><stop offset="0.93" stop-color="#00ff00"/><stop offset="1" stop-color="#3bff00"/></linearGradient>
<linearGradient id="g342" gradientUnits="userSpaceOnUse" x1="450" y1="13.8" x2="465.6" y2="29.2"><stop offset="0" stop-color="#8100bc"/><stop offset="0.067" stop-color="#8400dc"/><stop offset="0.139" stop-color="#7000ff"/><stop offset="0.211" stop-color="#3000ff"/><stop offset="0.302" stop-color="#0000ff"/><stop offset="0.4" stop-color="#0060ff"/><stop offset="0.541" stop-color="#00a8ff"/><stop offset="0.626" stop-color="#00d8ff"/><stop offset="0.71" stop-color="#00ffff"/><stop offset="0.792" stop-color="#00ff80"/><stop offset="0.93" stop-color="#00ff00"/><stop offset="1" stop-color="#3bff00"/></linearGradient>
<linearGradient id="g343" gradientUnits="userSpaceOnUse" x1="433" y1="17" x2="434.1" y2="22.6"><stop offset="0" stop-color="#7e00ad"/><stop offset="0.024" stop-color="#8000b4"/><stop offset="0.163" stop-color="#8400dc"/><stop offset="0.282" stop-color="#7000ff"/><stop offset="0.401" stop-color="#3000ff"/><stop offset="0.551" stop-color="#0000ff"/><stop offset="0.712" stop-color="#0060ff"/><stop offset="0.945" stop-color="#00a8ff"/><stop offset="1" stop-color="#00bbff"/></linearGradient>
<linearGradient id="g344" gradientUnits="userSpaceOnUse" x1="433" y1="17" x2="465.2" y2="16.3"><stop offset="0" stop-color="#7e00ad"/><stop offset="0.024" stop-color="#8000b4"/><stop offset="0.163" stop-color="#8400dc"/><stop offset="0.282" stop-color="#7000ff"/><stop offset="0.401" stop-color="#3000ff"/><stop offset="0.551" stop-color="#0000ff"/><stop offset="0.712" stop-color="#0060ff"/><stop offset="0.945" stop-color="#00a8ff"/><stop offset="1" stop-color="#00bbff"/></linearGradient>
<linearGradient id="g345" gradientUnits="userSpaceOnUse" x1="415.2" y1="20.3" x2="416.8" y2="27"><stop offset="0" stop-color="#790099"/><stop offset="0.172" stop-color="#8000b4"/><stop offset="0.429" stop-color="#8400dc"/><stop offset="0.648" stop-color="#7000ff"/><stop offset="0.867" stop-color="#3000ff"/><stop offset="1" stop-color="#1900ff"/></linearGradient>
<linearGradient id="g346" gradientUnits="userSpaceOnUse" x1="415.2" y1="20.3" x2="440.1" y2="34.2"><stop offset="0" stop-color="#790099"/><stop offset="0.172" stop-color="#8000b4"/><stop offset="0.429" stop-color="#8400dc"/><stop offset="0.648" stop-color="#7000ff"/><stop offset="0.867" stop-color="#3000ff"/><stop offset="1" stop-color="#1900ff"/></linearGradient>
<linearGradient id="g347" gradientUnits="userSpaceOnUse" x1="396.5" y1="23.7" x2="399.3" y2="32.6"><stop offset="0" stop-color="#610073"/><stop offset="0.148" stop-color="#760090"/><stop offset="0.492" stop-color="#8000b4"/><stop offset="0.872" stop-color="#8400dc"/><stop offset="1" stop-color="#7c00ea"/></linearGradient>
<linearGradient id="g348" gradientUnits="userSpaceOnUse" x1="396.5" y1="23.7" x2="417.9" y2="39.8"><stop offset="0" stop-color="#610073"/><stop offset="0.148" stop-color="#760090"/><stop offset="0.492" stop-color="#8000b4"/><stop offset="0.872" stop-color="#8400dc"/><stop offset="1" stop-color="#7c00ea"/></linearGradient>
<linearGradient id="g349" gradientUnits="userSpaceOnUse" x1="376.9" y1="27.4" x2="378.2" y2="33.6"><stop offset="0" stop-color="#5b006a"/><stop offset="0.336" stop-color="#760090"/><stop offset="0.944" stop-color="#8000b4"/><stop offset="1" stop-color="#8000b7"/></linearGradient>
<linearGradient id="g350" gradientUnits="userSpaceOnUse" x1="376.9" y1="27.4" x2="408.8" y2="16.9"><stop offset="0" stop-color="#5b006a"/><stop offset="0.336" stop-color="#760090"/><stop offset="0.944" stop-color="#8000b4"/><stop offset="1" stop-color="#8000b7"/></linearGradient>
<linearGradient id="g351" gradientUnits="userSpaceOnUse" x1="496.8" y1="10.1" x2="500.1" y2="19.3"><stop offset="0" stop-color="#fff500"/><stop offset="0.031" stop-color="#ffe000"/><stop offset="0.086" stop-color="#ffb000"/><stop offset="0.142" stop-color="#ff8000"/><stop offset="0.197" stop-color="#ff5000"/><stop offset="0.252" stop-color="#ff2000"/><stop offset="0.318" stop-color="#ff0000"/><stop offset="0.625" stop-color="#ff0000"/><stop offset="0.727" stop-color="#d00000"/><stop offset="0.836" stop-color="#a00000"/><stop offset="0.947" stop-color="#700000"/><stop offset="1" stop-color="#5d0000"/></linearGradient>
<linearGradient id="g352" gradientUnits="userSpaceOnUse" x1="496.8" y1="10.1" x2="499.6" y2="18.5"><stop offset="0" stop-color="#fff500"/><stop offset="0.031" stop-color="#ffe000"/><stop offset="0.086" stop-color="#ffb000"/><stop offset="0.142" stop-color="#ff8000"/><stop offset="0.197" stop-color="#ff5000"/><stop offset="0.252" stop-color="#ff2000"/><stop offset="0.318" stop-color="#ff0000"/><stop offset="0.625" stop-color="#ff0000"/><stop offset="0.727" stop-color="#d00000"/><stop offset="0.836" stop-color="#a00000"/><stop offset="0.947" stop-color="#700000"/><stop offset="1" stop-color="#5d0000"/></linearGradient>
<linearGradient id="g353" gradientUnits="userSpaceOnUse" x1="481.4" y1="13.1" x2="484.5" y2="22"><stop offset="0" stop-color="#3bff00"/><stop offset="0.051" stop-color="#80ff00"/><stop offset="0.135" stop-color="#d0ff00"/><stop offset="0.22" stop-color="#ffff00"/><stop offset="0.263" stop-color="#ffe000"/><stop offset="0.316" stop-color="#ffb000"/><stop offset="0.369" stop-color="#ff8000"/><stop offset="0.422" stop-color="#ff5000"/><stop offset="0.475" stop-color="#ff2000"/><stop offset="0.538" stop-color="#ff0000"/><stop offset="0.833" stop-color="#ff0000"/><stop offset="0.932" stop-color="#d00000"/><stop offset="1" stop-color="#b10000"/></linearGradient>
<linearGradient id="g354" gradientUnits="userSpaceOnUse" x1="481.4" y1="13.1" x2="484.7" y2="22.4"><stop offset="0" stop-color="#3bff00"/><stop offset="0.051" stop-color="#80ff00"/><stop offset="0.135" stop-color="#d0ff00"/><stop offset="0.22" stop-color="#ffff00"/><stop offset="0.263" stop-color="#ffe000"/><stop offset="0.316" stop-color="#ffb000"/><stop offset="0.369" stop-color="#ff8000"/><stop offset="0.422" stop-color="#ff5000"/><stop offset="0.475" stop-color="#ff2000"/><stop offset="0.538" stop-color="#ff0000"/><stop offset="0.833" stop-color="#ff0000"/><stop offset="0.932" stop-color="#d00000"/><stop offset="1" stop-color="#b10000"/></linearGradient>
<linearGradient id="g355" gradientUnits="userSpaceOnUse" x1="465.2" y1="16.2" x2="468.8" y2="25.9"><stop offset="0" stop-color="#00bbff"/><stop offset="0.031" stop-color="#00d8ff"/><stop offset="0.082" stop-color="#00ffff"/><stop offset="0.132" stop-color="#00ff80"/><stop offset="0.216" stop-color="#00ff00"/><stop offset="0.307" stop-color="#80ff00"/><stop offset="0.389" stop-color="#d0ff00"/><stop offset="0.471" stop-color="#ffff00"/><stop offset="0.513" stop-color="#ffe000"/><stop offset="0.564" stop-color="#ffb000"/><stop offset="0.615" stop-color="#ff8000"/><stop offset="0.667" stop-color="#ff5000"/><stop offset="0.718" stop-color="#ff2000"/><stop offset="0.779" stop-color="#ff0000"/><stop offset="1" stop-color="#ff0000"/></linearGradient>
<linearGradient id="g356" gradientUnits="userSpaceOnUse" x1="465.2" y1="16.2" x2="467.4" y2="23.9"><stop offset="0" stop-color="#00bbff"/><stop offset="0.031" stop-color="#00d8ff"/><stop offset="0.082" stop-color="#00ffff"/><stop offset="0.132" stop-color="#00ff80"/><stop offset="0.216" stop-color="#00ff00"/><stop offset="0.307" stop-color="#80ff00"/><stop offset="0.389" stop-color="#d0ff00"/><stop offset="0.471" stop-color="#ffff00"/><stop offset="0.513" stop-color="#ffe000"/><stop offset="0.564" stop-color="#ffb000"/><stop offset="0.615" stop-color="#ff8000"/><stop offset="0.667" stop-color="#ff5000"/><stop offset="0.718" stop-color="#ff2000"/><stop offset="0.779" stop-color="#ff0000"/><stop offset="1" stop-color="#ff0000"/></linearGradient>
<linearGradient id="g357" gradientUnits="userSpaceOnUse" x1="448.3" y1="19.5" x2="450.6" y2="27.5"><stop offset="0" stop-color="#1900ff"/><stop offset="0.028" stop-color="#0000ff"/><stop offset="0.085" stop-color="#0060ff"/><stop offset="0.168" stop-color="#00a8ff"/><stop offset="0.218" stop-color="#00d8ff"/><stop offset="0.267" stop-color="#00ffff"/><stop offset="0.315" stop-color="#00ff80"/><stop offset="0.396" stop-color="#00ff00"/><stop offset="0.485" stop-color="#80ff00"/><stop offset="0.564" stop-color="#d0ff00"/><stop offset="0.643" stop-color="#ffff00"/><stop offset="0.684" stop-color="#ffe000"/><stop offset="0.734" stop-color="#ffb000"/><stop offset="0.784" stop-color="#ff8000"/><stop offset="0.833" stop-color="#ff5000"/><stop offset="0.883" stop-color="#ff2000"/><stop offset="0.942" stop-color="#ff0000"/><stop offset="1" stop-color="#ff0000"/></linearGradient>
<linearGradient id="g358" gradientUnits="userSpaceOnUse" x1="448.3" y1="19.5" x2="474.3" y2="32.3"><stop offset="0" stop-color="#1900ff"/><stop offset="0.028" stop-color="#0000ff"/><stop offset="0.085" stop-color="#0060ff"/><stop offset="0.168" stop-color="#00a8ff"/><stop offset="0.218" stop-color="#00d8ff"/><stop offset="0.267" stop-color="#00ffff"/><stop offset="0.315" stop-color="#00ff80"/><stop offset="0.396" stop-color="#00ff00"/><stop offset="0.485" stop-color="#80ff00"/><stop offset="0.564" stop-color="#d0ff00"/><stop offset="0.643" stop-color="#ffff00"/><stop offset="0.684" stop-color="#ffe000"/><stop offset="0.734" stop-color="#ffb000"/><stop offset="0.784" stop-color="#ff8000"/><stop offset="0.833" stop-color="#ff5000"/><stop offset="0.883" stop-color="#ff2000"/><stop offset="0.942" stop-color="#ff0000"/><stop offset="1" stop-color="#ff0000"/></linearGradient>
<linearGradient id="g359" gradientUnits="userSpaceOnUse" x1="430.6" y1="22.9" x2="432.5" y2="30.3"><stop offset="0" stop-color="#7c00ea"/><stop offset="0.041" stop-color="#7000ff"/><stop offset="0.109" stop-color="#3000ff"/><stop offset="0.194" stop-color="#0000ff"/><stop offset="0.286" stop-color="#0060ff"/><stop offset="0.419" stop-color="#00a8ff"/><stop offset="0.498" stop-color="#00d8ff"/><stop offset="0.578" stop-color="#00ffff"/><stop offset="0.655" stop-color="#00ff80"/><stop offset="0.784" stop-color="#00ff00"/><stop offset="0.926" stop-color="#80ff00"/><stop offset="1" stop-color="#afff00"/></linearGradient>
<linearGradient id="g360" gradientUnits="userSpaceOnUse" x1="430.6" y1="22.9" x2="450.8" y2="39"><stop offset="0" stop-color="#7c00ea"/><stop offset="0.041" stop-color="#7000ff"/><stop offset="0.109" stop-color="#3000ff"/><stop offset="0.194" stop-color="#0000ff"/><stop offset="0.286" stop-color="#0060ff"/><stop offset="0.419" stop-color="#00a8ff"/><stop offset="0.498" stop-color="#00d8ff"/><stop offset="0.578" stop-color="#00ffff"/><stop offset="0.655" stop-color="#00ff80"/><stop offset="0.784" stop-color="#00ff00"/><stop offset="0.926" stop-color="#80ff00"/><stop offset="1" stop-color="#afff00"/></linearGradient>
<linearGradient id="g361" gradientUnits="userSpaceOnUse" x1="411.9" y1="26.5" x2="413.9" y2="34.1"><stop offset="0" stop-color="#8000b7"/><stop offset="0.112" stop-color="#8400dc"/><stop offset="0.217" stop-color="#7000ff"/><stop offset="0.321" stop-color="#3000ff"/><stop offset="0.453" stop-color="#0000ff"/><stop offset="0.593" stop-color="#0060ff"/><stop offset="0.798" stop-color="#00a8ff"/><stop offset="0.92" stop-color="#00d8ff"/><stop offset="1" stop-color="#00f1ff"/></linearGradient>
<linearGradient id="g362" gradientUnits="userSpaceOnUse" x1="411.9" y1="26.5" x2="433" y2="43"><stop offset="0" stop-color="#8000b7"/><stop offset="0.112" stop-color="#8400dc"/><stop offset="0.217" stop-color="#7000ff"/><stop offset="0.321" stop-color="#3000ff"/><stop offset="0.453" stop-color="#0000ff"/><stop offset="0.593" stop-color="#0060ff"/><stop offset="0.798" stop-color="#00a8ff"/><stop offset="0.92" stop-color="#00d8ff"/><stop offset="1" stop-color="#00f1ff"/></linearGradient>
<linearGradient id="g363" gradientUnits="userSpaceOnUse" x1="392.3" y1="30.3" x2="394.5" y2="38.3"><stop offset="0" stop-color="#770094"/><stop offset="0.151" stop-color="#8000b4"/><stop offset="0.341" stop-color="#8400dc"/><stop offset="0.502" stop-color="#7000ff"/><stop offset="0.664" stop-color="#3000ff"/><stop offset="0.867" stop-color="#0000ff"/><stop offset="1" stop-color="#003aff"/></linearGradient>
<linearGradient id="g364" gradientUnits="userSpaceOnUse" x1="392.3" y1="30.3" x2="410.1" y2="47.6"><stop offset="0" stop-color="#770094"/><stop offset="0.151" stop-color="#8000b4"/><stop offset="0.341" stop-color="#8400dc"/><stop offset="0.502" stop-color="#7000ff"/><stop offset="0.664" stop-color="#3000ff"/><stop offset="0.867" stop-color="#0000ff"/><stop offset="1" stop-color="#003aff"/></linearGradient>
<linearGradient id="g365" gradientUnits="userSpaceOnUse" x1="512.4" y1="12.4" x2="512.5" y2="9.1"><stop offset="0" stop-color="#b10000"/><stop offset="0.186" stop-color="#a00000"/><stop offset="0.735" stop-color="#700000"/><stop offset="1" stop-color="#5d0000"/></linearGradient>
<linearGradient id="g366" gradientUnits="userSpaceOnUse" x1="512.3" y1="13.6" x2="512.7" y2="9.4"><stop offset="0" stop-color="#c00000"/><stop offset="0.577" stop-color="#a00000"/><stop offset="1" stop-color="#890000"/></linearGradient>
<linearGradient id="g367" gradientUnits="userSpaceOnUse" x1="497.1" y1="15.5" x2="497.6" y2="10.9"><stop offset="0" stop-color="#ff0000"/><stop offset="0.286" stop-color="#ff0000"/><stop offset="0.707" stop-color="#d00000"/><stop offset="1" stop-color="#b10000"/></linearGradient>
<linearGradient id="g368" gradientUnits="userSpaceOnUse" x1="497.1" y1="15.5" x2="503.1" y2="2.8"><stop offset="0" stop-color="#ff0000"/><stop offset="0.333" stop-color="#ff0000"/><stop offset="0.825" stop-color="#d00000"/><stop offset="1" stop-color="#c00000"/></linearGradient>
<linearGradient id="g369" gradientUnits="userSpaceOnUse" x1="481.1" y1="18.7" x2="485.4" y2="7.3"><stop offset="0" stop-color="#ff0000"/><stop offset="1" stop-color="#ff0000"/></linearGradient>
<linearGradient id="g370" gradientUnits="userSpaceOnUse" x1="481.1" y1="18.7" x2="499.9" y2="2.4"><stop offset="0" stop-color="#ff0000"/><stop offset="1" stop-color="#ff0000"/></linearGradient>
<linearGradient id="g371" gradientUnits="userSpaceOnUse" x1="464.2" y1="22.1" x2="466.4" y2="13.5"><stop offset="0" stop-color="#afff00"/><stop offset="0.059" stop-color="#d0ff00"/><stop offset="0.2" stop-color="#ffff00"/><stop offset="0.272" stop-color="#ffe000"/><stop offset="0.36" stop-color="#ffb000"/><stop offset="0.449" stop-color="#ff8000"/><stop offset="0.537" stop-color="#ff5000"/><stop offset="0.626" stop-color="#ff2000"/><stop offset="0.731" stop-color="#ff0000"/><stop offset="1" stop-color="#ff0000"/></linearGradient>
<linearGradient id="g372" gradientUnits="userSpaceOnUse" x1="464.2" y1="22.1" x2="466.8" y2="30.5"><stop offset="0" stop-color="#afff00"/><stop offset="0.059" stop-color="#d0ff00"/><stop offset="0.2" stop-color="#ffff00"/><stop offset="0.272" stop-color="#ffe000"/><stop offset="0.36" stop-color="#ffb000"/><stop offset="0.449" stop-color="#ff8000"/><stop offset="0.537" stop-color="#ff5000"/><stop offset="0.626" stop-color="#ff2000"/><stop offset="0.731" stop-color="#ff0000"/><stop offset="1" stop-color="#ff0000"/></linearGradient>
<linearGradient id="g373" gradientUnits="userSpaceOnUse" x1="446.5" y1="25.7" x2="456.6" y2="40.8"><stop offset="0" stop-color="#00f1ff"/><stop offset="0.023" stop-color="#00ffff"/><stop offset="0.087" stop-color="#00ff80"/><stop offset="0.195" stop-color="#00ff00"/><stop offset="0.313" stop-color="#80ff00"/><stop offset="0.419" stop-color="#d0ff00"/><stop offset="0.525" stop-color="#ffff00"/><stop offset="0.579" stop-color="#ffe000"/><stop offset="0.645" stop-color="#ffb000"/><stop offset="0.711" stop-color="#ff8000"/><stop offset="0.778" stop-color="#ff5000"/><stop offset="0.844" stop-color="#ff2000"/><stop offset="0.923" stop-color="#ff0000"/><stop offset="1" stop-color="#ff0000"/></linearGradient>
<linearGradient id="g374" gradientUnits="userSpaceOnUse" x1="446.5" y1="25.7" x2="450.6" y2="36.3"><stop offset="0" stop-color="#00f1ff"/><stop offset="0.023" stop-color="#00ffff"/><stop offset="0.087" stop-color="#00ff80"/><stop offset="0.195" stop-color="#00ff00"/><stop offset="0.313" stop-color="#80ff00"/><stop offset="0.419" stop-color="#d0ff00"/><stop offset="0.525" stop-color="#ffff00"/><stop offset="0.579" stop-color="#ffe000"/><stop offset="0.645" stop-color="#ffb000"/><stop offset="0.711" stop-color="#ff8000"/><stop offset="0.778" stop-color="#ff5000"/><stop offset="0.844" stop-color="#ff2000"/><stop offset="0.923" stop-color="#ff0000"/><stop offset="1" stop-color="#ff0000"/></linearGradient>
<linearGradient id="g375" gradientUnits="userSpaceOnUse" x1="428" y1="29.4" x2="431.7" y2="39.8"><stop offset="0" stop-color="#003aff"/><stop offset="0.03" stop-color="#0060ff"/><stop offset="0.14" stop-color="#00a8ff"/><stop offset="0.207" stop-color="#00d8ff"/><stop offset="0.273" stop-color="#00ffff"/><stop offset="0.337" stop-color="#00ff80"/><stop offset="0.445" stop-color="#00ff00"/><stop offset="0.563" stop-color="#80ff00"/><stop offset="0.669" stop-color="#d0ff00"/><stop offset="0.775" stop-color="#ffff00"/><stop offset="0.829" stop-color="#ffe000"/><stop offset="0.895" stop-color="#ffb000"/><stop offset="0.961" stop-color="#ff8000"/><stop offset="1" stop-color="#ff6400"/></linearGradient>
<linearGradient id="g376" gradientUnits="userSpaceOnUse" x1="428" y1="29.4" x2="443.4" y2="46.4"><stop offset="0" stop-color="#003aff"/><stop offset="0.03" stop-color="#0060ff"/><stop offset="0.14" stop-color="#00a8ff"/><stop offset="0.207" stop-color="#00d8ff"/><stop offset="0.273" stop-color="#00ffff"/><stop offset="0.337" stop-color="#00ff80"/><stop offset="0.445" stop-color="#00ff00"/><stop offset="0.563" stop-color="#80ff00"/><stop offset="0.669" stop-color="#d0ff00"/><stop offset="0.775" stop-color="#ffff00"/><stop offset="0.829" stop-color="#ffe000"/><stop offset="0.895" stop-color="#ffb000"/><stop offset="0.961" stop-color="#ff8000"/><stop offset="1" stop-color="#ff6400"/></linearGradient>
<linearGradient id="g377" gradientUnits="userSpaceOnUse" x1="408.4" y1="33.3" x2="411.4" y2="42.8"><stop offset="0" stop-color="#5e00ff"/><stop offset="0.055" stop-color="#3000ff"/><stop offset="0.151" stop-color="#0000ff"/><stop offset="0.254" stop-color="#0060ff"/><stop offset="0.403" stop-color="#00a8ff"/><stop offset="0.492" stop-color="#00d8ff"/><stop offset="0.582" stop-color="#00ffff"/><stop offset="0.668" stop-color="#00ff80"/><stop offset="0.814" stop-color="#00ff00"/><stop offset="0.973" stop-color="#80ff00"/><stop offset="1" stop-color="#8fff00"/></linearGradient>
<linearGradient id="g378" gradientUnits="userSpaceOnUse" x1="408.4" y1="33.3" x2="442.9" y2="25.2"><stop offset="0" stop-color="#5e00ff"/><stop offset="0.055" stop-color="#3000ff"/><stop offset="0.151" stop-color="#0000ff"/><stop offset="0.254" stop-color="#0060ff"/><stop offset="0.403" stop-color="#00a8ff"/><stop offset="0.492" stop-color="#00d8ff"/><stop offset="0.582" stop-color="#00ffff"/><stop offset="0.668" stop-color="#00ff80"/><stop offset="0.814" stop-color="#00ff00"/><stop offset="0.973" stop-color="#80ff00"/><stop offset="1" stop-color="#8fff00"/></linearGradient>
<linearGradient id="g379" gradientUnits="userSpaceOnUse" x1="528.8" y1="16.7" x2="528.4" y2="13"><stop offset="0" stop-color="#ff0000"/><stop offset="0.388" stop-color="#d00000"/><stop offset="0.8" stop-color="#a00000"/><stop offset="1" stop-color="#890000"/></linearGradient>
<linearGradient id="g380" gradientUnits="userSpaceOnUse" x1="528.7" y1="18.1" x2="528.6" y2="14.8"><stop offset="0" stop-color="#ff2800"/><stop offset="0.017" stop-color="#ff2000"/><stop offset="0.143" stop-color="#ff0000"/><stop offset="0.733" stop-color="#ff0000"/><stop offset="0.93" stop-color="#d00000"/><stop offset="1" stop-color="#c00000"/></linearGradient>
<linearGradient id="g381" gradientUnits="userSpaceOnUse" x1="513.8" y1="21.3" x2="513.2" y2="16.8"><stop offset="0" stop-color="#ff2800"/><stop offset="0.017" stop-color="#ff2000"/><stop offset="0.143" stop-color="#ff0000"/><stop offset="0.733" stop-color="#ff0000"/><stop offset="0.93" stop-color="#d00000"/><stop offset="1" stop-color="#c00000"/></linearGradient>
<linearGradient id="g382" gradientUnits="userSpaceOnUse" x1="514" y1="22.7" x2="513.4" y2="18"><stop offset="0" stop-color="#ffa000"/><stop offset="0.072" stop-color="#ff8000"/><stop offset="0.178" stop-color="#ff5000"/><stop offset="0.284" stop-color="#ff2000"/><stop offset="0.41" stop-color="#ff0000"/><stop offset="1" stop-color="#ff0000"/></linearGradient>
<linearGradient id="g383" gradientUnits="userSpaceOnUse" x1="497.9" y1="24.7" x2="497.3" y2="20.1"><stop offset="0" stop-color="#ffa000"/><stop offset="0.072" stop-color="#ff8000"/><stop offset="0.178" stop-color="#ff5000"/><stop offset="0.284" stop-color="#ff2000"/><stop offset="0.41" stop-color="#ff0000"/><stop offset="1" stop-color="#ff0000"/></linearGradient>
<linearGradient id="g384" gradientUnits="userSpaceOnUse" x1="498.5" y1="27" x2="497.4" y2="21.3"><stop offset="0" stop-color="#ffbf00"/><stop offset="0.04" stop-color="#ffb000"/><stop offset="0.173" stop-color="#ff8000"/><stop offset="0.306" stop-color="#ff5000"/><stop offset="0.439" stop-color="#ff2000"/><stop offset="0.596" stop-color="#ff0000"/><stop offset="1" stop-color="#ff0000"/></linearGradient>
<linearGradient id="g385" gradientUnits="userSpaceOnUse" x1="481.2" y1="28.5" x2="480.5" y2="23.6"><stop offset="0" stop-color="#ffbf00"/><stop offset="0.04" stop-color="#ffb000"/><stop offset="0.173" stop-color="#ff8000"/><stop offset="0.306" stop-color="#ff5000"/><stop offset="0.439" stop-color="#ff2000"/><stop offset="0.596" stop-color="#ff0000"/><stop offset="1" stop-color="#ff0000"/></linearGradient>
<linearGradient id="g386" gradientUnits="userSpaceOnUse" x1="481.2" y1="29.5" x2="480.7" y2="24.8"><stop offset="0" stop-color="#ceff00"/><stop offset="0.004" stop-color="#d0ff00"/><stop offset="0.185" stop-color="#ffff00"/><stop offset="0.278" stop-color="#ffe000"/><stop offset="0.392" stop-color="#ffb000"/><stop offset="0.505" stop-color="#ff8000"/><stop offset="0.619" stop-color="#ff5000"/><stop offset="0.733" stop-color="#ff2000"/><stop offset="0.868" stop-color="#ff0000"/><stop offset="1" stop-color="#ff0000"/></linearGradient>
<linearGradient id="g387" gradientUnits="userSpaceOnUse" x1="463.4" y1="31.1" x2="462.9" y2="26.6"><stop offset="0" stop-color="#ceff00"/><stop offset="0.004" stop-color="#d0ff00"/><stop offset="0.185" stop-color="#ffff00"/><stop offset="0.278" stop-color="#ffe000"/><stop offset="0.392" stop-color="#ffb000"/><stop offset="0.505" stop-color="#ff8000"/><stop offset="0.619" stop-color="#ff5000"/><stop offset="0.733" stop-color="#ff2000"/><stop offset="0.868" stop-color="#ff0000"/><stop offset="1" stop-color="#ff0000"/></linearGradient>
<linearGradient id="g388" gradientUnits="userSpaceOnUse" x1="463.6" y1="33.3" x2="463.1" y2="28.5"><stop offset="0" stop-color="#0eff00"/><stop offset="0.194" stop-color="#80ff00"/><stop offset="0.389" stop-color="#d0ff00"/><stop offset="0.584" stop-color="#ffff00"/><stop offset="0.684" stop-color="#ffe000"/><stop offset="0.806" stop-color="#ffb000"/><stop offset="0.929" stop-color="#ff8000"/><stop offset="1" stop-color="#ff6400"/></linearGradient>
<linearGradient id="g389" gradientUnits="userSpaceOnUse" x1="444.6" y1="33.3" x2="444.4" y2="29.4"><stop offset="0" stop-color="#0eff00"/><stop offset="0.194" stop-color="#80ff00"/><stop offset="0.389" stop-color="#d0ff00"/><stop offset="0.584" stop-color="#ffff00"/><stop offset="0.684" stop-color="#ffe000"/><stop offset="0.806" stop-color="#ffb000"/><stop offset="0.929" stop-color="#ff8000"/><stop offset="1" stop-color="#ff6400"/></linearGradient>
<linearGradient id="g390" gradientUnits="userSpaceOnUse" x1="444.8" y1="36.5" x2="444.6" y2="32.4"><stop offset="0" stop-color="#00bbff"/><stop offset="0.096" stop-color="#00d8ff"/><stop offset="0.256" stop-color="#00ffff"/><stop offset="0.409" stop-color="#00ff80"/><stop offset="0.669" stop-color="#00ff00"/><stop offset="0.952" stop-color="#80ff00"/><stop offset="1" stop-color="#8fff00"/></linearGradient>
<linearGradient id="g391" gradientUnits="userSpaceOnUse" x1="425.1" y1="36.5" x2="425" y2="32.9"><stop offset="0" stop-color="#00bbff"/><stop offset="0.096" stop-color="#00d8ff"/><stop offset="0.256" stop-color="#00ffff"/><stop offset="0.409" stop-color="#00ff80"/><stop offset="0.669" stop-color="#00ff00"/><stop offset="0.952" stop-color="#80ff00"/><stop offset="1" stop-color="#8fff00"/></linearGradient>
<linearGradient id="g392" gradientUnits="userSpaceOnUse" x1="425.2" y1="40.2" x2="425.1" y2="36.5"><stop offset="0" stop-color="#2400ff"/><stop offset="0.201" stop-color="#0000ff"/><stop offset="0.487" stop-color="#0060ff"/><stop offset="0.902" stop-color="#00a8ff"/><stop offset="1" stop-color="#00bbff"/></linearGradient>
<linearGradient id="g393" gradientUnits="userSpaceOnUse" x1="545.3" y1="17.3" x2="545.2" y2="14.4"><stop offset="0" stop-color="#ff2e00"/><stop offset="0.041" stop-color="#ff2000"/><stop offset="0.21" stop-color="#ff0000"/><stop offset="1" stop-color="#ff0000"/></linearGradient>
<linearGradient id="g394" gradientUnits="userSpaceOnUse" x1="545.4" y1="20.2" x2="545.3" y2="17.2"><stop offset="0" stop-color="#ffa600"/><stop offset="0.304" stop-color="#ff8000"/><stop offset="0.683" stop-color="#ff5000"/><stop offset="1" stop-color="#ff2800"/></linearGradient>
<linearGradient id="g395" gradientUnits="userSpaceOnUse" x1="530.2" y1="20.7" x2="530.1" y2="17.6"><stop offset="0" stop-color="#ffa600"/><stop offset="0.304" stop-color="#ff8000"/><stop offset="0.683" stop-color="#ff5000"/><stop offset="1" stop-color="#ff2800"/></linearGradient>
<linearGradient id="g396" gradientUnits="userSpaceOnUse" x1="530.3" y1="23.7" x2="530.2" y2="20.5"><stop offset="0" stop-color="#ffe700"/><stop offset="0.121" stop-color="#ffe000"/><stop offset="0.785" stop-color="#ffb000"/><stop offset="1" stop-color="#ffa000"/></linearGradient>
<linearGradient id="g397" gradientUnits="userSpaceOnUse" x1="514.7" y1="26.5" x2="514.2" y2="22.2"><stop offset="0" stop-color="#ffe700"/><stop offset="0.121" stop-color="#ffe000"/><stop offset="0.785" stop-color="#ffb000"/><stop offset="1" stop-color="#ffa000"/></linearGradient>
<linearGradient id="g398" gradientUnits="userSpaceOnUse" x1="514.7" y1="27.9" x2="514.4" y2="24"><stop offset="0" stop-color="#e2ff00"/><stop offset="0.398" stop-color="#ffff00"/><stop offset="0.723" stop-color="#ffe000"/><stop offset="1" stop-color="#ffbf00"/></linearGradient>
<linearGradient id="g399" gradientUnits="userSpaceOnUse" x1="497.8" y1="27.6" x2="497.8" y2="24.1"><stop offset="0" stop-color="#ceff00"/><stop offset="0.011" stop-color="#d0ff00"/><stop offset="0.518" stop-color="#ffff00"/><stop offset="0.778" stop-color="#ffe000"/><stop offset="1" stop-color="#ffbf00"/></linearGradient>
<linearGradient id="g400" gradientUnits="userSpaceOnUse" x1="497.8" y1="30.6" x2="497.8" y2="26.9"><stop offset="0" stop-color="#3bff00"/><stop offset="0.304" stop-color="#80ff00"/><stop offset="0.811" stop-color="#d0ff00"/><stop offset="1" stop-color="#e2ff00"/></linearGradient>
<linearGradient id="g401" gradientUnits="userSpaceOnUse" x1="480.3" y1="31.5" x2="480.3" y2="27.7"><stop offset="0" stop-color="#0eff00"/><stop offset="0.504" stop-color="#80ff00"/><stop offset="1" stop-color="#ceff00"/></linearGradient>
<linearGradient id="g402" gradientUnits="userSpaceOnUse" x1="480.3" y1="34.6" x2="480.3" y2="30.7"><stop offset="0" stop-color="#00ffda"/><stop offset="0.218" stop-color="#00ff80"/><stop offset="0.737" stop-color="#00ff00"/><stop offset="1" stop-color="#3bff00"/></linearGradient>
<linearGradient id="g403" gradientUnits="userSpaceOnUse" x1="461.9" y1="35.5" x2="462" y2="31"><stop offset="0" stop-color="#00bbff"/><stop offset="0.138" stop-color="#00d8ff"/><stop offset="0.365" stop-color="#00ffff"/><stop offset="0.584" stop-color="#00ff80"/><stop offset="0.955" stop-color="#00ff00"/><stop offset="1" stop-color="#0eff00"/></linearGradient>
<linearGradient id="g404" gradientUnits="userSpaceOnUse" x1="461.8" y1="38.2" x2="461.9" y2="33.5"><stop offset="0" stop-color="#003aff"/><stop offset="0.102" stop-color="#0060ff"/><stop offset="0.481" stop-color="#00a8ff"/><stop offset="0.709" stop-color="#00d8ff"/><stop offset="0.937" stop-color="#00ffff"/><stop offset="1" stop-color="#00ffda"/></linearGradient>
<linearGradient id="g405" gradientUnits="userSpaceOnUse" x1="442.5" y1="39.7" x2="442.5" y2="35.1"><stop offset="0" stop-color="#2400ff"/><stop offset="0.201" stop-color="#0000ff"/><stop offset="0.487" stop-color="#0060ff"/><stop offset="0.902" stop-color="#00a8ff"/><stop offset="1" stop-color="#00bbff"/></linearGradient>
<linearGradient id="g406" gradientUnits="userSpaceOnUse" x1="442.4" y1="42.7" x2="442.5" y2="37.9"><stop offset="0" stop-color="#8200cb"/><stop offset="0.107" stop-color="#8400dc"/><stop offset="0.325" stop-color="#7000ff"/><stop offset="0.544" stop-color="#3000ff"/><stop offset="0.82" stop-color="#0000ff"/><stop offset="1" stop-color="#003aff"/></linearGradient>
<linearGradient id="g407" gradientUnits="userSpaceOnUse" x1="562.6" y1="19.7" x2="563.3" y2="14.6"><stop offset="0" stop-color="#ffa600"/><stop offset="0.319" stop-color="#ff8000"/><stop offset="0.717" stop-color="#ff5000"/><stop offset="1" stop-color="#ff2e00"/></linearGradient>
<linearGradient id="g408" gradientUnits="userSpaceOnUse" x1="562.5" y1="20.4" x2="563.1" y2="15.5"><stop offset="0" stop-color="#ffb900"/><stop offset="0.062" stop-color="#ffb000"/><stop offset="0.408" stop-color="#ff8000"/><stop offset="0.754" stop-color="#ff5000"/><stop offset="1" stop-color="#ff2e00"/></linearGradient>
<linearGradient id="g409" gradientUnits="userSpaceOnUse" x1="547.7" y1="23.2" x2="548" y2="18.6"><stop offset="0" stop-color="#ffe700"/><stop offset="0.132" stop-color="#ffe000"/><stop offset="0.856" stop-color="#ffb000"/><stop offset="1" stop-color="#ffa600"/></linearGradient>
<linearGradient id="g410" gradientUnits="userSpaceOnUse" x1="547.6" y1="24.7" x2="547.9" y2="20.1"><stop offset="0" stop-color="#fffa00"/><stop offset="0.454" stop-color="#ffe000"/><stop offset="1" stop-color="#ffb900"/></linearGradient>
<linearGradient id="g411" gradientUnits="userSpaceOnUse" x1="532" y1="26.8" x2="532.3" y2="22.1"><stop offset="0" stop-color="#e2ff00"/><stop offset="0.612" stop-color="#ffff00"/><stop offset="1" stop-color="#ffe700"/></linearGradient>
<linearGradient id="g412" gradientUnits="userSpaceOnUse" x1="531.9" y1="28.4" x2="532.2" y2="23.7"><stop offset="0" stop-color="#ceff00"/><stop offset="0.02" stop-color="#d0ff00"/><stop offset="0.926" stop-color="#ffff00"/><stop offset="1" stop-color="#fffa00"/></linearGradient>
<linearGradient id="g413" gradientUnits="userSpaceOnUse" x1="515.5" y1="30.5" x2="516" y2="25.2"><stop offset="0" stop-color="#3bff00"/><stop offset="0.304" stop-color="#80ff00"/><stop offset="0.811" stop-color="#d0ff00"/><stop offset="1" stop-color="#e2ff00"/></linearGradient>
<linearGradient id="g414" gradientUnits="userSpaceOnUse" x1="515.4" y1="31.7" x2="516" y2="26.1"><stop offset="0" stop-color="#0eff00"/><stop offset="0.504" stop-color="#80ff00"/><stop offset="1" stop-color="#ceff00"/></linearGradient>
<linearGradient id="g415" gradientUnits="userSpaceOnUse" x1="498.2" y1="34.5" x2="498.7" y2="28.8"><stop offset="0" stop-color="#00ffda"/><stop offset="0.218" stop-color="#00ff80"/><stop offset="0.737" stop-color="#00ff00"/><stop offset="1" stop-color="#3bff00"/></linearGradient>
<linearGradient id="g416" gradientUnits="userSpaceOnUse" x1="498" y1="35.7" x2="498.7" y2="29.8"><stop offset="0" stop-color="#00f1ff"/><stop offset="0.111" stop-color="#00ffff"/><stop offset="0.418" stop-color="#00ff80"/><stop offset="0.937" stop-color="#00ff00"/><stop offset="1" stop-color="#0eff00"/></linearGradient>
<linearGradient id="g417" gradientUnits="userSpaceOnUse" x1="479.9" y1="38.7" x2="480.6" y2="32.4"><stop offset="0" stop-color="#003aff"/><stop offset="0.102" stop-color="#0060ff"/><stop offset="0.481" stop-color="#00a8ff"/><stop offset="0.709" stop-color="#00d8ff"/><stop offset="0.937" stop-color="#00ffff"/><stop offset="1" stop-color="#00ffda"/></linearGradient>
<linearGradient id="g418" gradientUnits="userSpaceOnUse" x1="479.9" y1="38.7" x2="481.2" y2="31.3"><stop offset="0" stop-color="#003aff"/><stop offset="0.119" stop-color="#0060ff"/><stop offset="0.562" stop-color="#00a8ff"/><stop offset="0.827" stop-color="#00d8ff"/><stop offset="1" stop-color="#00f1ff"/></linearGradient>
<linearGradient id="g419" gradientUnits="userSpaceOnUse" x1="460.5" y1="43.2" x2="461.9" y2="35.5"><stop offset="0" stop-color="#8200cb"/><stop offset="0.107" stop-color="#8400dc"/><stop offset="0.325" stop-color="#7000ff"/><stop offset="0.544" stop-color="#3000ff"/><stop offset="0.82" stop-color="#0000ff"/><stop offset="1" stop-color="#003aff"/></linearGradient>
<linearGradient id="g420" gradientUnits="userSpaceOnUse" x1="460.5" y1="43.2" x2="462.3" y2="34.7"><stop offset="0" stop-color="#8200cb"/><stop offset="0.107" stop-color="#8400dc"/><stop offset="0.325" stop-color="#7000ff"/><stop offset="0.544" stop-color="#3000ff"/><stop offset="0.82" stop-color="#0000ff"/><stop offset="1" stop-color="#003aff"/></linearGradient>
<linearGradient id="g421" gradientUnits="userSpaceOnUse" x1="580.5" y1="22.4" x2="582.7" y2="13.8"><stop offset="0" stop-color="#ffb900"/><stop offset="0.047" stop-color="#ffb000"/><stop offset="0.313" stop-color="#ff8000"/><stop offset="0.578" stop-color="#ff5000"/><stop offset="0.844" stop-color="#ff2000"/><stop offset="1" stop-color="#ff1000"/></linearGradient>
<linearGradient id="g422" gradientUnits="userSpaceOnUse" x1="580.5" y1="22.4" x2="581.7" y2="15.9"><stop offset="0" stop-color="#ffb900"/><stop offset="0.047" stop-color="#ffb000"/><stop offset="0.313" stop-color="#ff8000"/><stop offset="0.578" stop-color="#ff5000"/><stop offset="0.844" stop-color="#ff2000"/><stop offset="1" stop-color="#ff1000"/></linearGradient>
<linearGradient id="g423" gradientUnits="userSpaceOnUse" x1="565.8" y1="25.9" x2="567.8" y2="17.5"><stop offset="0" stop-color="#fffa00"/><stop offset="0.363" stop-color="#ffe000"/><stop offset="0.894" stop-color="#ffb000"/><stop offset="1" stop-color="#ffa600"/></linearGradient>
<linearGradient id="g424" gradientUnits="userSpaceOnUse" x1="565.8" y1="25.9" x2="567.3" y2="18.5"><stop offset="0" stop-color="#fffa00"/><stop offset="0.363" stop-color="#ffe000"/><stop offset="0.894" stop-color="#ffb000"/><stop offset="1" stop-color="#ffa600"/></linearGradient>
<linearGradient id="g425" gradientUnits="userSpaceOnUse" x1="550.2" y1="29.6" x2="551.8" y2="22.1"><stop offset="0" stop-color="#ceff00"/><stop offset="0.017" stop-color="#d0ff00"/><stop offset="0.81" stop-color="#ffff00"/><stop offset="1" stop-color="#fff000"/></linearGradient>
<linearGradient id="g426" gradientUnits="userSpaceOnUse" x1="550.2" y1="29.6" x2="551.2" y2="23.5"><stop offset="0" stop-color="#ceff00"/><stop offset="0.017" stop-color="#d0ff00"/><stop offset="0.81" stop-color="#ffff00"/><stop offset="1" stop-color="#fff000"/></linearGradient>
<linearGradient id="g427" gradientUnits="userSpaceOnUse" x1="533.9" y1="33.6" x2="534.9" y2="27.2"><stop offset="0" stop-color="#0eff00"/><stop offset="0.504" stop-color="#80ff00"/><stop offset="1" stop-color="#ceff00"/></linearGradient>
<linearGradient id="g428" gradientUnits="userSpaceOnUse" x1="533.9" y1="34" x2="534.7" y2="27.8"><stop offset="0" stop-color="#00ff04"/><stop offset="0.016" stop-color="#00ff00"/><stop offset="0.54" stop-color="#80ff00"/><stop offset="1" stop-color="#ceff00"/></linearGradient>
<linearGradient id="g429" gradientUnits="userSpaceOnUse" x1="516.7" y1="37.7" x2="517.6" y2="31.3"><stop offset="0" stop-color="#00f1ff"/><stop offset="0.111" stop-color="#00ffff"/><stop offset="0.418" stop-color="#00ff80"/><stop offset="0.937" stop-color="#00ff00"/><stop offset="1" stop-color="#0eff00"/></linearGradient>
<linearGradient id="g430" gradientUnits="userSpaceOnUse" x1="516.6" y1="38.2" x2="517.6" y2="31.6"><stop offset="0" stop-color="#00e8ff"/><stop offset="0.191" stop-color="#00ffff"/><stop offset="0.498" stop-color="#00ff80"/><stop offset="1" stop-color="#00ff04"/></linearGradient>
<linearGradient id="g431" gradientUnits="userSpaceOnUse" x1="498.6" y1="42.1" x2="499.6" y2="35.2"><stop offset="0" stop-color="#003aff"/><stop offset="0.119" stop-color="#0060ff"/><stop offset="0.562" stop-color="#00a8ff"/><stop offset="0.827" stop-color="#00d8ff"/><stop offset="1" stop-color="#00f1ff"/></linearGradient>
<linearGradient id="g432" gradientUnits="userSpaceOnUse" x1="498.6" y1="42.1" x2="500.4" y2="33.4"><stop offset="0" stop-color="#003aff"/><stop offset="0.128" stop-color="#0060ff"/><stop offset="0.602" stop-color="#00a8ff"/><stop offset="0.886" stop-color="#00d8ff"/><stop offset="1" stop-color="#00e8ff"/></linearGradient>
<linearGradient id="g433" gradientUnits="userSpaceOnUse" x1="479.4" y1="46.7" x2="481.2" y2="37.9"><stop offset="0" stop-color="#8300d0"/><stop offset="0.072" stop-color="#8400dc"/><stop offset="0.284" stop-color="#7000ff"/><stop offset="0.496" stop-color="#3000ff"/><stop offset="0.763" stop-color="#0000ff"/><stop offset="1" stop-color="#004fff"/></linearGradient>
<linearGradient id="g434" gradientUnits="userSpaceOnUse" x1="479.4" y1="46.7" x2="482.6" y2="35.5"><stop offset="0" stop-color="#8300d0"/><stop offset="0.072" stop-color="#8400dc"/><stop offset="0.284" stop-color="#7000ff"/><stop offset="0.496" stop-color="#3000ff"/><stop offset="0.763" stop-color="#0000ff"/><stop offset="1" stop-color="#004fff"/></linearGradient>
<linearGradient id="g435" gradientUnits="userSpaceOnUse" x1="599.1" y1="25.1" x2="604.7" y2="12.3"><stop offset="0" stop-color="#ffa600"/><stop offset="0.148" stop-color="#ff8000"/><stop offset="0.334" stop-color="#ff5000"/><stop offset="0.519" stop-color="#ff2000"/><stop offset="0.738" stop-color="#ff0000"/><stop offset="1" stop-color="#ff0000"/></linearGradient>
<linearGradient id="g436" gradientUnits="userSpaceOnUse" x1="599.1" y1="25.1" x2="602.5" y2="14.6"><stop offset="0" stop-color="#ffa600"/><stop offset="0.148" stop-color="#ff8000"/><stop offset="0.334" stop-color="#ff5000"/><stop offset="0.519" stop-color="#ff2000"/><stop offset="0.738" stop-color="#ff0000"/><stop offset="1" stop-color="#ff0000"/></linearGradient>
<linearGradient id="g437" gradientUnits="userSpaceOnUse" x1="584.5" y1="28.8" x2="607.1" y2="12.4"><stop offset="0" stop-color="#fff000"/><stop offset="0.133" stop-color="#ffe000"/><stop offset="0.439" stop-color="#ffb000"/><stop offset="0.745" stop-color="#ff8000"/><stop offset="1" stop-color="#ff5800"/></linearGradient>
<linearGradient id="g438" gradientUnits="userSpaceOnUse" x1="584.5" y1="28.8" x2="587" y2="19.4"><stop offset="0" stop-color="#fff000"/><stop offset="0.133" stop-color="#ffe000"/><stop offset="0.439" stop-color="#ffb000"/><stop offset="0.745" stop-color="#ff8000"/><stop offset="1" stop-color="#ff5800"/></linearGradient>
<linearGradient id="g439" gradientUnits="userSpaceOnUse" x1="569.2" y1="32.6" x2="572.7" y2="21.7"><stop offset="0" stop-color="#ceff00"/><stop offset="0.013" stop-color="#d0ff00"/><stop offset="0.589" stop-color="#ffff00"/><stop offset="0.884" stop-color="#ffe000"/><stop offset="1" stop-color="#ffd100"/></linearGradient>
<linearGradient id="g440" gradientUnits="userSpaceOnUse" x1="569.2" y1="32.6" x2="570.6" y2="25.3"><stop offset="0" stop-color="#ceff00"/><stop offset="0.013" stop-color="#d0ff00"/><stop offset="0.589" stop-color="#ffff00"/><stop offset="0.884" stop-color="#ffe000"/><stop offset="1" stop-color="#ffd100"/></linearGradient>
<linearGradient id="g441" gradientUnits="userSpaceOnUse" x1="553.1" y1="36.7" x2="554.4" y2="29.4"><stop offset="0" stop-color="#00ff04"/><stop offset="0.015" stop-color="#00ff00"/><stop offset="0.503" stop-color="#80ff00"/><stop offset="0.941" stop-color="#d0ff00"/><stop offset="1" stop-color="#d6ff00"/></linearGradient>
<linearGradient id="g442" gradientUnits="userSpaceOnUse" x1="553.1" y1="36.7" x2="554.2" y2="30"><stop offset="0" stop-color="#00ff04"/><stop offset="0.015" stop-color="#00ff00"/><stop offset="0.503" stop-color="#80ff00"/><stop offset="0.941" stop-color="#d0ff00"/><stop offset="1" stop-color="#d6ff00"/></linearGradient>
<linearGradient id="g443" gradientUnits="userSpaceOnUse" x1="536" y1="41" x2="537.2" y2="34.1"><stop offset="0" stop-color="#00e8ff"/><stop offset="0.191" stop-color="#00ffff"/><stop offset="0.498" stop-color="#00ff80"/><stop offset="1" stop-color="#00ff04"/></linearGradient>
<linearGradient id="g444" gradientUnits="userSpaceOnUse" x1="536" y1="41" x2="537.3" y2="33.9"><stop offset="0" stop-color="#00e8ff"/><stop offset="0.191" stop-color="#00ffff"/><stop offset="0.498" stop-color="#00ff80"/><stop offset="1" stop-color="#00ff04"/></linearGradient>
<linearGradient id="g445" gradientUnits="userSpaceOnUse" x1="518.1" y1="45.6" x2="519.3" y2="38.2"><stop offset="0" stop-color="#004fff"/><stop offset="0.061" stop-color="#0060ff"/><stop offset="0.571" stop-color="#00a8ff"/><stop offset="0.878" stop-color="#00d8ff"/><stop offset="1" stop-color="#00e8ff"/></linearGradient>
<linearGradient id="g446" gradientUnits="userSpaceOnUse" x1="518.1" y1="45.6" x2="520.3" y2="36"><stop offset="0" stop-color="#004fff"/><stop offset="0.061" stop-color="#0060ff"/><stop offset="0.571" stop-color="#00a8ff"/><stop offset="0.878" stop-color="#00d8ff"/><stop offset="1" stop-color="#00e8ff"/></linearGradient>
<linearGradient id="g447" gradientUnits="userSpaceOnUse" x1="499" y1="50.4" x2="501.3" y2="40.7"><stop offset="0" stop-color="#7c00ea"/><stop offset="0.136" stop-color="#7000ff"/><stop offset="0.363" stop-color="#3000ff"/><stop offset="0.648" stop-color="#0000ff"/><stop offset="0.953" stop-color="#0060ff"/><stop offset="1" stop-color="#0068ff"/></linearGradient>
<linearGradient id="g448" gradientUnits="userSpaceOnUse" x1="499" y1="50.4" x2="504" y2="36.7"><stop offset="0" stop-color="#7c00ea"/><stop offset="0.136" stop-color="#7000ff"/><stop offset="0.363" stop-color="#3000ff"/><stop offset="0.648" stop-color="#0000ff"/><stop offset="0.953" stop-color="#0060ff"/><stop offset="1" stop-color="#0068ff"/></linearGradient>
<linearGradient id="cb449" x1="0" y1="0" x2="0" y2="1"><stop offset="0.000" stop-color="#500000"/><stop offset="0.043" stop-color="#700000"/><stop offset="0.097" stop-color="#a00000"/><stop offset="0.150" stop-color="#d00000"/><stop offset="0.200" stop-color="#ff0000"/><stop offset="0.350" stop-color="#ff0000"/><stop offset="0.382" stop-color="#ff2000"/><stop offset="0.409" stop-color="#ff5000"/><stop offset="0.436" stop-color="#ff8000"/><stop offset="0.463" stop-color="#ffb000"/><stop offset="0.490" stop-color="#ffe000"/><stop offset="0.512" stop-color="#ffff00"/><stop offset="0.555" stop-color="#d0ff00"/><stop offset="0.598" stop-color="#80ff00"/><stop offset="0.646" stop-color="#00ff00"/><stop offset="0.690" stop-color="#00ff80"/><stop offset="0.716" stop-color="#00ffff"/><stop offset="0.743" stop-color="#00d8ff"/><stop offset="0.770" stop-color="#00a8ff"/><stop offset="0.815" stop-color="#0060ff"/><stop offset="0.846" stop-color="#0000ff"/><stop offset="0.875" stop-color="#3000ff"/><stop offset="0.898" stop-color="#7000ff"/><stop offset="0.921" stop-color="#8400dc"/><stop offset="0.948" stop-color="#8000b4"/><stop offset="0.973" stop-color="#760090"/><stop offset="0.988" stop-color="#580066"/><stop offset="0.994" stop-color="#18001c"/><stop offset="1.000" stop-color="#100010"/></linearGradient>
<linearGradient id="cb450" x1="0" y1="0" x2="0" y2="1"><stop offset="0.000" stop-color="#500000"/><stop offset="0.043" stop-color="#700000"/><stop offset="0.097" stop-color="#a00000"/><stop offset="0.150" stop-color="#d00000"/><stop offset="0.200" stop-color="#ff0000"/><stop offset="0.350" stop-color="#ff0000"/><stop offset="0.382" stop-color="#ff2000"/><stop offset="0.409" stop-color="#ff5000"/><stop offset="0.436" stop-color="#ff8000"/><stop offset="0.463" stop-color="#ffb000"/><stop offset="0.490" stop-color="#ffe000"/><stop offset="0.512" stop-color="#ffff00"/><stop offset="0.555" stop-color="#d0ff00"/><stop offset="0.598" stop-color="#80ff00"/><stop offset="0.646" stop-color="#00ff00"/><stop offset="0.690" stop-color="#00ff80"/><stop offset="0.716" stop-color="#00ffff"/><stop offset="0.743" stop-color="#00d8ff"/><stop offset="0.770" stop-color="#00a8ff"/><stop offset="0.815" stop-color="#0060ff"/><stop offset="0.846" stop-color="#0000ff"/><stop offset="0.875" stop-color="#3000ff"/><stop offset="0.898" stop-color="#7000ff"/><stop offset="0.921" stop-color="#8400dc"/><stop offset="0.948" stop-color="#8000b4"/><stop offset="0.973" stop-color="#760090"/><stop offset="0.988" stop-color="#580066"/><stop offset="0.994" stop-color="#18001c"/><stop offset="1.000" stop-color="#100010"/></linearGradient></defs>
<rect width="685" height="331" fill="#fff"/>
<line x1="55.8" y1="217.6" x2="51.7" y2="22.7" stroke="#d4d4d4" stroke-width="0.6"/>
<line x1="90.1" y1="202.4" x2="87.7" y2="15.8" stroke="#d4d4d4" stroke-width="0.6"/>
<line x1="121.5" y1="188.5" x2="120.6" y2="9.6" stroke="#d4d4d4" stroke-width="0.6"/>
<line x1="150.3" y1="175.7" x2="150.6" y2="3.9" stroke="#d4d4d4" stroke-width="0.6"/>
<line x1="37.5" y1="225.8" x2="150.3" y2="175.7" stroke="#d4d4d4" stroke-width="0.6"/>
<line x1="36.8" y1="198.4" x2="150.4" y2="152.0" stroke="#d4d4d4" stroke-width="0.6"/>
<line x1="36.1" y1="170.7" x2="150.4" y2="128.0" stroke="#d4d4d4" stroke-width="0.6"/>
<line x1="35.3" y1="142.6" x2="150.4" y2="103.7" stroke="#d4d4d4" stroke-width="0.6"/>
<line x1="34.6" y1="114.1" x2="150.5" y2="79.2" stroke="#d4d4d4" stroke-width="0.6"/>
<line x1="33.9" y1="85.3" x2="150.5" y2="54.4" stroke="#d4d4d4" stroke-width="0.6"/>
<line x1="33.1" y1="56.0" x2="150.6" y2="29.3" stroke="#d4d4d4" stroke-width="0.6"/>
<line x1="32.4" y1="26.4" x2="150.6" y2="3.9" stroke="#d4d4d4" stroke-width="0.6"/>
<line x1="179.2" y1="185.1" x2="180.7" y2="8.1" stroke="#d4d4d4" stroke-width="0.6"/>
<line x1="209.9" y1="195.0" x2="212.8" y2="12.7" stroke="#d4d4d4" stroke-width="0.6"/>
<line x1="242.6" y1="205.6" x2="247.1" y2="17.5" stroke="#d4d4d4" stroke-width="0.6"/>
<line x1="277.6" y1="216.9" x2="283.8" y2="22.7" stroke="#d4d4d4" stroke-width="0.6"/>
<line x1="150.3" y1="175.7" x2="277.6" y2="216.9" stroke="#d4d4d4" stroke-width="0.6"/>
<line x1="150.4" y1="152.0" x2="278.4" y2="190.3" stroke="#d4d4d4" stroke-width="0.6"/>
<line x1="150.4" y1="128.0" x2="279.3" y2="163.2" stroke="#d4d4d4" stroke-width="0.6"/>
<line x1="150.4" y1="103.7" x2="280.2" y2="135.9" stroke="#d4d4d4" stroke-width="0.6"/>
<line x1="150.5" y1="79.2" x2="281.1" y2="108.1" stroke="#d4d4d4" stroke-width="0.6"/>
<line x1="150.5" y1="54.4" x2="282.0" y2="80.0" stroke="#d4d4d4" stroke-width="0.6"/>
<line x1="150.6" y1="29.3" x2="282.9" y2="51.6" stroke="#d4d4d4" stroke-width="0.6"/>
<line x1="150.6" y1="3.9" x2="283.8" y2="22.7" stroke="#d4d4d4" stroke-width="0.6"/>
<line x1="67.3" y1="238.5" x2="179.2" y2="185.1" stroke="#d4d4d4" stroke-width="0.6"/>
<line x1="99.3" y1="252.3" x2="209.9" y2="195.0" stroke="#d4d4d4" stroke-width="0.6"/>
<line x1="133.8" y1="267.1" x2="242.6" y2="205.6" stroke="#d4d4d4" stroke-width="0.6"/>
<line x1="171.1" y1="283.0" x2="277.6" y2="216.9" stroke="#d4d4d4" stroke-width="0.6"/>
<line x1="55.8" y1="217.6" x2="188.7" y2="272.1" stroke="#d4d4d4" stroke-width="0.6"/>
<line x1="90.1" y1="202.4" x2="221.4" y2="251.8" stroke="#d4d4d4" stroke-width="0.6"/>
<line x1="121.5" y1="188.5" x2="250.8" y2="233.5" stroke="#d4d4d4" stroke-width="0.6"/>
<line x1="150.3" y1="175.7" x2="277.6" y2="216.9" stroke="#d4d4d4" stroke-width="0.6"/>
<line x1="277.6" y1="216.9" x2="283.8" y2="22.7" stroke="#b8b8b8" stroke-width="0.6"/>
<line x1="150.3" y1="175.7" x2="150.6" y2="3.9" stroke="#c8c8c8" stroke-width="0.6"/>
<path class="t" d="M136.2 169.9L150.3 162.9L164.8 134.4Z" fill="url(#g1)" stroke="url(#g1)"/>
<path class="t" d="M136.2 169.9L164.8 134.4L150.6 149.9Z" fill="url(#g2)" stroke="url(#g2)"/>
<path class="t" d="M121.4 176.7L136.2 169.9L150.6 149.9Z" fill="url(#g3)" stroke="url(#g3)"/>
<path class="t" d="M121.4 176.7L150.6 149.9L135.8 166Z" fill="url(#g4)" stroke="url(#g4)"/>
<path class="t" d="M106 183.8L121.4 176.7L135.8 166Z" fill="url(#g5)" stroke="url(#g5)"/>
<path class="t" d="M106 183.8L135.8 166L120.5 181.2Z" fill="url(#g6)" stroke="url(#g6)"/>
<path class="t" d="M90 191.7L106 183.8L120.5 181.2Z" fill="url(#g7)" stroke="url(#g7)"/>
<path class="t" d="M90 191.7L120.5 181.2L104.5 193.3Z" fill="url(#g8)" stroke="url(#g8)"/>
<path class="t" d="M73.2 199.4L90 191.7L104.5 193.3Z" fill="url(#g9)" stroke="url(#g9)"/>
<path class="t" d="M73.2 199.4L104.5 193.3L87.8 203.4Z" fill="url(#g10)" stroke="url(#g10)"/>
<path class="t" d="M55.6 207.5L73.2 199.4L87.8 203.4Z" fill="url(#g11)" stroke="url(#g11)"/>
<path class="t" d="M55.6 207.5L87.8 203.4L70.2 212.2Z" fill="url(#g12)" stroke="url(#g12)"/>
<path class="t" d="M37.2 216L55.6 207.5L70.2 212.2Z" fill="url(#g13)" stroke="url(#g13)"/>
<path class="t" d="M37.2 216L70.2 212.2L51.8 221Z" fill="url(#g14)" stroke="url(#g14)"/>
<path class="t" d="M150.6 149.9L164.8 134.4L180.1 80.7Z" fill="url(#g15)" stroke="url(#g15)"/>
<path class="t" d="M150.6 149.9L180.1 80.7L165.7 100.7Z" fill="url(#g16)" stroke="url(#g16)"/>
<path class="t" d="M135.8 166L150.6 149.9L165.7 100.7Z" fill="url(#g17)" stroke="url(#g17)"/>
<path class="t" d="M135.8 166L165.7 100.7L150.9 121.6Z" fill="url(#g18)" stroke="url(#g18)"/>
<path class="t" d="M120.5 181.2L135.8 166L150.9 121.6Z" fill="url(#g19)" stroke="url(#g19)"/>
<path class="t" d="M120.5 181.2L150.9 121.6L135.4 148.5Z" fill="url(#g20)" stroke="url(#g20)"/>
<path class="t" d="M104.5 193.3L120.5 181.2L135.4 148.5Z" fill="url(#g21)" stroke="url(#g21)"/>
<path class="t" d="M104.5 193.3L135.4 148.5L119.4 176.4Z" fill="url(#g22)" stroke="url(#g22)"/>
<path class="t" d="M87.8 203.4L104.5 193.3L119.4 176.4Z" fill="url(#g23)" stroke="url(#g23)"/>
<path class="t" d="M87.8 203.4L119.4 176.4L102.7 195.5Z" fill="url(#g24)" stroke="url(#g24)"/>
<path class="t" d="M70.2 212.2L87.8 203.4L102.7 195.5Z" fill="url(#g25)" stroke="url(#g25)"/>
<path class="t" d="M70.2 212.2L102.7 195.5L85.3 209.9Z" fill="url(#g26)" stroke="url(#g26)"/>
<path class="t" d="M51.8 221L70.2 212.2L85.3 209.9Z" fill="url(#g27)" stroke="url(#g27)"/>
<path class="t" d="M51.8 221L85.3 209.9L66.9 221.6Z" fill="url(#g28)" stroke="url(#g28)"/>
<path class="t" d="M165.7 100.7L180.1 80.7L196 55.9Z" fill="url(#g29)" stroke="url(#g29)"/>
<path class="t" d="M165.7 100.7L196 55.9L181.6 69.1Z" fill="url(#g30)" stroke="url(#g30)"/>
<path class="t" d="M150.9 121.6L165.7 100.7L181.6 69.1Z" fill="url(#g31)" stroke="url(#g31)"/>
<path class="t" d="M150.9 121.6L181.6 69.1L166.7 83.3Z" fill="url(#g32)" stroke="url(#g32)"/>
<path class="t" d="M135.4 148.5L150.9 121.6L166.7 83.3Z" fill="url(#g33)" stroke="url(#g33)"/>
<path class="t" d="M135.4 148.5L166.7 83.3L151.2 98.7Z" fill="url(#g34)" stroke="url(#g34)"/>
<path class="t" d="M119.4 176.4L135.4 148.5L151.2 98.7Z" fill="url(#g35)" stroke="url(#g35)"/>
<path class="t" d="M119.4 176.4L151.2 98.7L135 137.7Z" fill="url(#g36)" stroke="url(#g36)"/>
<path class="t" d="M102.7 195.5L119.4 176.4L135 137.7Z" fill="url(#g37)" stroke="url(#g37)"/>
<path class="t" d="M102.7 195.5L135 137.7L118.2 167.8Z" fill="url(#g38)" stroke="url(#g38)"/>
<path class="t" d="M85.3 209.9L102.7 195.5L118.2 167.8Z" fill="url(#g39)" stroke="url(#g39)"/>
<path class="t" d="M85.3 209.9L118.2 167.8L100.8 195.6Z" fill="url(#g40)" stroke="url(#g40)"/>
<path class="t" d="M66.9 221.6L85.3 209.9L100.8 195.6Z" fill="url(#g41)" stroke="url(#g41)"/>
<path class="t" d="M66.9 221.6L100.8 195.6L82.6 216.5Z" fill="url(#g42)" stroke="url(#g42)"/>
<path class="t" d="M181.6 69.1L196 55.9L211.3 109.4Z" fill="url(#g43)" stroke="url(#g43)"/>
<path class="t" d="M181.6 69.1L211.3 109.4L197.2 126.9Z" fill="url(#g44)" stroke="url(#g44)"/>
<path class="t" d="M166.7 83.3L181.6 69.1L197.2 126.9Z" fill="url(#g45)" stroke="url(#g45)"/>
<path class="t" d="M166.7 83.3L197.2 126.9L182.4 148.8Z" fill="url(#g46)" stroke="url(#g46)"/>
<path class="t" d="M151.2 98.7L166.7 83.3L182.4 148.8Z" fill="url(#g47)" stroke="url(#g47)"/>
<path class="t" d="M151.2 98.7L182.4 148.8L167.2 165.1Z" fill="url(#g48)" stroke="url(#g48)"/>
<path class="t" d="M135 137.7L151.2 98.7L167.2 165.1Z" fill="url(#g49)" stroke="url(#g49)"/>
<path class="t" d="M135 137.7L167.2 165.1L151.3 181.5Z" fill="url(#g50)" stroke="url(#g50)"/>
<path class="t" d="M118.2 167.8L135 137.7L151.3 181.5Z" fill="url(#g51)" stroke="url(#g51)"/>
<path class="t" d="M118.2 167.8L151.3 181.5L134.7 197.5Z" fill="url(#g52)" stroke="url(#g52)"/>
<path class="t" d="M100.8 195.6L118.2 167.8L134.7 197.5Z" fill="url(#g53)" stroke="url(#g53)"/>
<path class="t" d="M100.8 195.6L134.7 197.5L117.3 215.5Z" fill="url(#g54)" stroke="url(#g54)"/>
<path class="t" d="M82.6 216.5L100.8 195.6L117.3 215.5Z" fill="url(#g55)" stroke="url(#g55)"/>
<path class="t" d="M82.6 216.5L117.3 215.5L99 229.5Z" fill="url(#g56)" stroke="url(#g56)"/>
<path class="t" d="M197.2 126.9L211.3 109.4L227.5 127Z" fill="url(#g57)" stroke="url(#g57)"/>
<path class="t" d="M197.2 126.9L227.5 127L213.5 144.6Z" fill="url(#g58)" stroke="url(#g58)"/>
<path class="t" d="M182.4 148.8L197.2 126.9L213.5 144.6Z" fill="url(#g59)" stroke="url(#g59)"/>
<path class="t" d="M182.4 148.8L213.5 144.6L199 160.1Z" fill="url(#g60)" stroke="url(#g60)"/>
<path class="t" d="M167.2 165.1L182.4 148.8L199 160.1Z" fill="url(#g61)" stroke="url(#g61)"/>
<path class="t" d="M167.2 165.1L199 160.1L183.9 171.9Z" fill="url(#g62)" stroke="url(#g62)"/>
<path class="t" d="M151.3 181.5L167.2 165.1L183.9 171.9Z" fill="url(#g63)" stroke="url(#g63)"/>
<path class="t" d="M151.3 181.5L183.9 171.9L168.1 188.2Z" fill="url(#g64)" stroke="url(#g64)"/>
<path class="t" d="M134.7 197.5L151.3 181.5L168.1 188.2Z" fill="url(#g65)" stroke="url(#g65)"/>
<path class="t" d="M134.7 197.5L168.1 188.2L151.5 206.4Z" fill="url(#g66)" stroke="url(#g66)"/>
<path class="t" d="M117.3 215.5L134.7 197.5L151.5 206.4Z" fill="url(#g67)" stroke="url(#g67)"/>
<path class="t" d="M117.3 215.5L151.5 206.4L134.2 226.6Z" fill="url(#g68)" stroke="url(#g68)"/>
<path class="t" d="M99 229.5L117.3 215.5L134.2 226.6Z" fill="url(#g69)" stroke="url(#g69)"/>
<path class="t" d="M99 229.5L134.2 226.6L116.1 243.5Z" fill="url(#g70)" stroke="url(#g70)"/>
<path class="t" d="M213.5 144.6L227.5 127L244.4 131.3Z" fill="url(#g71)" stroke="url(#g71)"/>
<path class="t" d="M213.5 144.6L244.4 131.3L230.5 151.9Z" fill="url(#g72)" stroke="url(#g72)"/>
<path class="t" d="M199 160.1L213.5 144.6L230.5 151.9Z" fill="url(#g73)" stroke="url(#g73)"/>
<path class="t" d="M199 160.1L230.5 151.9L216.1 167.3Z" fill="url(#g74)" stroke="url(#g74)"/>
<path class="t" d="M183.9 171.9L199 160.1L216.1 167.3Z" fill="url(#g75)" stroke="url(#g75)"/>
<path class="t" d="M183.9 171.9L216.1 167.3L201.2 178.9Z" fill="url(#g76)" stroke="url(#g76)"/>
<path class="t" d="M168.1 188.2L183.9 171.9L201.2 178.9Z" fill="url(#g77)" stroke="url(#g77)"/>
<path class="t" d="M168.1 188.2L201.2 178.9L185.4 195.7Z" fill="url(#g78)" stroke="url(#g78)"/>
<path class="t" d="M151.5 206.4L168.1 188.2L185.4 195.7Z" fill="url(#g79)" stroke="url(#g79)"/>
<path class="t" d="M151.5 206.4L185.4 195.7L169 213.8Z" fill="url(#g80)" stroke="url(#g80)"/>
<path class="t" d="M134.2 226.6L151.5 206.4L169 213.8Z" fill="url(#g81)" stroke="url(#g81)"/>
<path class="t" d="M134.2 226.6L169 213.8L151.8 233.9Z" fill="url(#g82)" stroke="url(#g82)"/>
<path class="t" d="M116.1 243.5L134.2 226.6L151.8 233.9Z" fill="url(#g83)" stroke="url(#g83)"/>
<path class="t" d="M116.1 243.5L151.8 233.9L133.7 249Z" fill="url(#g84)" stroke="url(#g84)"/>
<path class="t" d="M230.5 151.9L244.4 131.3L261.8 141.1Z" fill="url(#g85)" stroke="url(#g85)"/>
<path class="t" d="M230.5 151.9L261.8 141.1L248 159.5Z" fill="url(#g86)" stroke="url(#g86)"/>
<path class="t" d="M216.1 167.3L230.5 151.9L248 159.5Z" fill="url(#g87)" stroke="url(#g87)"/>
<path class="t" d="M216.1 167.3L248 159.5L233.8 174.8Z" fill="url(#g88)" stroke="url(#g88)"/>
<path class="t" d="M201.2 178.9L216.1 167.3L233.8 174.8Z" fill="url(#g89)" stroke="url(#g89)"/>
<path class="t" d="M201.2 178.9L233.8 174.8L219 186.8Z" fill="url(#g90)" stroke="url(#g90)"/>
<path class="t" d="M185.4 195.7L201.2 178.9L219 186.8Z" fill="url(#g91)" stroke="url(#g91)"/>
<path class="t" d="M185.4 195.7L219 186.8L203.4 204Z" fill="url(#g92)" stroke="url(#g92)"/>
<path class="t" d="M169 213.8L185.4 195.7L203.4 204Z" fill="url(#g93)" stroke="url(#g93)"/>
<path class="t" d="M169 213.8L203.4 204L187.1 222Z" fill="url(#g94)" stroke="url(#g94)"/>
<path class="t" d="M151.8 233.9L169 213.8L187.1 222Z" fill="url(#g95)" stroke="url(#g95)"/>
<path class="t" d="M151.8 233.9L187.1 222L170 240.9Z" fill="url(#g96)" stroke="url(#g96)"/>
<path class="t" d="M133.7 249L151.8 233.9L170 240.9Z" fill="url(#g97)" stroke="url(#g97)"/>
<path class="t" d="M133.7 249L170 240.9L152.1 254.6Z" fill="url(#g98)" stroke="url(#g98)"/>
<path class="t" d="M248 159.5L261.8 141.1L279.7 151.8Z" fill="url(#g99)" stroke="url(#g99)"/>
<path class="t" d="M248 159.5L279.7 151.8L266.1 169Z" fill="url(#g100)" stroke="url(#g100)"/>
<path class="t" d="M233.8 174.8L248 159.5L266.1 169Z" fill="url(#g101)" stroke="url(#g101)"/>
<path class="t" d="M233.8 174.8L266.1 169L252.1 184.2Z" fill="url(#g102)" stroke="url(#g102)"/>
<path class="t" d="M219 186.8L233.8 174.8L252.1 184.2Z" fill="url(#g103)" stroke="url(#g103)"/>
<path class="t" d="M219 186.8L252.1 184.2L237.5 197.8Z" fill="url(#g104)" stroke="url(#g104)"/>
<path class="t" d="M203.4 204L219 186.8L237.5 197.8Z" fill="url(#g105)" stroke="url(#g105)"/>
<path class="t" d="M203.4 204L237.5 197.8L222.1 214.4Z" fill="url(#g106)" stroke="url(#g106)"/>
<path class="t" d="M187.1 222L203.4 204L222.1 214.4Z" fill="url(#g107)" stroke="url(#g107)"/>
<path class="t" d="M187.1 222L222.1 214.4L206 230Z" fill="url(#g108)" stroke="url(#g108)"/>
<path class="t" d="M170 240.9L187.1 222L206 230Z" fill="url(#g109)" stroke="url(#g109)"/>
<path class="t" d="M170 240.9L206 230L189 247.6Z" fill="url(#g110)" stroke="url(#g110)"/>
<path class="t" d="M152.1 254.6L170 240.9L189 247.6Z" fill="url(#g111)" stroke="url(#g111)"/>
<path class="t" d="M152.1 254.6L189 247.6L171.2 260.5Z" fill="url(#g112)" stroke="url(#g112)"/>
<path class="t" d="M135.9 6.7L150.6 3.9L165.4 6Z" fill="url(#g113)" stroke="url(#g113)"/>
<path class="t" d="M135.9 6.7L165.4 6L150.8 8.8Z" fill="url(#g114)" stroke="url(#g114)"/>
<path class="t" d="M120.6 9.6L135.9 6.7L150.8 8.8Z" fill="url(#g115)" stroke="url(#g115)"/>
<path class="t" d="M120.6 9.6L150.8 8.8L135.6 11.9Z" fill="url(#g116)" stroke="url(#g116)"/>
<path class="t" d="M104.5 12.6L120.6 9.6L135.6 11.9Z" fill="url(#g117)" stroke="url(#g117)"/>
<path class="t" d="M104.5 12.6L135.6 11.9L119.6 15Z" fill="url(#g118)" stroke="url(#g118)"/>
<path class="t" d="M87.7 15.8L104.5 12.6L119.6 15Z" fill="url(#g119)" stroke="url(#g119)"/>
<path class="t" d="M87.7 15.8L119.6 15L102.9 18.3Z" fill="url(#g120)" stroke="url(#g120)"/>
<path class="t" d="M70.2 19.2L87.7 15.8L102.9 18.3Z" fill="url(#g121)" stroke="url(#g121)"/>
<path class="t" d="M70.2 19.2L102.9 18.3L85.4 21.8Z" fill="url(#g122)" stroke="url(#g122)"/>
<path class="t" d="M51.7 22.7L70.2 19.2L85.4 21.8Z" fill="url(#g123)" stroke="url(#g123)"/>
<path class="t" d="M51.7 22.7L85.4 21.8L67 25.4Z" fill="url(#g124)" stroke="url(#g124)"/>
<path class="t" d="M32.4 26.4L51.7 22.7L67 25.4Z" fill="url(#g125)" stroke="url(#g125)"/>
<path class="t" d="M32.4 26.4L67 25.4L47.6 29.2Z" fill="url(#g126)" stroke="url(#g126)"/>
<path class="t" d="M150.8 8.8L165.4 6L180.7 8.1Z" fill="url(#g127)" stroke="url(#g127)"/>
<path class="t" d="M150.8 8.8L180.7 8.1L166.2 11.1Z" fill="url(#g128)" stroke="url(#g128)"/>
<path class="t" d="M135.6 11.9L150.8 8.8L166.2 11.1Z" fill="url(#g129)" stroke="url(#g129)"/>
<path class="t" d="M135.6 11.9L166.2 11.1L151.1 14.2Z" fill="url(#g130)" stroke="url(#g130)"/>
<path class="t" d="M119.6 15L135.6 11.9L151.1 14.2Z" fill="url(#g131)" stroke="url(#g131)"/>
<path class="t" d="M119.6 15L151.1 14.2L135.2 17.5Z" fill="url(#g132)" stroke="url(#g132)"/>
<path class="t" d="M102.9 18.3L119.6 15L135.2 17.5Z" fill="url(#g133)" stroke="url(#g133)"/>
<path class="t" d="M102.9 18.3L135.2 17.5L118.5 20.9Z" fill="url(#g134)" stroke="url(#g134)"/>
<path class="t" d="M85.4 21.8L102.9 18.3L118.5 20.9Z" fill="url(#g135)" stroke="url(#g135)"/>
<path class="t" d="M85.4 21.8L118.5 20.9L101.1 24.5Z" fill="url(#g136)" stroke="url(#g136)"/>
<path class="t" d="M67 25.4L85.4 21.8L101.1 24.5Z" fill="url(#g137)" stroke="url(#g137)"/>
<path class="t" d="M67 25.4L101.1 24.5L82.8 28.3Z" fill="url(#g138)" stroke="url(#g138)"/>
<path class="t" d="M47.6 29.2L67 25.4L82.8 28.3Z" fill="url(#g139)" stroke="url(#g139)"/>
<path class="t" d="M47.6 29.2L82.8 28.3L63.5 32.2Z" fill="url(#g140)" stroke="url(#g140)"/>
<path class="t" d="M166.2 11.1L180.7 8.1L196.5 10.4Z" fill="url(#g141)" stroke="url(#g141)"/>
<path class="t" d="M166.2 11.1L196.5 10.4L182.1 13.4Z" fill="url(#g142)" stroke="url(#g142)"/>
<path class="t" d="M151.1 14.2L166.2 11.1L182.1 13.4Z" fill="url(#g143)" stroke="url(#g143)"/>
<path class="t" d="M151.1 14.2L182.1 13.4L167.1 16.7Z" fill="url(#g144)" stroke="url(#g144)"/>
<path class="t" d="M135.2 17.5L151.1 14.2L167.1 16.7Z" fill="url(#g145)" stroke="url(#g145)"/>
<path class="t" d="M135.2 17.5L167.1 16.7L151.3 20Z" fill="url(#g146)" stroke="url(#g146)"/>
<path class="t" d="M118.5 20.9L135.2 17.5L151.3 20Z" fill="url(#g147)" stroke="url(#g147)"/>
<path class="t" d="M118.5 20.9L151.3 20L134.8 23.6Z" fill="url(#g148)" stroke="url(#g148)"/>
<path class="t" d="M101.1 24.5L118.5 20.9L134.8 23.6Z" fill="url(#g149)" stroke="url(#g149)"/>
<path class="t" d="M101.1 24.5L134.8 23.6L117.4 27.3Z" fill="url(#g150)" stroke="url(#g150)"/>
<path class="t" d="M82.8 28.3L101.1 24.5L117.4 27.3Z" fill="url(#g151)" stroke="url(#g151)"/>
<path class="t" d="M82.8 28.3L117.4 27.3L99.1 31.2Z" fill="url(#g152)" stroke="url(#g152)"/>
<path class="t" d="M63.5 32.2L82.8 28.3L99.1 31.2Z" fill="url(#g153)" stroke="url(#g153)"/>
<path class="t" d="M63.5 32.2L99.1 31.2L79.9 35.3Z" fill="url(#g154)" stroke="url(#g154)"/>
<path class="t" d="M182.1 13.4L196.5 10.4L212.8 12.7Z" fill="url(#g155)" stroke="url(#g155)"/>
<path class="t" d="M182.1 13.4L212.8 12.7L198.6 15.9Z" fill="url(#g156)" stroke="url(#g156)"/>
<path class="t" d="M167.1 16.7L182.1 13.4L198.6 15.9Z" fill="url(#g157)" stroke="url(#g157)"/>
<path class="t" d="M167.1 16.7L198.6 15.9L183.6 19.2Z" fill="url(#g158)" stroke="url(#g158)"/>
<path class="t" d="M151.3 20L167.1 16.7L183.6 19.2Z" fill="url(#g159)" stroke="url(#g159)"/>
<path class="t" d="M151.3 20L183.6 19.2L168 22.7Z" fill="url(#g160)" stroke="url(#g160)"/>
<path class="t" d="M134.8 23.6L151.3 20L168 22.7Z" fill="url(#g161)" stroke="url(#g161)"/>
<path class="t" d="M134.8 23.6L168 22.7L151.6 26.4Z" fill="url(#g162)" stroke="url(#g162)"/>
<path class="t" d="M117.4 27.3L134.8 23.6L151.6 26.4Z" fill="url(#g163)" stroke="url(#g163)"/>
<path class="t" d="M117.4 27.3L151.6 26.4L134.3 30.2Z" fill="url(#g164)" stroke="url(#g164)"/>
<path class="t" d="M99.1 31.2L117.4 27.3L134.3 30.2Z" fill="url(#g165)" stroke="url(#g165)"/>
<path class="t" d="M99.1 31.2L134.3 30.2L116.1 34.3Z" fill="url(#g166)" stroke="url(#g166)"/>
<path class="t" d="M79.9 35.3L99.1 31.2L116.1 34.3Z" fill="url(#g167)" stroke="url(#g167)"/>
<path class="t" d="M79.9 35.3L116.1 34.3L97 38.6Z" fill="url(#g168)" stroke="url(#g168)"/>
<path class="t" d="M198.6 15.9L212.8 12.7L229.7 15Z" fill="url(#g169)" stroke="url(#g169)"/>
<path class="t" d="M198.6 15.9L229.7 15L215.6 18.3Z" fill="url(#g170)" stroke="url(#g170)"/>
<path class="t" d="M183.6 19.2L198.6 15.9L215.6 18.3Z" fill="url(#g171)" stroke="url(#g171)"/>
<path class="t" d="M183.6 19.2L215.6 18.3L200.8 21.8Z" fill="url(#g172)" stroke="url(#g172)"/>
<path class="t" d="M168 22.7L183.6 19.2L200.8 21.8Z" fill="url(#g173)" stroke="url(#g173)"/>
<path class="t" d="M168 22.7L200.8 21.8L185.3 25.4Z" fill="url(#g174)" stroke="url(#g174)"/>
<path class="t" d="M151.6 26.4L168 22.7L185.3 25.4Z" fill="url(#g175)" stroke="url(#g175)"/>
<path class="t" d="M151.6 26.4L185.3 25.4L169 29.2Z" fill="url(#g176)" stroke="url(#g176)"/>
<path class="t" d="M134.3 30.2L151.6 26.4L169 29.2Z" fill="url(#g177)" stroke="url(#g177)"/>
<path class="t" d="M134.3 30.2L169 29.2L151.9 33.3Z" fill="url(#g178)" stroke="url(#g178)"/>
<path class="t" d="M116.1 34.3L134.3 30.2L151.9 33.3Z" fill="url(#g179)" stroke="url(#g179)"/>
<path class="t" d="M116.1 34.3L151.9 33.3L133.8 37.5Z" fill="url(#g180)" stroke="url(#g180)"/>
<path class="t" d="M97 38.6L116.1 34.3L133.8 37.5Z" fill="url(#g181)" stroke="url(#g181)"/>
<path class="t" d="M97 38.6L133.8 37.5L114.8 41.9Z" fill="url(#g182)" stroke="url(#g182)"/>
<path class="t" d="M215.6 18.3L229.7 15L247.1 17.5Z" fill="url(#g183)" stroke="url(#g183)"/>
<path class="t" d="M215.6 18.3L247.1 17.5L233.2 20.9Z" fill="url(#g184)" stroke="url(#g184)"/>
<path class="t" d="M200.8 21.8L215.6 18.3L233.2 20.9Z" fill="url(#g185)" stroke="url(#g185)"/>
<path class="t" d="M200.8 21.8L233.2 20.9L218.6 24.5Z" fill="url(#g186)" stroke="url(#g186)"/>
<path class="t" d="M185.3 25.4L200.8 21.8L218.6 24.5Z" fill="url(#g187)" stroke="url(#g187)"/>
<path class="t" d="M185.3 25.4L218.6 24.5L203.2 28.3Z" fill="url(#g188)" stroke="url(#g188)"/>
<path class="t" d="M169 29.2L185.3 25.4L203.2 28.3Z" fill="url(#g189)" stroke="url(#g189)"/>
<path class="t" d="M169 29.2L203.2 28.3L187.1 32.2Z" fill="url(#g190)" stroke="url(#g190)"/>
<path class="t" d="M151.9 33.3L169 29.2L187.1 32.2Z" fill="url(#g191)" stroke="url(#g191)"/>
<path class="t" d="M151.9 33.3L187.1 32.2L170.1 36.4Z" fill="url(#g192)" stroke="url(#g192)"/>
<path class="t" d="M133.8 37.5L151.9 33.3L170.1 36.4Z" fill="url(#g193)" stroke="url(#g193)"/>
<path class="t" d="M133.8 37.5L170.1 36.4L152.2 40.8Z" fill="url(#g194)" stroke="url(#g194)"/>
<path class="t" d="M114.8 41.9L133.8 37.5L152.2 40.8Z" fill="url(#g195)" stroke="url(#g195)"/>
<path class="t" d="M114.8 41.9L152.2 40.8L133.3 45.4Z" fill="url(#g196)" stroke="url(#g196)"/>
<path class="t" d="M233.2 20.9L247.1 17.5L265.1 20.1Z" fill="url(#g197)" stroke="url(#g197)"/>
<path class="t" d="M233.2 20.9L265.1 20.1L251.4 23.6Z" fill="url(#g198)" stroke="url(#g198)"/>
<path class="t" d="M218.6 24.5L233.2 20.9L251.4 23.6Z" fill="url(#g199)" stroke="url(#g199)"/>
<path class="t" d="M218.6 24.5L251.4 23.6L237 27.3Z" fill="url(#g200)" stroke="url(#g200)"/>
<path class="t" d="M203.2 28.3L218.6 24.5L237 27.3Z" fill="url(#g201)" stroke="url(#g201)"/>
<path class="t" d="M203.2 28.3L237 27.3L221.8 31.2Z" fill="url(#g202)" stroke="url(#g202)"/>
<path class="t" d="M187.1 32.2L203.2 28.3L221.8 31.2Z" fill="url(#g203)" stroke="url(#g203)"/>
<path class="t" d="M187.1 32.2L221.8 31.2L205.9 35.3Z" fill="url(#g204)" stroke="url(#g204)"/>
<path class="t" d="M170.1 36.4L187.1 32.2L205.9 35.3Z" fill="url(#g205)" stroke="url(#g205)"/>
<path class="t" d="M170.1 36.4L205.9 35.3L189 39.7Z" fill="url(#g206)" stroke="url(#g206)"/>
<path class="t" d="M152.2 40.8L170.1 36.4L189 39.7Z" fill="url(#g207)" stroke="url(#g207)"/>
<path class="t" d="M152.2 40.8L189 39.7L171.3 44.2Z" fill="url(#g208)" stroke="url(#g208)"/>
<path class="t" d="M133.3 45.4L152.2 40.8L171.3 44.2Z" fill="url(#g209)" stroke="url(#g209)"/>
<path class="t" d="M133.3 45.4L171.3 44.2L152.5 49.1Z" fill="url(#g210)" stroke="url(#g210)"/>
<path class="t" d="M251.4 23.6L265.1 20.1L283.8 22.7Z" fill="url(#g211)" stroke="url(#g211)"/>
<path class="t" d="M251.4 23.6L283.8 22.7L270.3 26.4Z" fill="url(#g212)" stroke="url(#g212)"/>
<path class="t" d="M237 27.3L251.4 23.6L270.3 26.4Z" fill="url(#g213)" stroke="url(#g213)"/>
<path class="t" d="M237 27.3L270.3 26.4L256.1 30.2Z" fill="url(#g214)" stroke="url(#g214)"/>
<path class="t" d="M221.8 31.2L237 27.3L256.1 30.2Z" fill="url(#g215)" stroke="url(#g215)"/>
<path class="t" d="M221.8 31.2L256.1 30.2L241.1 34.3Z" fill="url(#g216)" stroke="url(#g216)"/>
<path class="t" d="M205.9 35.3L221.8 31.2L241.1 34.3Z" fill="url(#g217)" stroke="url(#g217)"/>
<path class="t" d="M205.9 35.3L241.1 34.3L225.4 38.6Z" fill="url(#g218)" stroke="url(#g218)"/>
<path class="t" d="M189 39.7L205.9 35.3L225.4 38.6Z" fill="url(#g219)" stroke="url(#g219)"/>
<path class="t" d="M189 39.7L225.4 38.6L208.8 43.1Z" fill="url(#g220)" stroke="url(#g220)"/>
<path class="t" d="M171.3 44.2L189 39.7L208.8 43.1Z" fill="url(#g221)" stroke="url(#g221)"/>
<path class="t" d="M171.3 44.2L208.8 43.1L191.2 47.8Z" fill="url(#g222)" stroke="url(#g222)"/>
<path class="t" d="M152.5 49.1L171.3 44.2L191.2 47.8Z" fill="url(#g223)" stroke="url(#g223)"/>
<path class="t" d="M152.5 49.1L191.2 47.8L172.6 52.9Z" fill="url(#g224)" stroke="url(#g224)"/>
<path d="M128.7 10.8L121.9 12.2M121.9 12.2L122.4 14.5M140.6 7.3L130.6 9.3M148 8.4L145.4 9M130.6 9.3L128.7 10.8M145.4 9L143.9 10.2M153.6 4.3L142.7 6.5M159 5.1L153.2 6.2M164.5 5.8L163.6 6M142.7 6.5L140.6 7.3M153.2 6.2L148 8.4M163.6 6L162.3 6.6M96.6 23.7L92.2 24.7M92.2 24.7L90.3 26.7M107.6 19.1L98 21.5M116.9 20.6L115.6 21M98 21.5L96.6 23.7M115.6 21L115.3 21.6M120.2 15.1L108 18.2M125.5 16L117.8 17.9M130.9 16.8L127.6 17.7M108 18.2L107.6 19.1M117.8 17.9L116.9 20.6M127.6 17.7L127.2 19.1M122.4 14.5L120.4 15M137.3 12.1L127.4 14.8M141.3 12.7L134.4 14.6M145.4 13.4L141.4 14.5M149.5 14L148.4 14.3M120.4 15L120.2 15.1M127.4 14.8L125.5 16M134.4 14.6L130.9 16.8M141.4 14.5L137.4 17M148.4 14.3L147.3 15M143.9 10.2L138.2 11.8M153.1 9.2L144.4 11.6M156.7 9.7L150.5 11.5M160.4 10.2L156.6 11.3M164 10.8L162.7 11.2M138.2 11.8L137.3 12.1M144.4 11.6L141.3 12.7M150.5 11.5L145.4 13.4M156.6 11.3L149.5 14M162.7 11.2L158.9 12.6M162.3 6.6L154.3 8.8M168.1 6.3L159.9 8.6M171.4 6.8L165.4 8.5M174.7 7.3L170.9 8.4M178.1 7.7L176.4 8.2M154.3 8.8L153.1 9.2M159.9 8.6L156.7 9.7M165.4 8.5L160.4 10.2M170.9 8.4L164 10.8M176.4 8.2L171.3 10.1M84.9 28.7L72.8 32M96.3 30.7L93.9 31.4M72.8 32L72.4 33.9M93.9 31.4L93.8 32.4M90.3 26.7L85.1 28.2M105.9 25.3L97.1 27.9M112.6 26.5L109.1 27.5M85.1 28.2L84.9 28.7M97.1 27.9L96.3 30.7M109.1 27.5L108.7 29.2M115.3 21.6L107 24.3M122.7 21.6L115.2 24.1M127.7 22.4L123.5 23.9M132.8 23.3L131.6 23.7M107 24.3L105.9 25.3M115.2 24.1L112.6 26.5M123.5 23.9L120.6 26.6M131.6 23.7L130.9 24.4M127.2 19.1L123.4 20.8M136.1 17.6L129.3 20.6M140 18.3L135.1 20.5M144 18.9L140.9 20.3M148.1 19.5L146.7 20.2M123.4 20.8L122.7 21.6M129.3 20.6L127.7 22.4M135.1 20.5L132.8 23.3M140.9 20.3L139.1 22.7M146.7 20.2L146 21.2M137.4 17L136.7 17.5M147.3 15L143.4 17.3M154.1 14.7L150.1 17.1M159.2 15.5L156.7 16.9M164.2 16.2L163.4 16.8M136.7 17.5L136.1 17.6M143.4 17.3L140 18.3M150.1 17.1L144 18.9M156.7 16.9L148.1 19.5M163.4 16.8L155.7 19.1M158.9 12.6L156 14.1M168.6 11.5L164 13.9M174.5 12.3L172 13.7M180.5 13.2L179.9 13.5M156 14.1L154.1 14.7M164 13.9L159.2 15.5M172 13.7L164.2 16.2M179.9 13.5L176.4 14.7M171.3 10.1L169.9 11M182.2 8.3L179 10.8M189.5 9.4L187.9 10.6M169.9 11L168.6 11.5M179 10.8L174.5 12.3M187.9 10.6L180.5 13.2M93.8 32.4L103.5 32M101.1 37.7L94 38M134 30.2L130.3 30.3M108.7 29.2L124.1 28.5M130.3 30.3L103.5 32M149 25.9L138.6 26.7M120.6 26.6L142.9 24.9M130.9 24.4L137 24M135.2 30L134 30.2M138.6 26.7L124.1 28.5M165.2 22.3L156.4 23M161.5 21.7L140.7 23.4M139.1 22.7L157.8 21.1M146 21.2L154.2 20.5M162 24L149 25.9M156.4 23L142.9 24.9M140.7 23.4L137 24M183.5 19.2L183.4 19.2M179.9 18.6L175 19.4M176.2 18.1L166.5 19.6M172.6 17.5L158 19.9M155.7 19.1L169 17M183.4 19.2L165.2 22.3M175 19.4L161.5 21.7M166.5 19.6L157.8 21.1M158 19.9L154.2 20.5M195.2 15.4L190.9 16M191.2 14.8L181.6 16.3M187.2 14.2L172.3 16.5M176.4 14.7L183.2 13.6M183.9 19.1L183.5 19.2M196.4 16.3L179.9 18.6M190.9 16L176.2 18.1M181.6 16.3L172.6 17.5M172.3 16.5L169 17M209 12.1L204.2 12.9M204.7 11.5L194.5 13.1M200.5 10.9L184.8 13.4M211.2 13L195.2 15.4M204.2 12.9L191.2 14.8M194.5 13.1L187.2 14.2M184.8 13.4L183.2 13.6M101.1 37.7L131.8 37.1M134.6 37.3L131.8 37.1M135.2 30L136.5 30.2M136.5 30.2L157.5 31.9M162 24L177.4 25.7M177.4 25.7L182 26.2M183.9 19.1L187.5 19.1M196.4 16.3L201.6 16.3M187.5 19.1L211.8 19.2M211.2 13L214.5 12.9M228.7 15.3L201.6 16.3M134.6 37.3L135.6 37.4M135.6 37.4L154 40.3M157.5 31.9L165.5 32.9M165.5 32.9L178 34.5M182 26.2L202.4 28.3M202.4 28.3L202.9 28.3M211.8 19.2L231 20.6M228.7 15.3L245 17.6M233.5 20.9L231 20.6M245 17.6L246.3 17.7M154 40.3L156.6 40.7M156.6 40.7L173.5 43.7M178 34.5L191.6 35.8M191.6 35.8L200.5 36.7M202.9 28.3L204.6 28.5M228.9 29.4L204.6 28.5M233.5 20.9L234.3 20.9M246.3 17.7L249.8 17.9M234.3 20.9L255 22.7M173.5 43.7L176.4 44.1M176.4 44.1L192.4 47.5M200.5 36.7L220.3 37.7M227.5 38L220.3 37.7M228.9 29.4L248.6 29.1M258.9 29.5L248.6 29.1M255 22.7L267.9 23.1M267.9 23.1L280 23.7" fill="none" stroke="#333" stroke-width="0.45" stroke-opacity="0.55"/>
<line x1="37.5" y1="225.8" x2="32.4" y2="26.4" stroke="#555" stroke-width="1.0"/>
<line x1="37.5" y1="225.8" x2="171.1" y2="283.0" stroke="#3a3a3a" stroke-width="1.0"/>
<line x1="171.1" y1="283.0" x2="277.6" y2="216.9" stroke="#3a3a3a" stroke-width="1.0"/>
<line x1="37.5" y1="225.8" x2="34.9" y2="225.8" stroke="#444" stroke-width="0.9"/>
<text transform="translate(31.5 227.6) scale(0.7 1)" class="zt">10</text>
<line x1="36.8" y1="198.4" x2="34.2" y2="198.4" stroke="#444" stroke-width="0.9"/>
<text transform="translate(30.8 200.2) scale(0.7 1)" class="zt">15</text>
<line x1="36.1" y1="170.7" x2="33.5" y2="170.7" stroke="#444" stroke-width="0.9"/>
<text transform="translate(30.1 172.5) scale(0.7 1)" class="zt">20</text>
<line x1="35.3" y1="142.6" x2="32.7" y2="142.6" stroke="#444" stroke-width="0.9"/>
<text transform="translate(29.3 144.4) scale(0.7 1)" class="zt">25</text>
<line x1="34.6" y1="114.1" x2="32.0" y2="114.1" stroke="#444" stroke-width="0.9"/>
<text transform="translate(28.6 115.9) scale(0.7 1)" class="zt">30</text>
<line x1="33.9" y1="85.3" x2="31.3" y2="85.3" stroke="#444" stroke-width="0.9"/>
<text transform="translate(27.9 87.1) scale(0.7 1)" class="zt">35</text>
<line x1="33.1" y1="56.0" x2="30.5" y2="56.0" stroke="#444" stroke-width="0.9"/>
<text transform="translate(27.1 57.8) scale(0.7 1)" class="zt">40</text>
<line x1="32.4" y1="26.4" x2="29.8" y2="26.4" stroke="#444" stroke-width="0.9"/>
<text transform="translate(26.4 28.2) scale(0.7 1)" class="zt">45</text>
<line x1="37.5" y1="225.8" x2="36.5" y2="228.2" stroke="#3a3a3a" stroke-width="0.9"/>
<text transform="translate(35.5 233.0) matrix(1.0 -0.48 0.45 0.62 0 0)" class="tl">0.<tspan dx="1.2">1</tspan></text>
<line x1="52.1" y1="232.0" x2="51.4" y2="233.6" stroke="#3a3a3a" stroke-width="0.7"/>
<line x1="67.3" y1="238.5" x2="66.3" y2="240.9" stroke="#3a3a3a" stroke-width="0.9"/>
<text transform="translate(65.3 245.7) matrix(1.0 -0.48 0.45 0.62 0 0)" class="tl">0.<tspan dx="1.2">2</tspan></text>
<line x1="83.0" y1="245.3" x2="82.3" y2="246.9" stroke="#3a3a3a" stroke-width="0.7"/>
<line x1="99.3" y1="252.3" x2="98.3" y2="254.7" stroke="#3a3a3a" stroke-width="0.9"/>
<text transform="translate(97.3 259.5) matrix(1.0 -0.48 0.45 0.62 0 0)" class="tl">0.<tspan dx="1.2">3</tspan></text>
<line x1="116.2" y1="259.5" x2="115.5" y2="261.1" stroke="#3a3a3a" stroke-width="0.7"/>
<line x1="133.8" y1="267.1" x2="132.8" y2="269.5" stroke="#3a3a3a" stroke-width="0.9"/>
<text transform="translate(131.8 274.3) matrix(1.0 -0.48 0.45 0.62 0 0)" class="tl">0.<tspan dx="1.2">4</tspan></text>
<line x1="152.1" y1="274.9" x2="151.4" y2="276.5" stroke="#3a3a3a" stroke-width="0.7"/>
<line x1="171.1" y1="283.0" x2="170.1" y2="285.4" stroke="#3a3a3a" stroke-width="0.9"/>
<text transform="translate(169.1 290.2) matrix(1.0 -0.48 0.45 0.62 0 0)" class="tl">0.<tspan dx="1.2">5</tspan></text>
<line x1="171.1" y1="283.0" x2="172.6" y2="283.8" stroke="#3a3a3a" stroke-width="0.7"/>
<line x1="188.7" y1="272.1" x2="191.1" y2="273.3" stroke="#3a3a3a" stroke-width="0.9"/>
<text transform="translate(197.7 278.1) matrix(0.94 0.34 -0.5 0.32 0 0)" class="tl">0.<tspan dx="1.2">2</tspan></text>
<line x1="205.5" y1="261.7" x2="207.0" y2="262.5" stroke="#3a3a3a" stroke-width="0.7"/>
<line x1="221.4" y1="251.8" x2="223.8" y2="253.0" stroke="#3a3a3a" stroke-width="0.9"/>
<text transform="translate(230.4 257.8) matrix(0.94 0.34 -0.5 0.32 0 0)" class="tl">0.<tspan dx="1.2">4</tspan></text>
<line x1="236.5" y1="242.5" x2="238.0" y2="243.3" stroke="#3a3a3a" stroke-width="0.7"/>
<line x1="250.8" y1="233.5" x2="253.2" y2="234.7" stroke="#3a3a3a" stroke-width="0.9"/>
<text transform="translate(259.8 239.5) matrix(0.94 0.34 -0.5 0.32 0 0)" class="tl">0.<tspan dx="1.2">6</tspan></text>
<line x1="264.5" y1="225.0" x2="266.0" y2="225.8" stroke="#3a3a3a" stroke-width="0.7"/>
<line x1="277.6" y1="216.9" x2="280.0" y2="218.1" stroke="#3a3a3a" stroke-width="0.9"/>
<text transform="translate(286.6 222.9) matrix(0.94 0.34 -0.5 0.32 0 0)" class="tl">0.<tspan dx="1.2">8</tspan></text>
<line x1="401.7" y1="215.6" x2="396.5" y2="23.7" stroke="#d4d4d4" stroke-width="0.6"/>
<line x1="436.1" y1="200.6" x2="433.0" y2="17.0" stroke="#d4d4d4" stroke-width="0.6"/>
<line x1="467.5" y1="186.9" x2="466.2" y2="10.8" stroke="#d4d4d4" stroke-width="0.6"/>
<line x1="496.4" y1="174.3" x2="496.5" y2="5.2" stroke="#d4d4d4" stroke-width="0.6"/>
<line x1="383.3" y1="223.6" x2="496.4" y2="174.3" stroke="#d4d4d4" stroke-width="0.6"/>
<line x1="382.6" y1="202.9" x2="496.4" y2="156.3" stroke="#d4d4d4" stroke-width="0.6"/>
<line x1="381.9" y1="181.9" x2="496.4" y2="138.1" stroke="#d4d4d4" stroke-width="0.6"/>
<line x1="381.2" y1="160.6" x2="496.4" y2="119.7" stroke="#d4d4d4" stroke-width="0.6"/>
<line x1="380.5" y1="139.1" x2="496.4" y2="101.2" stroke="#d4d4d4" stroke-width="0.6"/>
<line x1="379.8" y1="117.3" x2="496.5" y2="82.4" stroke="#d4d4d4" stroke-width="0.6"/>
<line x1="379.1" y1="95.3" x2="496.5" y2="63.4" stroke="#d4d4d4" stroke-width="0.6"/>
<line x1="378.4" y1="72.9" x2="496.5" y2="44.2" stroke="#d4d4d4" stroke-width="0.6"/>
<line x1="377.6" y1="50.3" x2="496.5" y2="24.8" stroke="#d4d4d4" stroke-width="0.6"/>
<line x1="376.9" y1="27.4" x2="496.5" y2="5.2" stroke="#d4d4d4" stroke-width="0.6"/>
<line x1="525.4" y1="183.7" x2="527.1" y2="9.5" stroke="#d4d4d4" stroke-width="0.6"/>
<line x1="556.3" y1="193.6" x2="559.7" y2="14.1" stroke="#d4d4d4" stroke-width="0.6"/>
<line x1="589.3" y1="204.2" x2="594.6" y2="19.0" stroke="#d4d4d4" stroke-width="0.6"/>
<line x1="624.5" y1="215.6" x2="632.0" y2="24.2" stroke="#d4d4d4" stroke-width="0.6"/>
<line x1="496.4" y1="174.3" x2="624.5" y2="215.6" stroke="#d4d4d4" stroke-width="0.6"/>
<line x1="496.4" y1="156.3" x2="625.3" y2="195.3" stroke="#d4d4d4" stroke-width="0.6"/>
<line x1="496.4" y1="138.1" x2="626.1" y2="174.9" stroke="#d4d4d4" stroke-width="0.6"/>
<line x1="496.4" y1="119.7" x2="626.9" y2="154.1" stroke="#d4d4d4" stroke-width="0.6"/>
<line x1="496.4" y1="101.2" x2="627.7" y2="133.1" stroke="#d4d4d4" stroke-width="0.6"/>
<line x1="496.5" y1="82.4" x2="628.6" y2="111.9" stroke="#d4d4d4" stroke-width="0.6"/>
<line x1="496.5" y1="63.4" x2="629.4" y2="90.4" stroke="#d4d4d4" stroke-width="0.6"/>
<line x1="496.5" y1="44.2" x2="630.2" y2="68.6" stroke="#d4d4d4" stroke-width="0.6"/>
<line x1="496.5" y1="24.8" x2="631.1" y2="46.6" stroke="#d4d4d4" stroke-width="0.6"/>
<line x1="496.5" y1="5.2" x2="632.0" y2="24.2" stroke="#d4d4d4" stroke-width="0.6"/>
<line x1="413.2" y1="236.4" x2="525.4" y2="183.7" stroke="#d4d4d4" stroke-width="0.6"/>
<line x1="445.5" y1="250.1" x2="556.3" y2="193.6" stroke="#d4d4d4" stroke-width="0.6"/>
<line x1="480.2" y1="264.9" x2="589.3" y2="204.2" stroke="#d4d4d4" stroke-width="0.6"/>
<line x1="517.8" y1="281.0" x2="624.5" y2="215.6" stroke="#d4d4d4" stroke-width="0.6"/>
<line x1="401.7" y1="215.6" x2="535.5" y2="270.1" stroke="#d4d4d4" stroke-width="0.6"/>
<line x1="436.1" y1="200.6" x2="568.2" y2="250.1" stroke="#d4d4d4" stroke-width="0.6"/>
<line x1="467.5" y1="186.9" x2="597.7" y2="232.0" stroke="#d4d4d4" stroke-width="0.6"/>
<line x1="496.4" y1="174.3" x2="624.5" y2="215.6" stroke="#d4d4d4" stroke-width="0.6"/>
<line x1="624.5" y1="215.6" x2="632.0" y2="24.2" stroke="#b8b8b8" stroke-width="0.6"/>
<line x1="496.4" y1="174.3" x2="496.5" y2="5.2" stroke="#c8c8c8" stroke-width="0.6"/>
<path class="t" d="M482.2 157.7L496.4 150.9L511.1 97.1Z" fill="url(#g225)" stroke="url(#g225)"/>
<path class="t" d="M482.2 157.7L511.1 97.1L496.7 115.4Z" fill="url(#g226)" stroke="url(#g226)"/>
<path class="t" d="M467.3 164.8L482.2 157.7L496.7 115.4Z" fill="url(#g227)" stroke="url(#g227)"/>
<path class="t" d="M467.3 164.8L496.7 115.4L481.8 134.3Z" fill="url(#g228)" stroke="url(#g228)"/>
<path class="t" d="M451.9 172.2L467.3 164.8L481.8 134.3Z" fill="url(#g229)" stroke="url(#g229)"/>
<path class="t" d="M451.9 172.2L481.8 134.3L466.3 155.9Z" fill="url(#g230)" stroke="url(#g230)"/>
<path class="t" d="M435.7 180L451.9 172.2L466.3 155.9Z" fill="url(#g231)" stroke="url(#g231)"/>
<path class="t" d="M435.7 180L466.3 155.9L450.3 174.3Z" fill="url(#g232)" stroke="url(#g232)"/>
<path class="t" d="M418.8 188.4L435.7 180L450.3 174.3Z" fill="url(#g233)" stroke="url(#g233)"/>
<path class="t" d="M418.8 188.4L450.3 174.3L433.5 187.3Z" fill="url(#g234)" stroke="url(#g234)"/>
<path class="t" d="M401.2 197.7L418.8 188.4L433.5 187.3Z" fill="url(#g235)" stroke="url(#g235)"/>
<path class="t" d="M401.2 197.7L433.5 187.3L415.9 198.9Z" fill="url(#g236)" stroke="url(#g236)"/>
<path class="t" d="M382.7 207.4L401.2 197.7L415.9 198.9Z" fill="url(#g237)" stroke="url(#g237)"/>
<path class="t" d="M382.7 207.4L415.9 198.9L397.4 209.6Z" fill="url(#g238)" stroke="url(#g238)"/>
<path class="t" d="M496.7 115.4L511.1 97.1L526.6 58Z" fill="url(#g239)" stroke="url(#g239)"/>
<path class="t" d="M496.7 115.4L526.6 58L512.1 73.7Z" fill="url(#g240)" stroke="url(#g240)"/>
<path class="t" d="M481.8 134.3L496.7 115.4L512.1 73.7Z" fill="url(#g241)" stroke="url(#g241)"/>
<path class="t" d="M481.8 134.3L512.1 73.7L497 92.4Z" fill="url(#g242)" stroke="url(#g242)"/>
<path class="t" d="M466.3 155.9L481.8 134.3L497 92.4Z" fill="url(#g243)" stroke="url(#g243)"/>
<path class="t" d="M466.3 155.9L497 92.4L481.3 107.8Z" fill="url(#g244)" stroke="url(#g244)"/>
<path class="t" d="M450.3 174.3L466.3 155.9L481.3 107.8Z" fill="url(#g245)" stroke="url(#g245)"/>
<path class="t" d="M450.3 174.3L481.3 107.8L465.2 144.6Z" fill="url(#g246)" stroke="url(#g246)"/>
<path class="t" d="M433.5 187.3L450.3 174.3L465.2 144.6Z" fill="url(#g247)" stroke="url(#g247)"/>
<path class="t" d="M433.5 187.3L465.2 144.6L448.4 169.9Z" fill="url(#g248)" stroke="url(#g248)"/>
<path class="t" d="M415.9 198.9L433.5 187.3L448.4 169.9Z" fill="url(#g249)" stroke="url(#g249)"/>
<path class="t" d="M415.9 198.9L448.4 169.9L430.9 189.9Z" fill="url(#g250)" stroke="url(#g250)"/>
<path class="t" d="M397.4 209.6L415.9 198.9L430.9 189.9Z" fill="url(#g251)" stroke="url(#g251)"/>
<path class="t" d="M397.4 209.6L430.9 189.9L412.5 205.9Z" fill="url(#g252)" stroke="url(#g252)"/>
<path class="t" d="M512.1 73.7L526.6 58L542.3 67.5Z" fill="url(#g253)" stroke="url(#g253)"/>
<path class="t" d="M512.1 73.7L542.3 67.5L527.9 79.1Z" fill="url(#g254)" stroke="url(#g254)"/>
<path class="t" d="M497 92.4L512.1 73.7L527.9 79.1Z" fill="url(#g255)" stroke="url(#g255)"/>
<path class="t" d="M497 92.4L527.9 79.1L512.9 92Z" fill="url(#g256)" stroke="url(#g256)"/>
<path class="t" d="M481.3 107.8L497 92.4L512.9 92Z" fill="url(#g257)" stroke="url(#g257)"/>
<path class="t" d="M481.3 107.8L512.9 92L497.3 105.5Z" fill="url(#g258)" stroke="url(#g258)"/>
<path class="t" d="M465.2 144.6L481.3 107.8L497.3 105.5Z" fill="url(#g259)" stroke="url(#g259)"/>
<path class="t" d="M465.2 144.6L497.3 105.5L481 117.4Z" fill="url(#g260)" stroke="url(#g260)"/>
<path class="t" d="M448.4 169.9L465.2 144.6L481 117.4Z" fill="url(#g261)" stroke="url(#g261)"/>
<path class="t" d="M448.4 169.9L481 117.4L464 136.4Z" fill="url(#g262)" stroke="url(#g262)"/>
<path class="t" d="M430.9 189.9L448.4 169.9L464 136.4Z" fill="url(#g263)" stroke="url(#g263)"/>
<path class="t" d="M430.9 189.9L464 136.4L446.4 165.1Z" fill="url(#g264)" stroke="url(#g264)"/>
<path class="t" d="M412.5 205.9L430.9 189.9L446.4 165.1Z" fill="url(#g265)" stroke="url(#g265)"/>
<path class="t" d="M412.5 205.9L446.4 165.1L428.1 194.8Z" fill="url(#g266)" stroke="url(#g266)"/>
<path class="t" d="M527.9 79.1L542.3 67.5L558.3 86.1Z" fill="url(#g267)" stroke="url(#g267)"/>
<path class="t" d="M527.9 79.1L558.3 86.1L543.9 113.4Z" fill="url(#g268)" stroke="url(#g268)"/>
<path class="t" d="M512.9 92L527.9 79.1L543.9 113.4Z" fill="url(#g269)" stroke="url(#g269)"/>
<path class="t" d="M512.9 92L543.9 113.4L529.1 127.1Z" fill="url(#g270)" stroke="url(#g270)"/>
<path class="t" d="M497.3 105.5L512.9 92L529.1 127.1Z" fill="url(#g271)" stroke="url(#g271)"/>
<path class="t" d="M497.3 105.5L529.1 127.1L513.7 135.1Z" fill="url(#g272)" stroke="url(#g272)"/>
<path class="t" d="M481 117.4L497.3 105.5L513.7 135.1Z" fill="url(#g273)" stroke="url(#g273)"/>
<path class="t" d="M481 117.4L513.7 135.1L497.6 152.1Z" fill="url(#g274)" stroke="url(#g274)"/>
<path class="t" d="M464 136.4L481 117.4L497.6 152.1Z" fill="url(#g275)" stroke="url(#g275)"/>
<path class="t" d="M464 136.4L497.6 152.1L480.8 169.9Z" fill="url(#g276)" stroke="url(#g276)"/>
<path class="t" d="M446.4 165.1L464 136.4L480.8 169.9Z" fill="url(#g277)" stroke="url(#g277)"/>
<path class="t" d="M446.4 165.1L480.8 169.9L463.3 192.9Z" fill="url(#g278)" stroke="url(#g278)"/>
<path class="t" d="M428.1 194.8L446.4 165.1L463.3 192.9Z" fill="url(#g279)" stroke="url(#g279)"/>
<path class="t" d="M428.1 194.8L463.3 192.9L445 215.4Z" fill="url(#g280)" stroke="url(#g280)"/>
<path class="t" d="M543.9 113.4L558.3 86.1L574.6 112.5Z" fill="url(#g281)" stroke="url(#g281)"/>
<path class="t" d="M543.9 113.4L574.6 112.5L560.5 126.1Z" fill="url(#g282)" stroke="url(#g282)"/>
<path class="t" d="M529.1 127.1L543.9 113.4L560.5 126.1Z" fill="url(#g283)" stroke="url(#g283)"/>
<path class="t" d="M529.1 127.1L560.5 126.1L545.9 136.6Z" fill="url(#g284)" stroke="url(#g284)"/>
<path class="t" d="M513.7 135.1L529.1 127.1L545.9 136.6Z" fill="url(#g285)" stroke="url(#g285)"/>
<path class="t" d="M513.7 135.1L545.9 136.6L530.7 148.4Z" fill="url(#g286)" stroke="url(#g286)"/>
<path class="t" d="M497.6 152.1L513.7 135.1L530.7 148.4Z" fill="url(#g287)" stroke="url(#g287)"/>
<path class="t" d="M497.6 152.1L530.7 148.4L514.6 165.9Z" fill="url(#g288)" stroke="url(#g288)"/>
<path class="t" d="M480.8 169.9L497.6 152.1L514.6 165.9Z" fill="url(#g289)" stroke="url(#g289)"/>
<path class="t" d="M480.8 169.9L514.6 165.9L497.9 184.3Z" fill="url(#g290)" stroke="url(#g290)"/>
<path class="t" d="M463.3 192.9L480.8 169.9L497.9 184.3Z" fill="url(#g291)" stroke="url(#g291)"/>
<path class="t" d="M463.3 192.9L497.9 184.3L480.5 207.9Z" fill="url(#g292)" stroke="url(#g292)"/>
<path class="t" d="M445 215.4L463.3 192.9L480.5 207.9Z" fill="url(#g293)" stroke="url(#g293)"/>
<path class="t" d="M445 215.4L480.5 207.9L462.3 230.8Z" fill="url(#g294)" stroke="url(#g294)"/>
<path class="t" d="M560.5 126.1L574.6 112.5L591.8 116.5Z" fill="url(#g295)" stroke="url(#g295)"/>
<path class="t" d="M560.5 126.1L591.8 116.5L577.8 131.8Z" fill="url(#g296)" stroke="url(#g296)"/>
<path class="t" d="M545.9 136.6L560.5 126.1L577.8 131.8Z" fill="url(#g297)" stroke="url(#g297)"/>
<path class="t" d="M545.9 136.6L577.8 131.8L563.4 143Z" fill="url(#g298)" stroke="url(#g298)"/>
<path class="t" d="M530.7 148.4L545.9 136.6L563.4 143Z" fill="url(#g299)" stroke="url(#g299)"/>
<path class="t" d="M530.7 148.4L563.4 143L548.2 155.5Z" fill="url(#g300)" stroke="url(#g300)"/>
<path class="t" d="M514.6 165.9L530.7 148.4L548.2 155.5Z" fill="url(#g301)" stroke="url(#g301)"/>
<path class="t" d="M514.6 165.9L548.2 155.5L532.3 173.6Z" fill="url(#g302)" stroke="url(#g302)"/>
<path class="t" d="M497.9 184.3L514.6 165.9L532.3 173.6Z" fill="url(#g303)" stroke="url(#g303)"/>
<path class="t" d="M497.9 184.3L532.3 173.6L515.7 192.4Z" fill="url(#g304)" stroke="url(#g304)"/>
<path class="t" d="M480.5 207.9L497.9 184.3L515.7 192.4Z" fill="url(#g305)" stroke="url(#g305)"/>
<path class="t" d="M480.5 207.9L515.7 192.4L498.3 214.4Z" fill="url(#g306)" stroke="url(#g306)"/>
<path class="t" d="M462.3 230.8L480.5 207.9L498.3 214.4Z" fill="url(#g307)" stroke="url(#g307)"/>
<path class="t" d="M462.3 230.8L498.3 214.4L480.1 237.4Z" fill="url(#g308)" stroke="url(#g308)"/>
<path class="t" d="M577.8 131.8L591.8 116.5L609.7 117.8Z" fill="url(#g309)" stroke="url(#g309)"/>
<path class="t" d="M577.8 131.8L609.7 117.8L595.8 135.1Z" fill="url(#g310)" stroke="url(#g310)"/>
<path class="t" d="M563.4 143L577.8 131.8L595.8 135.1Z" fill="url(#g311)" stroke="url(#g311)"/>
<path class="t" d="M563.4 143L595.8 135.1L581.5 147Z" fill="url(#g312)" stroke="url(#g312)"/>
<path class="t" d="M548.2 155.5L563.4 143L581.5 147Z" fill="url(#g313)" stroke="url(#g313)"/>
<path class="t" d="M548.2 155.5L581.5 147L566.5 160.8Z" fill="url(#g314)" stroke="url(#g314)"/>
<path class="t" d="M532.3 173.6L548.2 155.5L566.5 160.8Z" fill="url(#g315)" stroke="url(#g315)"/>
<path class="t" d="M532.3 173.6L566.5 160.8L550.6 180.2Z" fill="url(#g316)" stroke="url(#g316)"/>
<path class="t" d="M515.7 192.4L532.3 173.6L550.6 180.2Z" fill="url(#g317)" stroke="url(#g317)"/>
<path class="t" d="M515.7 192.4L550.6 180.2L534.1 199.5Z" fill="url(#g318)" stroke="url(#g318)"/>
<path class="t" d="M498.3 214.4L515.7 192.4L534.1 199.5Z" fill="url(#g319)" stroke="url(#g319)"/>
<path class="t" d="M498.3 214.4L534.1 199.5L516.8 220.2Z" fill="url(#g320)" stroke="url(#g320)"/>
<path class="t" d="M480.1 237.4L498.3 214.4L516.8 220.2Z" fill="url(#g321)" stroke="url(#g321)"/>
<path class="t" d="M480.1 237.4L516.8 220.2L498.7 242.4Z" fill="url(#g322)" stroke="url(#g322)"/>
<path class="t" d="M595.8 135.1L609.7 117.8L628.4 115.3Z" fill="url(#g323)" stroke="url(#g323)"/>
<path class="t" d="M595.8 135.1L628.4 115.3L614.6 134.1Z" fill="url(#g324)" stroke="url(#g324)"/>
<path class="t" d="M581.5 147L595.8 135.1L614.6 134.1Z" fill="url(#g325)" stroke="url(#g325)"/>
<path class="t" d="M581.5 147L614.6 134.1L600.3 149.4Z" fill="url(#g326)" stroke="url(#g326)"/>
<path class="t" d="M566.5 160.8L581.5 147L600.3 149.4Z" fill="url(#g327)" stroke="url(#g327)"/>
<path class="t" d="M566.5 160.8L600.3 149.4L585.4 165.3Z" fill="url(#g328)" stroke="url(#g328)"/>
<path class="t" d="M550.6 180.2L566.5 160.8L585.4 165.3Z" fill="url(#g329)" stroke="url(#g329)"/>
<path class="t" d="M550.6 180.2L585.4 165.3L569.7 186.1Z" fill="url(#g330)" stroke="url(#g330)"/>
<path class="t" d="M534.1 199.5L550.6 180.2L569.7 186.1Z" fill="url(#g331)" stroke="url(#g331)"/>
<path class="t" d="M534.1 199.5L569.7 186.1L553.3 205.9Z" fill="url(#g332)" stroke="url(#g332)"/>
<path class="t" d="M516.8 220.2L534.1 199.5L553.3 205.9Z" fill="url(#g333)" stroke="url(#g333)"/>
<path class="t" d="M516.8 220.2L553.3 205.9L536.1 225.8Z" fill="url(#g334)" stroke="url(#g334)"/>
<path class="t" d="M498.7 242.4L516.8 220.2L536.1 225.8Z" fill="url(#g335)" stroke="url(#g335)"/>
<path class="t" d="M498.7 242.4L536.1 225.8L518.1 246.7Z" fill="url(#g336)" stroke="url(#g336)"/>
<path class="t" d="M481.7 7.9L496.5 5.2L511.6 7.3Z" fill="url(#g337)" stroke="url(#g337)"/>
<path class="t" d="M481.7 7.9L511.6 7.3L496.8 10.1Z" fill="url(#g338)" stroke="url(#g338)"/>
<path class="t" d="M466.2 10.8L481.7 7.9L496.8 10.1Z" fill="url(#g339)" stroke="url(#g339)"/>
<path class="t" d="M466.2 10.8L496.8 10.1L481.4 13.1Z" fill="url(#g340)" stroke="url(#g340)"/>
<path class="t" d="M450 13.8L466.2 10.8L481.4 13.1Z" fill="url(#g341)" stroke="url(#g341)"/>
<path class="t" d="M450 13.8L481.4 13.1L465.2 16.2Z" fill="url(#g342)" stroke="url(#g342)"/>
<path class="t" d="M433 17L450 13.8L465.2 16.2Z" fill="url(#g343)" stroke="url(#g343)"/>
<path class="t" d="M433 17L465.2 16.2L448.3 19.5Z" fill="url(#g344)" stroke="url(#g344)"/>
<path class="t" d="M415.2 20.3L433 17L448.3 19.5Z" fill="url(#g345)" stroke="url(#g345)"/>
<path class="t" d="M415.2 20.3L448.3 19.5L430.6 22.9Z" fill="url(#g346)" stroke="url(#g346)"/>
<path class="t" d="M396.5 23.7L415.2 20.3L430.6 22.9Z" fill="url(#g347)" stroke="url(#g347)"/>
<path class="t" d="M396.5 23.7L430.6 22.9L411.9 26.5Z" fill="url(#g348)" stroke="url(#g348)"/>
<path class="t" d="M376.9 27.4L396.5 23.7L411.9 26.5Z" fill="url(#g349)" stroke="url(#g349)"/>
<path class="t" d="M376.9 27.4L411.9 26.5L392.3 30.3Z" fill="url(#g350)" stroke="url(#g350)"/>
<path class="t" d="M496.8 10.1L511.6 7.3L527.1 9.5Z" fill="url(#g351)" stroke="url(#g351)"/>
<path class="t" d="M496.8 10.1L527.1 9.5L512.4 12.4Z" fill="url(#g352)" stroke="url(#g352)"/>
<path class="t" d="M481.4 13.1L496.8 10.1L512.4 12.4Z" fill="url(#g353)" stroke="url(#g353)"/>
<path class="t" d="M481.4 13.1L512.4 12.4L497.1 15.5Z" fill="url(#g354)" stroke="url(#g354)"/>
<path class="t" d="M465.2 16.2L481.4 13.1L497.1 15.5Z" fill="url(#g355)" stroke="url(#g355)"/>
<path class="t" d="M465.2 16.2L497.1 15.5L481.1 18.7Z" fill="url(#g356)" stroke="url(#g356)"/>
<path class="t" d="M448.3 19.5L465.2 16.2L481.1 18.7Z" fill="url(#g357)" stroke="url(#g357)"/>
<path class="t" d="M448.3 19.5L481.1 18.7L464.2 22.1Z" fill="url(#g358)" stroke="url(#g358)"/>
<path class="t" d="M430.6 22.9L448.3 19.5L464.2 22.1Z" fill="url(#g359)" stroke="url(#g359)"/>
<path class="t" d="M430.6 22.9L464.2 22.1L446.5 25.7Z" fill="url(#g360)" stroke="url(#g360)"/>
<path class="t" d="M411.9 26.5L430.6 22.9L446.5 25.7Z" fill="url(#g361)" stroke="url(#g361)"/>
<path class="t" d="M411.9 26.5L446.5 25.7L428 29.4Z" fill="url(#g362)" stroke="url(#g362)"/>
<path class="t" d="M392.3 30.3L411.9 26.5L428 29.4Z" fill="url(#g363)" stroke="url(#g363)"/>
<path class="t" d="M392.3 30.3L428 29.4L408.4 33.3Z" fill="url(#g364)" stroke="url(#g364)"/>
<path class="t" d="M512.4 12.4L527.1 9.5L543.1 11.7Z" fill="url(#g365)" stroke="url(#g365)"/>
<path class="t" d="M512.4 12.4L543.1 11.7L528.6 14.8Z" fill="url(#g366)" stroke="url(#g366)"/>
<path class="t" d="M497.1 15.5L512.4 12.4L528.6 14.8Z" fill="url(#g367)" stroke="url(#g367)"/>
<path class="t" d="M497.1 15.5L528.6 14.8L513.4 18Z" fill="url(#g368)" stroke="url(#g368)"/>
<path class="t" d="M481.1 18.7L497.1 15.5L513.4 18Z" fill="url(#g369)" stroke="url(#g369)"/>
<path class="t" d="M481.1 18.7L513.4 18L497.4 21.3Z" fill="url(#g370)" stroke="url(#g370)"/>
<path class="t" d="M464.2 22.1L481.1 18.7L497.4 21.3Z" fill="url(#g371)" stroke="url(#g371)"/>
<path class="t" d="M464.2 22.1L497.4 21.3L480.7 24.8Z" fill="url(#g372)" stroke="url(#g372)"/>
<path class="t" d="M446.5 25.7L464.2 22.1L480.7 24.8Z" fill="url(#g373)" stroke="url(#g373)"/>
<path class="t" d="M446.5 25.7L480.7 24.8L463.1 28.5Z" fill="url(#g374)" stroke="url(#g374)"/>
<path class="t" d="M428 29.4L446.5 25.7L463.1 28.5Z" fill="url(#g375)" stroke="url(#g375)"/>
<path class="t" d="M428 29.4L463.1 28.5L444.6 32.4Z" fill="url(#g376)" stroke="url(#g376)"/>
<path class="t" d="M408.4 33.3L428 29.4L444.6 32.4Z" fill="url(#g377)" stroke="url(#g377)"/>
<path class="t" d="M408.4 33.3L444.6 32.4L425.1 36.5Z" fill="url(#g378)" stroke="url(#g378)"/>
<path class="t" d="M528.6 14.8L543.1 11.7L559.7 14.1Z" fill="url(#g379)" stroke="url(#g379)"/>
<path class="t" d="M528.6 14.8L559.7 14.1L545.3 17.2Z" fill="url(#g380)" stroke="url(#g380)"/>
<path class="t" d="M513.4 18L528.6 14.8L545.3 17.2Z" fill="url(#g381)" stroke="url(#g381)"/>
<path class="t" d="M513.4 18L545.3 17.2L530.2 20.5Z" fill="url(#g382)" stroke="url(#g382)"/>
<path class="t" d="M497.4 21.3L513.4 18L530.2 20.5Z" fill="url(#g383)" stroke="url(#g383)"/>
<path class="t" d="M497.4 21.3L530.2 20.5L514.4 24Z" fill="url(#g384)" stroke="url(#g384)"/>
<path class="t" d="M480.7 24.8L497.4 21.3L514.4 24Z" fill="url(#g385)" stroke="url(#g385)"/>
<path class="t" d="M480.7 24.8L514.4 24L497.8 27.6Z" fill="url(#g386)" stroke="url(#g386)"/>
<path class="t" d="M463.1 28.5L480.7 24.8L497.8 27.6Z" fill="url(#g387)" stroke="url(#g387)"/>
<path class="t" d="M463.1 28.5L497.8 27.6L480.3 31.5Z" fill="url(#g388)" stroke="url(#g388)"/>
<path class="t" d="M444.6 32.4L463.1 28.5L480.3 31.5Z" fill="url(#g389)" stroke="url(#g389)"/>
<path class="t" d="M444.6 32.4L480.3 31.5L461.9 35.5Z" fill="url(#g390)" stroke="url(#g390)"/>
<path class="t" d="M425.1 36.5L444.6 32.4L461.9 35.5Z" fill="url(#g391)" stroke="url(#g391)"/>
<path class="t" d="M425.1 36.5L461.9 35.5L442.5 39.7Z" fill="url(#g392)" stroke="url(#g392)"/>
<path class="t" d="M545.3 17.2L559.7 14.1L576.8 16.5Z" fill="url(#g393)" stroke="url(#g393)"/>
<path class="t" d="M545.3 17.2L576.8 16.5L562.6 19.7Z" fill="url(#g394)" stroke="url(#g394)"/>
<path class="t" d="M530.2 20.5L545.3 17.2L562.6 19.7Z" fill="url(#g395)" stroke="url(#g395)"/>
<path class="t" d="M530.2 20.5L562.6 19.7L547.7 23.2Z" fill="url(#g396)" stroke="url(#g396)"/>
<path class="t" d="M514.4 24L530.2 20.5L547.7 23.2Z" fill="url(#g397)" stroke="url(#g397)"/>
<path class="t" d="M514.4 24L547.7 23.2L532 26.8Z" fill="url(#g398)" stroke="url(#g398)"/>
<path class="t" d="M497.8 27.6L514.4 24L532 26.8Z" fill="url(#g399)" stroke="url(#g399)"/>
<path class="t" d="M497.8 27.6L532 26.8L515.5 30.5Z" fill="url(#g400)" stroke="url(#g400)"/>
<path class="t" d="M480.3 31.5L497.8 27.6L515.5 30.5Z" fill="url(#g401)" stroke="url(#g401)"/>
<path class="t" d="M480.3 31.5L515.5 30.5L498.2 34.5Z" fill="url(#g402)" stroke="url(#g402)"/>
<path class="t" d="M461.9 35.5L480.3 31.5L498.2 34.5Z" fill="url(#g403)" stroke="url(#g403)"/>
<path class="t" d="M461.9 35.5L498.2 34.5L479.9 38.7Z" fill="url(#g404)" stroke="url(#g404)"/>
<path class="t" d="M442.5 39.7L461.9 35.5L479.9 38.7Z" fill="url(#g405)" stroke="url(#g405)"/>
<path class="t" d="M442.5 39.7L479.9 38.7L460.5 43.2Z" fill="url(#g406)" stroke="url(#g406)"/>
<path class="t" d="M562.6 19.7L576.8 16.5L594.6 19Z" fill="url(#g407)" stroke="url(#g407)"/>
<path class="t" d="M562.6 19.7L594.6 19L580.5 22.4Z" fill="url(#g408)" stroke="url(#g408)"/>
<path class="t" d="M547.7 23.2L562.6 19.7L580.5 22.4Z" fill="url(#g409)" stroke="url(#g409)"/>
<path class="t" d="M547.7 23.2L580.5 22.4L565.8 25.9Z" fill="url(#g410)" stroke="url(#g410)"/>
<path class="t" d="M532 26.8L547.7 23.2L565.8 25.9Z" fill="url(#g411)" stroke="url(#g411)"/>
<path class="t" d="M532 26.8L565.8 25.9L550.2 29.6Z" fill="url(#g412)" stroke="url(#g412)"/>
<path class="t" d="M515.5 30.5L532 26.8L550.2 29.6Z" fill="url(#g413)" stroke="url(#g413)"/>
<path class="t" d="M515.5 30.5L550.2 29.6L533.9 33.6Z" fill="url(#g414)" stroke="url(#g414)"/>
<path class="t" d="M498.2 34.5L515.5 30.5L533.9 33.6Z" fill="url(#g415)" stroke="url(#g415)"/>
<path class="t" d="M498.2 34.5L533.9 33.6L516.7 37.7Z" fill="url(#g416)" stroke="url(#g416)"/>
<path class="t" d="M479.9 38.7L498.2 34.5L516.7 37.7Z" fill="url(#g417)" stroke="url(#g417)"/>
<path class="t" d="M479.9 38.7L516.7 37.7L498.6 42.1Z" fill="url(#g418)" stroke="url(#g418)"/>
<path class="t" d="M460.5 43.2L479.9 38.7L498.6 42.1Z" fill="url(#g419)" stroke="url(#g419)"/>
<path class="t" d="M460.5 43.2L498.6 42.1L479.4 46.7Z" fill="url(#g420)" stroke="url(#g420)"/>
<path class="t" d="M580.5 22.4L594.6 19L612.9 21.6Z" fill="url(#g421)" stroke="url(#g421)"/>
<path class="t" d="M580.5 22.4L612.9 21.6L599.1 25.1Z" fill="url(#g422)" stroke="url(#g422)"/>
<path class="t" d="M565.8 25.9L580.5 22.4L599.1 25.1Z" fill="url(#g423)" stroke="url(#g423)"/>
<path class="t" d="M565.8 25.9L599.1 25.1L584.5 28.8Z" fill="url(#g424)" stroke="url(#g424)"/>
<path class="t" d="M550.2 29.6L565.8 25.9L584.5 28.8Z" fill="url(#g425)" stroke="url(#g425)"/>
<path class="t" d="M550.2 29.6L584.5 28.8L569.2 32.6Z" fill="url(#g426)" stroke="url(#g426)"/>
<path class="t" d="M533.9 33.6L550.2 29.6L569.2 32.6Z" fill="url(#g427)" stroke="url(#g427)"/>
<path class="t" d="M533.9 33.6L569.2 32.6L553.1 36.7Z" fill="url(#g428)" stroke="url(#g428)"/>
<path class="t" d="M516.7 37.7L533.9 33.6L553.1 36.7Z" fill="url(#g429)" stroke="url(#g429)"/>
<path class="t" d="M516.7 37.7L553.1 36.7L536 41Z" fill="url(#g430)" stroke="url(#g430)"/>
<path class="t" d="M498.6 42.1L516.7 37.7L536 41Z" fill="url(#g431)" stroke="url(#g431)"/>
<path class="t" d="M498.6 42.1L536 41L518.1 45.6Z" fill="url(#g432)" stroke="url(#g432)"/>
<path class="t" d="M479.4 46.7L498.6 42.1L518.1 45.6Z" fill="url(#g433)" stroke="url(#g433)"/>
<path class="t" d="M479.4 46.7L518.1 45.6L499 50.4Z" fill="url(#g434)" stroke="url(#g434)"/>
<path class="t" d="M599.1 25.1L612.9 21.6L632 24.2Z" fill="url(#g435)" stroke="url(#g435)"/>
<path class="t" d="M599.1 25.1L632 24.2L618.3 27.9Z" fill="url(#g436)" stroke="url(#g436)"/>
<path class="t" d="M584.5 28.8L599.1 25.1L618.3 27.9Z" fill="url(#g437)" stroke="url(#g437)"/>
<path class="t" d="M584.5 28.8L618.3 27.9L604 31.7Z" fill="url(#g438)" stroke="url(#g438)"/>
<path class="t" d="M569.2 32.6L584.5 28.8L604 31.7Z" fill="url(#g439)" stroke="url(#g439)"/>
<path class="t" d="M569.2 32.6L604 31.7L588.9 35.7Z" fill="url(#g440)" stroke="url(#g440)"/>
<path class="t" d="M553.1 36.7L569.2 32.6L588.9 35.7Z" fill="url(#g441)" stroke="url(#g441)"/>
<path class="t" d="M553.1 36.7L588.9 35.7L573 40Z" fill="url(#g442)" stroke="url(#g442)"/>
<path class="t" d="M536 41L553.1 36.7L573 40Z" fill="url(#g443)" stroke="url(#g443)"/>
<path class="t" d="M536 41L573 40L556.2 44.5Z" fill="url(#g444)" stroke="url(#g444)"/>
<path class="t" d="M518.1 45.6L536 41L556.2 44.5Z" fill="url(#g445)" stroke="url(#g445)"/>
<path class="t" d="M518.1 45.6L556.2 44.5L538.4 49.2Z" fill="url(#g446)" stroke="url(#g446)"/>
<path class="t" d="M499 50.4L518.1 45.6L538.4 49.2Z" fill="url(#g447)" stroke="url(#g447)"/>
<path class="t" d="M499 50.4L538.4 49.2L519.5 54.3Z" fill="url(#g448)" stroke="url(#g448)"/>
<path d="M441.7 18.4L436.1 19.8M436.1 19.8L434.8 22.1M453.5 14.4L441.8 16.8M461.8 15.7L458.5 16.4M441.8 16.8L441.7 18.4M458.5 16.4L458.6 17.5M467.8 11L454.2 13.7M472.6 11.8L464.1 13.5M477.6 12.5L473.9 13.3M454.2 13.7L453.5 14.4M464.1 13.5L461.8 15.7M473.9 13.3L472.4 14.8M482.5 8L468.5 10.7M486.1 8.6L475.7 10.6M489.7 9.1L482.9 10.4M493.3 9.6L490 10.3M468.5 10.7L467.8 11M475.7 10.6L472.6 11.8M482.9 10.4L477.6 12.5M490 10.3L484.5 12.5M496.9 5.2L482.9 7.9M499.7 5.6L488.5 7.8M502.5 6L494.1 7.7M505.4 6.4L499.7 7.5M508.3 6.8L505.3 7.4M511.2 7.2L510.8 7.3M482.9 7.9L482.5 8M488.5 7.8L486.1 8.6M494.1 7.7L489.7 9.1M499.7 7.5L493.3 9.6M505.3 7.4L497.5 10M510.8 7.3L509.9 7.6M418.1 27.6L409.8 29.8M409.8 29.8L406.6 33M431.6 23.1L419.2 26.3M440.1 24.5L434.9 25.9M419.2 26.3L418.1 27.6M434.9 25.9L433 28.4M434.8 22.1L431.8 22.9M451.6 20L441.7 22.6M457.1 20.9L451.7 22.4M462.7 21.8L461.5 22.2M431.8 22.9L431.6 23.1M441.7 22.6L440.1 24.5M451.7 22.4L449.5 25M461.5 22.2L461.1 22.7M458.6 17.5L452 19.4M467.3 16.6L458.1 19.3M470.9 17.1L464.1 19.1M474.5 17.7L470.2 19M478.1 18.2L476.2 18.8M452 19.4L451.6 20M458.1 19.3L457.1 20.9M464.1 19.1L462.7 21.8M470.2 19L469.1 21.1M476.2 18.8L475.8 19.8M472.4 14.8L468.9 16.1M482.3 13.2L474.9 16M486.3 13.9L481 15.9M490.3 14.5L487.1 15.7M494.4 15.1L493.1 15.6M468.9 16.1L467.3 16.6M474.9 16L470.9 17.1M481 15.9L474.5 17.7M487.1 15.7L478.1 18.2M493.1 15.6L484.6 18M484.5 12.5L482.8 13.1M497 10.2L489 12.9M501 10.7L495.1 12.8M505 11.3L501.2 12.7M509 11.9L507.3 12.5M482.8 13.1L482.3 13.2M489 12.9L486.3 13.9M495.1 12.8L490.3 14.5M501.2 12.7L494.4 15.1M507.3 12.5L501.6 14.6M497.5 10L497.1 10.1M509.9 7.6L503.4 10M515.1 7.8L509.6 9.9M519.3 8.4L515.8 9.7M523.5 9L522 9.6M497.1 10.1L497 10.2M503.4 10L501 10.7M509.6 9.9L505 11.3M515.8 9.7L509 11.9M522 9.6L514.7 11.9M429.8 29.7L419.4 33M436.8 31L431.4 32.7M443.9 32.2L443.4 32.4M419.4 33L419.9 35.5M431.4 32.7L432 35M443.4 32.4L443.5 32.6M433 28.4L430.3 29.3M447.9 25.9L439 29.1M453.3 26.8L447.6 28.9M458.7 27.7L456.3 28.7M430.3 29.3L429.8 29.7M439 29.1L436.8 31M447.6 28.9L443.9 32.2M456.3 28.7L454.5 30.3M449.5 25L448.7 25.6M461.1 22.7L457.1 25.4M468.9 22.9L465.5 25.2M475.4 23.9L473.9 25M448.7 25.6L447.9 25.9M457.1 25.4L453.3 26.8M465.5 25.2L458.7 27.7M473.9 25L466.7 27.7M469.1 21.1L472.2 21.9M475.8 19.8L483.1 21.6M487 19.7L493.9 21.4M472.2 21.9L468.9 22.9M483.1 21.6L475.4 23.9M493.9 21.4L486.9 23.5M484.6 18L486.2 18.6M486.2 18.6L487 19.7M501.6 14.6L507.6 15.3M514.7 11.9L523.1 12.2M523.1 12.2L536.3 13.1M432 35L455.8 34.4M443.5 32.6L445.6 32.6M454.7 37.1L431.5 37.7M477.1 30.9L451.8 32.2M454.5 30.3L469.2 29.6M471.2 33.4L455.8 34.4M451.8 32.2L445.6 32.6M493.7 26.9L483.5 28M466.7 27.7L486.5 25.8M488.8 29.6L477.1 30.9M483.5 28L469.2 29.6M508.4 23L498.7 24.4M486.9 23.5L500.1 21.7M508.8 25.2L493.7 26.9M498.7 24.4L486.5 25.8M526.6 20L520.7 20.7M519.9 19L503.1 21.2M520.7 20.7L508.4 23M503.1 21.2L500.1 21.7M539.5 16.4L530.5 17.6M542.3 17.9L526.6 20M530.5 17.6L519.9 19M536.3 13.1L546.8 12.2M552 15.7L539.5 16.4M454.7 37.1L472.6 37.4M466.6 41.8L451.4 41.4M471.2 33.4L495.9 34.1M484.1 37.7L472.6 37.4M488.8 29.6L509.2 29.5M499.9 34.1L495.9 34.1M508.8 25.2L521.8 25.1M520.2 29.5L509.2 29.5M545.9 23.6L521.8 25.1M542.3 17.9L548.5 17.7M552 15.7L568.6 15.3M574.7 17L548.5 17.7M466.6 41.8L472.3 42.8M472.3 42.8L484.9 45.4M484.1 37.7L489.7 38.5M489.7 38.5L503.5 40.9M499.9 34.1L502.6 34.4M502.6 34.4L522 36.4M520.2 29.5L527.7 30.2M527.7 30.2L541.9 31.7M545.9 23.6L554.4 24.2M568.9 25.2L554.4 24.2M574.7 17L589.8 19.1M589.8 19.1L592.8 19.4M484.9 45.4L489.7 46.4M489.7 46.4L501.6 49.8M503.5 40.9L509.3 41.8M509.3 41.8L522.3 44.5M522 36.4L528.6 37.4M528.6 37.4L542.6 39.4M541.9 31.7L550.9 33.1M550.9 33.1L561.5 34.6M568.9 25.2L571.3 25.8M571.3 25.8L585.1 28.6M592.8 19.4L602.2 21.8M602.2 21.8L607.9 22.8M501.6 49.8L503.6 50.3M503.6 50.3L509.2 52.3M522.3 44.5L526.9 45.3M526.9 45.3L540.8 48.6M542.6 39.4L550.1 40.6M550.1 40.6L562.7 42.8M561.5 34.6L570.4 36.3M570.4 36.3L580.8 37.9M586.1 29L595.3 31.9M595.3 31.9L599.9 32.8M585.1 28.6L585.2 28.7M585.2 28.7L586.1 29M607.9 22.8L612.1 24.7M612.1 24.7L620.2 27.4" fill="none" stroke="#333" stroke-width="0.45" stroke-opacity="0.55"/>
<line x1="383.3" y1="223.6" x2="376.9" y2="27.4" stroke="#555" stroke-width="1.0"/>
<line x1="383.3" y1="223.6" x2="517.8" y2="281.0" stroke="#3a3a3a" stroke-width="1.0"/>
<line x1="517.8" y1="281.0" x2="624.5" y2="215.6" stroke="#3a3a3a" stroke-width="1.0"/>
<line x1="383.3" y1="223.6" x2="380.7" y2="223.6" stroke="#444" stroke-width="0.9"/>
<text transform="translate(377.3 224.5) scale(0.7 1)" class="zt">10</text>
<line x1="382.6" y1="202.9" x2="380.0" y2="202.9" stroke="#444" stroke-width="0.9"/>
<text transform="translate(376.6 203.8) scale(0.7 1)" class="zt">15</text>
<line x1="381.9" y1="181.9" x2="379.3" y2="181.9" stroke="#444" stroke-width="0.9"/>
<text transform="translate(375.9 182.8) scale(0.7 1)" class="zt">20</text>
<line x1="381.2" y1="160.6" x2="378.6" y2="160.6" stroke="#444" stroke-width="0.9"/>
<text transform="translate(375.2 161.5) scale(0.7 1)" class="zt">25</text>
<line x1="380.5" y1="139.1" x2="377.9" y2="139.1" stroke="#444" stroke-width="0.9"/>
<text transform="translate(374.5 140.0) scale(0.7 1)" class="zt">30</text>
<line x1="379.8" y1="117.3" x2="377.2" y2="117.3" stroke="#444" stroke-width="0.9"/>
<text transform="translate(373.8 118.2) scale(0.7 1)" class="zt">35</text>
<line x1="379.1" y1="95.3" x2="376.5" y2="95.3" stroke="#444" stroke-width="0.9"/>
<text transform="translate(373.1 96.2) scale(0.7 1)" class="zt">40</text>
<line x1="378.4" y1="72.9" x2="375.8" y2="72.9" stroke="#444" stroke-width="0.9"/>
<text transform="translate(372.4 73.8) scale(0.7 1)" class="zt">45</text>
<line x1="377.6" y1="50.3" x2="375.0" y2="50.3" stroke="#444" stroke-width="0.9"/>
<text transform="translate(371.6 51.2) scale(0.7 1)" class="zt">50</text>
<line x1="376.9" y1="27.4" x2="374.3" y2="27.4" stroke="#444" stroke-width="0.9"/>
<text transform="translate(370.9 28.3) scale(0.7 1)" class="zt">55</text>
<line x1="383.3" y1="223.6" x2="382.3" y2="226.0" stroke="#3a3a3a" stroke-width="0.9"/>
<text transform="translate(381.3 230.8) matrix(1.0 -0.48 0.45 0.62 0 0)" class="tl">0.<tspan dx="1.2">1</tspan></text>
<line x1="398.0" y1="229.9" x2="397.3" y2="231.5" stroke="#3a3a3a" stroke-width="0.7"/>
<line x1="413.2" y1="236.4" x2="412.2" y2="238.8" stroke="#3a3a3a" stroke-width="0.9"/>
<text transform="translate(411.2 243.6) matrix(1.0 -0.48 0.45 0.62 0 0)" class="tl">0.<tspan dx="1.2">2</tspan></text>
<line x1="429.0" y1="243.1" x2="428.3" y2="244.7" stroke="#3a3a3a" stroke-width="0.7"/>
<line x1="445.5" y1="250.1" x2="444.5" y2="252.5" stroke="#3a3a3a" stroke-width="0.9"/>
<text transform="translate(443.5 257.3) matrix(1.0 -0.48 0.45 0.62 0 0)" class="tl">0.<tspan dx="1.2">3</tspan></text>
<line x1="462.5" y1="257.4" x2="461.8" y2="259.0" stroke="#3a3a3a" stroke-width="0.7"/>
<line x1="480.2" y1="264.9" x2="479.2" y2="267.3" stroke="#3a3a3a" stroke-width="0.9"/>
<text transform="translate(478.2 272.1) matrix(1.0 -0.48 0.45 0.62 0 0)" class="tl">0.<tspan dx="1.2">4</tspan></text>
<line x1="498.6" y1="272.8" x2="497.9" y2="274.4" stroke="#3a3a3a" stroke-width="0.7"/>
<line x1="517.8" y1="281.0" x2="516.8" y2="283.4" stroke="#3a3a3a" stroke-width="0.9"/>
<text transform="translate(515.8 288.2) matrix(1.0 -0.48 0.45 0.62 0 0)" class="tl">0.<tspan dx="1.2">5</tspan></text>
<line x1="517.8" y1="281.0" x2="519.3" y2="281.8" stroke="#3a3a3a" stroke-width="0.7"/>
<line x1="535.5" y1="270.1" x2="537.9" y2="271.3" stroke="#3a3a3a" stroke-width="0.9"/>
<text transform="translate(544.5 276.1) matrix(0.94 0.34 -0.5 0.32 0 0)" class="tl">0.<tspan dx="1.2">2</tspan></text>
<line x1="552.3" y1="259.8" x2="553.8" y2="260.6" stroke="#3a3a3a" stroke-width="0.7"/>
<line x1="568.2" y1="250.1" x2="570.6" y2="251.3" stroke="#3a3a3a" stroke-width="0.9"/>
<text transform="translate(577.2 256.1) matrix(0.94 0.34 -0.5 0.32 0 0)" class="tl">0.<tspan dx="1.2">4</tspan></text>
<line x1="583.4" y1="240.8" x2="584.9" y2="241.6" stroke="#3a3a3a" stroke-width="0.7"/>
<line x1="597.7" y1="232.0" x2="600.1" y2="233.2" stroke="#3a3a3a" stroke-width="0.9"/>
<text transform="translate(606.7 238.0) matrix(0.94 0.34 -0.5 0.32 0 0)" class="tl">0.<tspan dx="1.2">6</tspan></text>
<line x1="611.4" y1="223.6" x2="612.9" y2="224.4" stroke="#3a3a3a" stroke-width="0.7"/>
<line x1="624.5" y1="215.6" x2="626.9" y2="216.8" stroke="#3a3a3a" stroke-width="0.9"/>
<text transform="translate(633.5 221.6) matrix(0.94 0.34 -0.5 0.32 0 0)" class="tl">0.<tspan dx="1.2">8</tspan></text>
<text transform="translate(9.8 243.1) rotate(-90)" class="ttl" textLength="216.4" lengthAdjust="spacingAndGlyphs">Maximum axial pressure of the bearing（MN）</text>
<text transform="translate(56.8 259.3) rotate(24.2) skewX(-18)" class="axt" textLength="67" lengthAdjust="spacingAndGlyphs">Excitation period (s)</text>
<text transform="translate(223.0 285.0) rotate(-31.8) skewX(18)" class="axt" textLength="75" lengthAdjust="spacingAndGlyphs">Amplitude of excitation (g)</text>
<text transform="translate(360.3 234.6) rotate(-91.1)" class="ttl" textLength="215.1" lengthAdjust="spacingAndGlyphs">Maximum axial pressure of the bearing（MN）</text>
<text transform="translate(397.9 256.8) rotate(24.2) skewX(-18)" class="axt" textLength="67" lengthAdjust="spacingAndGlyphs">Excitation period (s)</text>
<text transform="translate(574.5 278.0) rotate(-31.8) skewX(18)" class="axt" textLength="75" lengthAdjust="spacingAndGlyphs">Amplitude of excitation (g)</text>
<rect x="296.2" y="14.8" width="14.7" height="1.5" fill="#c4c4c4"/>
<rect x="296.2" y="16.3" width="14.7" height="187.1" fill="url(#cb449)"/>
<line x1="310.9" y1="17.1" x2="313.9" y2="17.1" stroke="#333" stroke-width="0.8"/>
<text x="315.9" y="19.9" class="cb">36.<tspan dx="1.3">50</tspan></text>
<line x1="310.9" y1="35.7" x2="313.9" y2="35.7" stroke="#333" stroke-width="0.8"/>
<text x="315.9" y="38.5" class="cb">34.<tspan dx="1.3">01</tspan></text>
<line x1="310.9" y1="54.2" x2="313.9" y2="54.2" stroke="#333" stroke-width="0.8"/>
<text x="315.9" y="57.0" class="cb">31.<tspan dx="1.3">52</tspan></text>
<line x1="310.9" y1="72.8" x2="313.9" y2="72.8" stroke="#333" stroke-width="0.8"/>
<text x="315.9" y="75.5" class="cb">29.<tspan dx="1.3">03</tspan></text>
<line x1="310.9" y1="91.3" x2="313.9" y2="91.3" stroke="#333" stroke-width="0.8"/>
<text x="315.9" y="94.1" class="cb">26.<tspan dx="1.3">54</tspan></text>
<line x1="310.9" y1="109.8" x2="313.9" y2="109.8" stroke="#333" stroke-width="0.8"/>
<text x="315.9" y="112.6" class="cb">24.<tspan dx="1.3">05</tspan></text>
<line x1="310.9" y1="128.4" x2="313.9" y2="128.4" stroke="#333" stroke-width="0.8"/>
<text x="315.9" y="131.2" class="cb">21.<tspan dx="1.3">56</tspan></text>
<line x1="310.9" y1="146.9" x2="313.9" y2="146.9" stroke="#333" stroke-width="0.8"/>
<text x="315.9" y="149.8" class="cb">19.<tspan dx="1.3">07</tspan></text>
<line x1="310.9" y1="165.5" x2="313.9" y2="165.5" stroke="#333" stroke-width="0.8"/>
<text x="315.9" y="168.3" class="cb">16.<tspan dx="1.3">58</tspan></text>
<line x1="310.9" y1="184.0" x2="313.9" y2="184.0" stroke="#333" stroke-width="0.8"/>
<text x="315.9" y="186.8" class="cb">14.<tspan dx="1.3">09</tspan></text>
<line x1="310.9" y1="202.6" x2="313.9" y2="202.6" stroke="#333" stroke-width="0.8"/>
<text x="315.9" y="205.4" class="cb">11.<tspan dx="1.3">60</tspan></text>
<rect x="644.6" y="16.6" width="14.0" height="1.5" fill="#c4c4c4"/>
<rect x="644.6" y="18.1" width="14.0" height="186.2" fill="url(#cb450)"/>
<line x1="658.6" y1="18.9" x2="661.6" y2="18.9" stroke="#333" stroke-width="0.8"/>
<text x="663.6" y="21.7" class="cb">43.<tspan dx="1.3">40</tspan></text>
<line x1="658.6" y1="37.4" x2="661.6" y2="37.4" stroke="#333" stroke-width="0.8"/>
<text x="663.6" y="40.2" class="cb">40.<tspan dx="1.3">45</tspan></text>
<line x1="658.6" y1="55.8" x2="661.6" y2="55.8" stroke="#333" stroke-width="0.8"/>
<text x="663.6" y="58.6" class="cb">37.<tspan dx="1.3">50</tspan></text>
<line x1="658.6" y1="74.3" x2="661.6" y2="74.3" stroke="#333" stroke-width="0.8"/>
<text x="663.6" y="77.1" class="cb">34.<tspan dx="1.3">55</tspan></text>
<line x1="658.6" y1="92.7" x2="661.6" y2="92.7" stroke="#333" stroke-width="0.8"/>
<text x="663.6" y="95.5" class="cb">31.<tspan dx="1.3">60</tspan></text>
<line x1="658.6" y1="111.2" x2="661.6" y2="111.2" stroke="#333" stroke-width="0.8"/>
<text x="663.6" y="114.0" class="cb">28.<tspan dx="1.3">65</tspan></text>
<line x1="658.6" y1="129.7" x2="661.6" y2="129.7" stroke="#333" stroke-width="0.8"/>
<text x="663.6" y="132.5" class="cb">25.<tspan dx="1.3">70</tspan></text>
<line x1="658.6" y1="148.1" x2="661.6" y2="148.1" stroke="#333" stroke-width="0.8"/>
<text x="663.6" y="150.9" class="cb">22.<tspan dx="1.3">75</tspan></text>
<line x1="658.6" y1="166.6" x2="661.6" y2="166.6" stroke="#333" stroke-width="0.8"/>
<text x="663.6" y="169.4" class="cb">19.<tspan dx="1.3">80</tspan></text>
<line x1="658.6" y1="185.0" x2="661.6" y2="185.0" stroke="#333" stroke-width="0.8"/>
<text x="663.6" y="187.8" class="cb">16.<tspan dx="1.3">85</tspan></text>
<line x1="658.6" y1="203.5" x2="661.6" y2="203.5" stroke="#333" stroke-width="0.8"/>
<text x="663.6" y="206.3" class="cb">13.<tspan dx="1.3">90</tspan></text>
<text x="238.5" y="326" class="cap">(a)</text>
<text x="428" y="326" class="cap">(b)</text>
</svg></body></html>
